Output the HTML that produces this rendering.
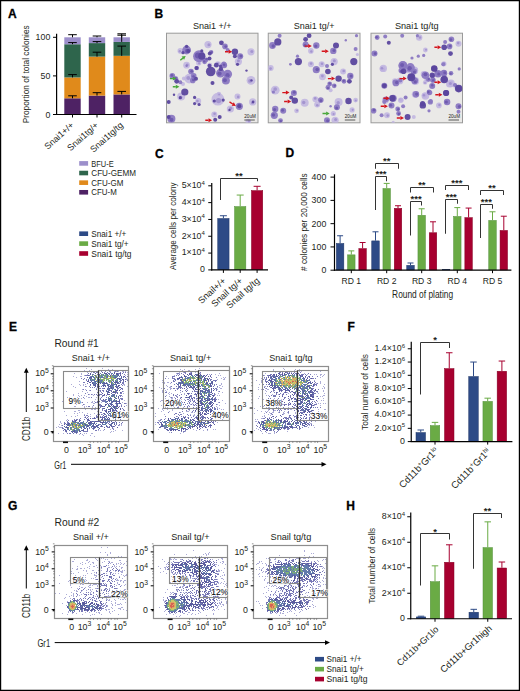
<!DOCTYPE html>
<html><head><meta charset="utf-8"><style>
html,body{margin:0;padding:0;background:#fff;overflow:hidden;width:520px;height:691px;}
svg{display:block;font-family:"Liberation Sans",sans-serif;}
</style></head><body>
<svg width="520" height="691" viewBox="0 0 520 691" fill="#231f20">
<rect x="0" y="0" width="520" height="691" fill="#fff"/>
<text x="8" y="18.2" font-size="12" font-weight="bold" fill="#000" stroke="#000" stroke-width="0.3">A</text>
<text x="154.5" y="18.2" font-size="12" font-weight="bold" fill="#000" stroke="#000" stroke-width="0.3">B</text>
<text x="155" y="157.5" font-size="12" font-weight="bold" fill="#000" stroke="#000" stroke-width="0.3">C</text>
<text x="285.5" y="157.2" font-size="12" font-weight="bold" fill="#000" stroke="#000" stroke-width="0.3">D</text>
<text x="9" y="331.4" font-size="12" font-weight="bold" fill="#000" stroke="#000" stroke-width="0.3">E</text>
<text x="347.5" y="331.4" font-size="12" font-weight="bold" fill="#000" stroke="#000" stroke-width="0.3">F</text>
<text x="8" y="510.2" font-size="12" font-weight="bold" fill="#000" stroke="#000" stroke-width="0.3">G</text>
<text x="346.2" y="509.6" font-size="12" font-weight="bold" fill="#000" stroke="#000" stroke-width="0.3">H</text>
<rect x="64.3" y="98.288" width="16.4" height="16.212000000000003" fill="#4e2264"/>
<rect x="64.3" y="77.444" width="16.4" height="20.843999999999994" fill="#e08a1b"/>
<rect x="64.3" y="44.248000000000005" width="16.4" height="33.196" fill="#2e654c"/>
<rect x="64.3" y="37.3" width="16.4" height="6.9480000000000075" fill="#9c8fcb"/>
<rect x="88.8" y="95.586" width="16.4" height="18.914" fill="#4e2264"/>
<rect x="88.8" y="56.6" width="16.4" height="38.986" fill="#e08a1b"/>
<rect x="88.8" y="43.09" width="16.4" height="13.509999999999998" fill="#2e654c"/>
<rect x="88.8" y="37.3" width="16.4" height="5.790000000000006" fill="#9c8fcb"/>
<rect x="113.5" y="94.428" width="16.4" height="20.072000000000003" fill="#4e2264"/>
<rect x="113.5" y="55.827999999999996" width="16.4" height="38.6" fill="#e08a1b"/>
<rect x="113.5" y="41.932" width="16.4" height="13.895999999999994" fill="#2e654c"/>
<rect x="113.5" y="37.3" width="16.4" height="4.632000000000005" fill="#9c8fcb"/>
<line x1="72.5" y1="98.3" x2="72.5" y2="95.8" stroke="#000" stroke-width="1"/>
<line x1="68.2" y1="95.8" x2="76.8" y2="95.8" stroke="#000" stroke-width="1"/>
<line x1="72.5" y1="77.4" x2="72.5" y2="74.6" stroke="#000" stroke-width="1"/>
<line x1="68.2" y1="74.6" x2="76.8" y2="74.6" stroke="#000" stroke-width="1"/>
<line x1="72.5" y1="44.2" x2="72.5" y2="42.6" stroke="#000" stroke-width="1"/>
<line x1="68.2" y1="42.6" x2="76.8" y2="42.6" stroke="#000" stroke-width="1"/>
<line x1="72.5" y1="37.3" x2="72.5" y2="34.7" stroke="#000" stroke-width="1"/>
<line x1="68.2" y1="34.7" x2="76.8" y2="34.7" stroke="#000" stroke-width="1"/>
<line x1="97" y1="95.6" x2="97" y2="92.7" stroke="#000" stroke-width="1"/>
<line x1="92.7" y1="92.7" x2="101.3" y2="92.7" stroke="#000" stroke-width="1"/>
<line x1="97" y1="56.6" x2="97" y2="52.2" stroke="#000" stroke-width="1"/>
<line x1="92.7" y1="52.2" x2="101.3" y2="52.2" stroke="#000" stroke-width="1"/>
<line x1="97" y1="43.1" x2="97" y2="41.6" stroke="#000" stroke-width="1"/>
<line x1="92.7" y1="41.6" x2="101.3" y2="41.6" stroke="#000" stroke-width="1"/>
<line x1="97" y1="37.3" x2="97" y2="36" stroke="#000" stroke-width="1"/>
<line x1="92.7" y1="36" x2="101.3" y2="36" stroke="#000" stroke-width="1"/>
<line x1="121.7" y1="94.4" x2="121.7" y2="91.4" stroke="#000" stroke-width="1"/>
<line x1="117.4" y1="91.4" x2="126.0" y2="91.4" stroke="#000" stroke-width="1"/>
<line x1="121.7" y1="55.8" x2="121.7" y2="46.1" stroke="#000" stroke-width="1"/>
<line x1="117.4" y1="46.1" x2="126.0" y2="46.1" stroke="#000" stroke-width="1"/>
<line x1="121.7" y1="41.9" x2="121.7" y2="33.8" stroke="#000" stroke-width="1"/>
<line x1="117.4" y1="33.8" x2="126.0" y2="33.8" stroke="#000" stroke-width="1"/>
<line x1="121.7" y1="37.3" x2="121.7" y2="35.2" stroke="#000" stroke-width="1"/>
<line x1="117.4" y1="35.2" x2="126.0" y2="35.2" stroke="#000" stroke-width="1"/>
<line x1="56.6" y1="33.8" x2="56.6" y2="115.0" stroke="#000" stroke-width="1.2"/>
<line x1="56.0" y1="114.5" x2="136.5" y2="114.5" stroke="#000" stroke-width="1.2"/>
<line x1="53" y1="114.5" x2="56.6" y2="114.5" stroke="#000" stroke-width="1"/>
<line x1="53" y1="75.9" x2="56.6" y2="75.9" stroke="#000" stroke-width="1"/>
<line x1="53" y1="37.3" x2="56.6" y2="37.3" stroke="#000" stroke-width="1"/>
<line x1="72.5" y1="114.5" x2="72.5" y2="117.5" stroke="#000" stroke-width="1"/>
<line x1="97" y1="114.5" x2="97" y2="117.5" stroke="#000" stroke-width="1"/>
<line x1="121.7" y1="114.5" x2="121.7" y2="117.5" stroke="#000" stroke-width="1"/>
<text x="50.3" y="117.6" font-size="8.8" text-anchor="end">0</text>
<text x="50.3" y="79.0" font-size="8.8" text-anchor="end">50</text>
<text x="50.3" y="40.4" font-size="8.8" text-anchor="end">100</text>
<text transform="translate(29.2 123.3) rotate(-90)" font-size="9" textLength="98" lengthAdjust="spacingAndGlyphs">Proportion of total colonies</text>
<text transform="translate(74.5 126.0) rotate(-42)" font-size="9.0" text-anchor="end">Snai1+/+</text>
<text transform="translate(99.0 126.0) rotate(-42)" font-size="9.0" text-anchor="end">Snai1tg/+</text>
<text transform="translate(123.7 126.0) rotate(-42)" font-size="9.0" text-anchor="end">Snai1tg/tg</text>
<rect x="79.2" y="161.1" width="8.9" height="4.6" fill="#9c8fcb"/>
<text x="91.3" y="166.5" font-size="8.9" textLength="22.4" lengthAdjust="spacingAndGlyphs">BFU-E</text>
<rect x="79.2" y="170.73" width="8.9" height="4.6" fill="#2e654c"/>
<text x="91.3" y="176.13" font-size="8.9" textLength="44.6" lengthAdjust="spacingAndGlyphs">CFU-GEMM</text>
<rect x="79.2" y="180.35999999999999" width="8.9" height="4.6" fill="#e08a1b"/>
<text x="91.3" y="185.76" font-size="8.9" textLength="32" lengthAdjust="spacingAndGlyphs">CFU-GM</text>
<rect x="79.2" y="189.99" width="8.9" height="4.6" fill="#4e2264"/>
<text x="91.3" y="195.39000000000001" font-size="8.9" textLength="25.5" lengthAdjust="spacingAndGlyphs">CFU-M</text>
<rect x="79.2" y="231.39999999999998" width="8.9" height="4.6" fill="#2d4a86"/>
<text x="91.3" y="236.89999999999998" font-size="9.1" textLength="35" lengthAdjust="spacingAndGlyphs">Snai1 +/+</text>
<rect x="79.2" y="241.29999999999998" width="8.9" height="4.6" fill="#6aab45"/>
<text x="91.3" y="246.79999999999998" font-size="9.1" textLength="37.4" lengthAdjust="spacingAndGlyphs">Snai1 tg/+</text>
<rect x="79.2" y="251.2" width="8.9" height="4.6" fill="#a7002f"/>
<text x="91.3" y="256.7" font-size="9.1" textLength="40.2" lengthAdjust="spacingAndGlyphs">Snai1 tg/tg</text>
<text x="212.25" y="28.5" font-size="9.5" text-anchor="middle" textLength="38.75" lengthAdjust="spacingAndGlyphs">Snai1 +/+</text>
<rect x="166.5" y="33.2" width="91.5" height="89.6" fill="#eae9e7" stroke="#9a9a9a" stroke-width="1"/>
<text x="314.125" y="28.5" font-size="9.5" text-anchor="middle" textLength="40.75" lengthAdjust="spacingAndGlyphs">Snai1 tg/+</text>
<rect x="268.25" y="33.2" width="91.75" height="89.6" fill="#eae9e7" stroke="#9a9a9a" stroke-width="1"/>
<text x="416.75" y="28.5" font-size="9.5" text-anchor="middle" textLength="43.75" lengthAdjust="spacingAndGlyphs">Snai1 tg/tg</text>
<rect x="371" y="33.2" width="91.5" height="89.6" fill="#eae9e7" stroke="#9a9a9a" stroke-width="1"/>
<defs><filter id="bl" x="-20%" y="-20%" width="140%" height="140%"><feGaussianBlur stdDeviation="0.35"/></filter><filter id="fb" x="-5%" y="-5%" width="110%" height="110%"><feGaussianBlur stdDeviation="0.5"/></filter><clipPath id="c1"><rect x="166.5" y="33.2" width="91.5" height="89.6"/></clipPath><clipPath id="c2"><rect x="268.25" y="33.2" width="91.75" height="89.6"/></clipPath><clipPath id="c3"><rect x="371" y="33.2" width="91.5" height="89.6"/></clipPath></defs>
<g clip-path="url(#c1)"><g filter="url(#bl)"><circle cx="217.9" cy="99.2" r="6.4" fill="#c0b4e0" fill-opacity="0.85"/><circle cx="218.6" cy="100.6" r="2.7" fill="#9c8ccc" fill-opacity="0.8"/><circle cx="189.2" cy="78.6" r="4.8" fill="#c0b4e0" fill-opacity="0.85"/><circle cx="188.3" cy="77.9" r="2.0" fill="#9c8ccc" fill-opacity="0.8"/><circle cx="251.0" cy="80.4" r="4.4" fill="#c0b4e0" fill-opacity="0.85"/><circle cx="250.0" cy="80.9" r="1.9" fill="#9c8ccc" fill-opacity="0.8"/><circle cx="181.2" cy="96.5" r="4.0" fill="#c0b4e0" fill-opacity="0.85"/><circle cx="180.7" cy="97.4" r="1.7" fill="#9c8ccc" fill-opacity="0.8"/><circle cx="208.0" cy="44.6" r="3.6" fill="#c0b4e0" fill-opacity="0.85"/><circle cx="208.9" cy="44.8" r="1.5" fill="#9c8ccc" fill-opacity="0.8"/><circle cx="238.4" cy="61.6" r="3.6" fill="#c0b4e0" fill-opacity="0.85"/><circle cx="238.4" cy="60.7" r="1.5" fill="#9c8ccc" fill-opacity="0.8"/><circle cx="251.0" cy="51.8" r="3.6" fill="#c0b4e0" fill-opacity="0.85"/><circle cx="251.8" cy="51.5" r="1.5" fill="#9c8ccc" fill-opacity="0.8"/><circle cx="252.7" cy="101.9" r="3.6" fill="#c0b4e0" fill-opacity="0.85"/><circle cx="252.5" cy="102.7" r="1.5" fill="#9c8ccc" fill-opacity="0.8"/><circle cx="230.4" cy="109.0" r="3.6" fill="#c0b4e0" fill-opacity="0.85"/><circle cx="230.7" cy="108.2" r="1.5" fill="#9c8ccc" fill-opacity="0.8"/><circle cx="186.6" cy="65.2" r="3.4" fill="#c0b4e0" fill-opacity="0.85"/><circle cx="187.3" cy="64.9" r="1.4" fill="#9c8ccc" fill-opacity="0.8"/><circle cx="217.9" cy="64.3" r="3.0" fill="#c0b4e0" fill-opacity="0.85"/><circle cx="217.8" cy="63.6" r="1.3" fill="#9c8ccc" fill-opacity="0.8"/><circle cx="198.2" cy="101.0" r="3.0" fill="#c0b4e0" fill-opacity="0.85"/><circle cx="197.4" cy="101.0" r="1.3" fill="#9c8ccc" fill-opacity="0.8"/><circle cx="237.5" cy="96.5" r="3.0" fill="#c0b4e0" fill-opacity="0.85"/><circle cx="238.2" cy="96.9" r="1.3" fill="#9c8ccc" fill-opacity="0.8"/><circle cx="214.3" cy="114.4" r="3.0" fill="#c0b4e0" fill-opacity="0.85"/><circle cx="214.6" cy="113.7" r="1.3" fill="#9c8ccc" fill-opacity="0.8"/><circle cx="180.3" cy="50.9" r="2.8" fill="#c0b4e0" fill-opacity="0.85"/><circle cx="179.8" cy="51.3" r="1.2" fill="#9c8ccc" fill-opacity="0.8"/><circle cx="248.3" cy="121.5" r="2.8" fill="#c0b4e0" fill-opacity="0.85"/><circle cx="249.0" cy="121.5" r="1.2" fill="#9c8ccc" fill-opacity="0.8"/><circle cx="198.7" cy="62.9" r="2.6" fill="#c0b4e0" fill-opacity="0.85"/><circle cx="199.1" cy="63.4" r="1.1" fill="#9c8ccc" fill-opacity="0.8"/><circle cx="209.8" cy="65.2" r="2.4" fill="#c0b4e0" fill-opacity="0.85"/><circle cx="209.3" cy="64.9" r="1.0" fill="#9c8ccc" fill-opacity="0.8"/><circle cx="218.9" cy="94.0" r="2.2" fill="#c0b4e0" fill-opacity="0.85"/><circle cx="219.1" cy="94.5" r="0.9" fill="#9c8ccc" fill-opacity="0.8"/><circle cx="183.0" cy="84.0" r="2.0" fill="#c0b4e0" fill-opacity="0.85"/><circle cx="183.9" cy="78.6" r="2.0" fill="#c0b4e0" fill-opacity="0.85"/><circle cx="199.1" cy="56.2" r="6.0" fill="#8b79c2" fill-opacity="0.95"/><circle cx="197.9" cy="55.4" r="3.0" fill="#6853aa" fill-opacity="0.8"/><circle cx="186.6" cy="50.0" r="4.4" fill="#8b79c2" fill-opacity="0.95"/><circle cx="187.2" cy="50.9" r="2.2" fill="#6853aa" fill-opacity="0.8"/><circle cx="220.5" cy="73.2" r="4.4" fill="#8b79c2" fill-opacity="0.95"/><circle cx="219.5" cy="73.6" r="2.2" fill="#6853aa" fill-opacity="0.8"/><circle cx="227.7" cy="74.1" r="4.4" fill="#8b79c2" fill-opacity="0.95"/><circle cx="227.5" cy="75.2" r="2.2" fill="#6853aa" fill-opacity="0.8"/><circle cx="225.9" cy="80.4" r="4.0" fill="#8b79c2" fill-opacity="0.95"/><circle cx="224.9" cy="80.3" r="2.0" fill="#6853aa" fill-opacity="0.8"/><circle cx="171.4" cy="118.8" r="4.0" fill="#8b79c2" fill-opacity="0.95"/><circle cx="171.5" cy="119.8" r="2.0" fill="#6853aa" fill-opacity="0.8"/><circle cx="239.3" cy="106.3" r="3.6" fill="#8b79c2" fill-opacity="0.95"/><circle cx="239.3" cy="105.4" r="1.8" fill="#6853aa" fill-opacity="0.8"/><circle cx="240.2" cy="56.2" r="3.0" fill="#8b79c2" fill-opacity="0.95"/><circle cx="240.9" cy="56.0" r="1.5" fill="#6853aa" fill-opacity="0.8"/><circle cx="224.1" cy="65.2" r="3.0" fill="#8b79c2" fill-opacity="0.95"/><circle cx="224.8" cy="64.9" r="1.5" fill="#6853aa" fill-opacity="0.8"/><circle cx="225.0" cy="46.4" r="2.8" fill="#8b79c2" fill-opacity="0.95"/><circle cx="225.7" cy="46.6" r="1.4" fill="#6853aa" fill-opacity="0.8"/><circle cx="191.0" cy="71.5" r="2.8" fill="#8b79c2" fill-opacity="0.95"/><circle cx="191.7" cy="71.3" r="1.4" fill="#6853aa" fill-opacity="0.8"/><circle cx="193.7" cy="75.9" r="2.8" fill="#8b79c2" fill-opacity="0.95"/><circle cx="193.6" cy="76.6" r="1.4" fill="#6853aa" fill-opacity="0.8"/><circle cx="192.8" cy="80.4" r="2.8" fill="#8b79c2" fill-opacity="0.95"/><circle cx="193.4" cy="79.9" r="1.4" fill="#6853aa" fill-opacity="0.8"/><circle cx="172.3" cy="75.9" r="2.8" fill="#8b79c2" fill-opacity="0.95"/><circle cx="171.9" cy="75.4" r="1.4" fill="#6853aa" fill-opacity="0.8"/><circle cx="223.8" cy="64.1" r="2.6" fill="#8b79c2" fill-opacity="0.95"/><circle cx="224.1" cy="64.7" r="1.3" fill="#6853aa" fill-opacity="0.8"/><circle cx="206.2" cy="59.8" r="2.4" fill="#8b79c2" fill-opacity="0.95"/><circle cx="206.4" cy="59.3" r="1.2" fill="#6853aa" fill-opacity="0.8"/><circle cx="175.8" cy="78.6" r="2.4" fill="#8b79c2" fill-opacity="0.95"/><circle cx="175.7" cy="78.0" r="1.2" fill="#6853aa" fill-opacity="0.8"/><circle cx="204.6" cy="61.8" r="2.4" fill="#8b79c2" fill-opacity="0.95"/><circle cx="204.2" cy="61.4" r="1.2" fill="#6853aa" fill-opacity="0.8"/><circle cx="211.2" cy="52.1" r="2.2" fill="#8b79c2" fill-opacity="0.95"/><circle cx="211.8" cy="52.1" r="1.1" fill="#6853aa" fill-opacity="0.8"/><circle cx="196.9" cy="68.1" r="2.2" fill="#8b79c2" fill-opacity="0.95"/><circle cx="197.3" cy="67.6" r="1.1" fill="#6853aa" fill-opacity="0.8"/><circle cx="227.7" cy="50.0" r="2.0" fill="#8b79c2" fill-opacity="0.95"/><circle cx="180.3" cy="82.2" r="2.0" fill="#8b79c2" fill-opacity="0.95"/><circle cx="186.6" cy="65.7" r="1.2" fill="#8b79c2" fill-opacity="0.95"/><circle cx="210.7" cy="71.5" r="4.8" fill="#5b469e" fill-opacity="0.95"/><circle cx="201.8" cy="56.2" r="3.6" fill="#5b469e" fill-opacity="0.95"/><circle cx="184.8" cy="92.0" r="3.6" fill="#5b469e" fill-opacity="0.95"/><circle cx="234.9" cy="51.8" r="3.2" fill="#5b469e" fill-opacity="0.95"/><circle cx="221.4" cy="42.8" r="2.4" fill="#5b469e" fill-opacity="0.95"/><circle cx="176.7" cy="81.3" r="2.4" fill="#5b469e" fill-opacity="0.95"/><circle cx="216.3" cy="65.2" r="2.4" fill="#5b469e" fill-opacity="0.95"/><circle cx="220.9" cy="68.9" r="2.2" fill="#5b469e" fill-opacity="0.95"/><circle cx="188.4" cy="50.9" r="2.0" fill="#5b469e" fill-opacity="0.95"/><circle cx="209.8" cy="53.6" r="2.0" fill="#5b469e" fill-opacity="0.95"/><circle cx="234.9" cy="56.2" r="2.0" fill="#5b469e" fill-opacity="0.95"/><circle cx="196.4" cy="67.9" r="2.0" fill="#5b469e" fill-opacity="0.95"/><circle cx="212.5" cy="83.1" r="2.0" fill="#5b469e" fill-opacity="0.95"/><circle cx="168.7" cy="101.9" r="2.0" fill="#5b469e" fill-opacity="0.95"/><circle cx="239.3" cy="106.3" r="2.0" fill="#5b469e" fill-opacity="0.95"/><circle cx="215.2" cy="119.7" r="2.0" fill="#5b469e" fill-opacity="0.95"/><circle cx="219.7" cy="117.1" r="2.0" fill="#5b469e" fill-opacity="0.95"/><circle cx="168.7" cy="117.1" r="2.0" fill="#5b469e" fill-opacity="0.95"/><circle cx="209.5" cy="58.6" r="2.0" fill="#5b469e" fill-opacity="0.95"/><circle cx="196.0" cy="78.8" r="2.0" fill="#5b469e" fill-opacity="0.95"/><circle cx="209.5" cy="65.7" r="2.0" fill="#5b469e" fill-opacity="0.95"/><circle cx="186.6" cy="46.4" r="1.6" fill="#5b469e" fill-opacity="0.95"/><circle cx="183.0" cy="52.7" r="1.6" fill="#5b469e" fill-opacity="0.95"/><circle cx="201.8" cy="50.9" r="1.6" fill="#5b469e" fill-opacity="0.95"/><circle cx="237.5" cy="64.3" r="1.6" fill="#5b469e" fill-opacity="0.95"/><circle cx="220.5" cy="66.1" r="1.6" fill="#5b469e" fill-opacity="0.95"/><circle cx="180.3" cy="97.7" r="1.6" fill="#5b469e" fill-opacity="0.95"/><circle cx="194.6" cy="97.4" r="1.6" fill="#5b469e" fill-opacity="0.95"/><circle cx="194.6" cy="103.6" r="1.6" fill="#5b469e" fill-opacity="0.95"/><circle cx="199.1" cy="104.5" r="1.6" fill="#5b469e" fill-opacity="0.95"/><circle cx="214.3" cy="101.0" r="1.6" fill="#5b469e" fill-opacity="0.95"/><circle cx="223.2" cy="100.1" r="1.6" fill="#5b469e" fill-opacity="0.95"/><circle cx="253.1" cy="101.9" r="1.4" fill="#5b469e" fill-opacity="0.95"/><circle cx="246.5" cy="70.6" r="1.2" fill="#5b469e" fill-opacity="0.95"/><circle cx="251.5" cy="80.4" r="1.2" fill="#5b469e" fill-opacity="0.95"/><circle cx="174.0" cy="94.7" r="1.2" fill="#5b469e" fill-opacity="0.95"/><circle cx="229.5" cy="109.9" r="1.2" fill="#5b469e" fill-opacity="0.95"/></g><line x1="225.0" y1="51.8" x2="228.6" y2="51.8" stroke="#d4141c" stroke-width="1.4"/><path d="M232.2,51.8L228.6,53.8L228.6,49.8Z" fill="#d4141c"/><line x1="229.5" y1="101.9" x2="232.7" y2="104.0" stroke="#d4141c" stroke-width="1.4"/><path d="M235.8,106.0L231.6,105.7L233.8,102.3Z" fill="#d4141c"/><line x1="205.3" y1="120.3" x2="208.5" y2="120.3" stroke="#d4141c" stroke-width="1.4"/><path d="M212.1,120.3L208.5,122.3L208.5,118.3Z" fill="#d4141c"/><line x1="180.3" y1="60.2" x2="182.9" y2="58.1" stroke="#49a83a" stroke-width="1.4"/><path d="M185.7,55.9L184.1,59.7L181.6,56.6Z" fill="#49a83a"/><line x1="169.9" y1="78.6" x2="172.8" y2="78.6" stroke="#49a83a" stroke-width="1.4"/><path d="M176.4,78.6L172.8,80.6L172.8,76.6Z" fill="#49a83a"/><line x1="172.8" y1="86.7" x2="175.8" y2="86.7" stroke="#49a83a" stroke-width="1.4"/><path d="M179.4,86.7L175.8,88.7L175.8,84.7Z" fill="#49a83a"/><text x="244.3" y="117.7" font-size="4.6" fill="#222">20uM</text><line x1="244.3" y1="120" x2="254.8" y2="120" stroke="#333" stroke-width="0.8"/></g>
<g clip-path="url(#c2)"><g filter="url(#bl)"><circle cx="275.2" cy="90.2" r="4.4" fill="#c0b4e0" fill-opacity="0.85"/><circle cx="275.2" cy="89.1" r="1.9" fill="#9c8ccc" fill-opacity="0.8"/><circle cx="304.7" cy="102.8" r="4.0" fill="#c0b4e0" fill-opacity="0.85"/><circle cx="303.7" cy="102.5" r="1.7" fill="#9c8ccc" fill-opacity="0.8"/><circle cx="338.6" cy="101.9" r="4.0" fill="#c0b4e0" fill-opacity="0.85"/><circle cx="338.2" cy="102.8" r="1.7" fill="#9c8ccc" fill-opacity="0.8"/><circle cx="334.2" cy="61.6" r="3.6" fill="#c0b4e0" fill-opacity="0.85"/><circle cx="334.3" cy="60.7" r="1.5" fill="#9c8ccc" fill-opacity="0.8"/><circle cx="335.1" cy="120.3" r="3.6" fill="#c0b4e0" fill-opacity="0.85"/><circle cx="335.6" cy="119.5" r="1.5" fill="#9c8ccc" fill-opacity="0.8"/><circle cx="322.5" cy="76.8" r="3.4" fill="#c0b4e0" fill-opacity="0.85"/><circle cx="322.4" cy="76.0" r="1.4" fill="#9c8ccc" fill-opacity="0.8"/><circle cx="310.9" cy="64.3" r="3.0" fill="#c0b4e0" fill-opacity="0.85"/><circle cx="311.1" cy="63.6" r="1.3" fill="#9c8ccc" fill-opacity="0.8"/><circle cx="321.7" cy="64.3" r="3.0" fill="#c0b4e0" fill-opacity="0.85"/><circle cx="322.0" cy="63.7" r="1.3" fill="#9c8ccc" fill-opacity="0.8"/><circle cx="270.7" cy="67.9" r="3.0" fill="#c0b4e0" fill-opacity="0.85"/><circle cx="270.6" cy="68.6" r="1.3" fill="#9c8ccc" fill-opacity="0.8"/><circle cx="343.1" cy="71.5" r="3.0" fill="#c0b4e0" fill-opacity="0.85"/><circle cx="343.7" cy="71.0" r="1.3" fill="#9c8ccc" fill-opacity="0.8"/><circle cx="315.4" cy="99.2" r="3.0" fill="#c0b4e0" fill-opacity="0.85"/><circle cx="315.2" cy="98.4" r="1.3" fill="#9c8ccc" fill-opacity="0.8"/><circle cx="317.2" cy="104.5" r="3.0" fill="#c0b4e0" fill-opacity="0.85"/><circle cx="317.3" cy="105.3" r="1.3" fill="#9c8ccc" fill-opacity="0.8"/><circle cx="310.9" cy="50.9" r="2.8" fill="#c0b4e0" fill-opacity="0.85"/><circle cx="311.3" cy="51.5" r="1.2" fill="#9c8ccc" fill-opacity="0.8"/><circle cx="333.3" cy="113.5" r="2.6" fill="#c0b4e0" fill-opacity="0.85"/><circle cx="333.6" cy="114.1" r="1.1" fill="#9c8ccc" fill-opacity="0.8"/><circle cx="352.1" cy="109.9" r="2.6" fill="#c0b4e0" fill-opacity="0.85"/><circle cx="352.7" cy="109.8" r="1.1" fill="#9c8ccc" fill-opacity="0.8"/><circle cx="355.6" cy="100.1" r="2.4" fill="#c0b4e0" fill-opacity="0.85"/><circle cx="355.8" cy="100.6" r="1.0" fill="#9c8ccc" fill-opacity="0.8"/><circle cx="296.6" cy="110.8" r="2.4" fill="#c0b4e0" fill-opacity="0.85"/><circle cx="297.1" cy="110.4" r="1.0" fill="#9c8ccc" fill-opacity="0.8"/><circle cx="330.6" cy="90.2" r="2.0" fill="#c0b4e0" fill-opacity="0.85"/><circle cx="357.4" cy="54.5" r="1.6" fill="#c0b4e0" fill-opacity="0.85"/><circle cx="316.3" cy="69.7" r="3.6" fill="#8b79c2" fill-opacity="0.95"/><circle cx="317.2" cy="69.5" r="1.8" fill="#6853aa" fill-opacity="0.8"/><circle cx="274.3" cy="115.3" r="3.6" fill="#8b79c2" fill-opacity="0.95"/><circle cx="273.4" cy="115.0" r="1.8" fill="#6853aa" fill-opacity="0.8"/><circle cx="272.5" cy="45.5" r="3.4" fill="#8b79c2" fill-opacity="0.95"/><circle cx="273.2" cy="46.0" r="1.7" fill="#6853aa" fill-opacity="0.8"/><circle cx="316.3" cy="45.5" r="3.2" fill="#8b79c2" fill-opacity="0.95"/><circle cx="315.8" cy="46.1" r="1.6" fill="#6853aa" fill-opacity="0.8"/><circle cx="333.3" cy="50.9" r="3.2" fill="#8b79c2" fill-opacity="0.95"/><circle cx="334.0" cy="50.5" r="1.6" fill="#6853aa" fill-opacity="0.8"/><circle cx="350.3" cy="75.9" r="3.2" fill="#8b79c2" fill-opacity="0.95"/><circle cx="351.1" cy="76.0" r="1.6" fill="#6853aa" fill-opacity="0.8"/><circle cx="275.2" cy="109.0" r="3.2" fill="#8b79c2" fill-opacity="0.95"/><circle cx="274.6" cy="109.6" r="1.6" fill="#6853aa" fill-opacity="0.8"/><circle cx="305.6" cy="44.6" r="3.0" fill="#8b79c2" fill-opacity="0.95"/><circle cx="305.1" cy="45.2" r="1.5" fill="#6853aa" fill-opacity="0.8"/><circle cx="293.9" cy="92.9" r="3.0" fill="#8b79c2" fill-opacity="0.95"/><circle cx="294.3" cy="92.3" r="1.5" fill="#6853aa" fill-opacity="0.8"/><circle cx="336.9" cy="107.2" r="3.0" fill="#8b79c2" fill-opacity="0.95"/><circle cx="336.7" cy="107.9" r="1.5" fill="#6853aa" fill-opacity="0.8"/><circle cx="283.2" cy="110.8" r="3.0" fill="#8b79c2" fill-opacity="0.95"/><circle cx="282.6" cy="110.3" r="1.5" fill="#6853aa" fill-opacity="0.8"/><circle cx="327.0" cy="120.3" r="3.0" fill="#8b79c2" fill-opacity="0.95"/><circle cx="327.6" cy="120.7" r="1.5" fill="#6853aa" fill-opacity="0.8"/><circle cx="320.8" cy="100.1" r="2.8" fill="#8b79c2" fill-opacity="0.95"/><circle cx="320.9" cy="100.7" r="1.4" fill="#6853aa" fill-opacity="0.8"/><circle cx="344.0" cy="81.3" r="2.4" fill="#8b79c2" fill-opacity="0.95"/><circle cx="343.7" cy="80.8" r="1.2" fill="#6853aa" fill-opacity="0.8"/><circle cx="329.7" cy="84.0" r="2.4" fill="#8b79c2" fill-opacity="0.95"/><circle cx="329.7" cy="83.4" r="1.2" fill="#6853aa" fill-opacity="0.8"/><circle cx="327.9" cy="87.5" r="2.4" fill="#8b79c2" fill-opacity="0.95"/><circle cx="328.0" cy="88.1" r="1.2" fill="#6853aa" fill-opacity="0.8"/><circle cx="334.2" cy="85.8" r="2.4" fill="#8b79c2" fill-opacity="0.95"/><circle cx="334.8" cy="85.6" r="1.2" fill="#6853aa" fill-opacity="0.8"/><circle cx="280.5" cy="120.6" r="2.4" fill="#8b79c2" fill-opacity="0.95"/><circle cx="280.8" cy="121.1" r="1.2" fill="#6853aa" fill-opacity="0.8"/><circle cx="279.6" cy="35.7" r="2.0" fill="#8b79c2" fill-opacity="0.95"/><circle cx="355.6" cy="49.1" r="2.0" fill="#8b79c2" fill-opacity="0.95"/><circle cx="327.0" cy="66.1" r="2.0" fill="#8b79c2" fill-opacity="0.95"/><circle cx="356.5" cy="35.7" r="1.6" fill="#8b79c2" fill-opacity="0.95"/><circle cx="297.5" cy="56.2" r="1.6" fill="#8b79c2" fill-opacity="0.95"/><circle cx="273.4" cy="92.0" r="1.6" fill="#8b79c2" fill-opacity="0.95"/><circle cx="290.4" cy="64.3" r="1.4" fill="#8b79c2" fill-opacity="0.95"/><circle cx="345.8" cy="40.2" r="1.2" fill="#8b79c2" fill-opacity="0.95"/><circle cx="330.6" cy="106.3" r="1.2" fill="#8b79c2" fill-opacity="0.95"/><circle cx="277.8" cy="41.9" r="3.6" fill="#5b469e" fill-opacity="0.95"/><circle cx="298.4" cy="61.6" r="3.6" fill="#5b469e" fill-opacity="0.95"/><circle cx="353.8" cy="61.6" r="3.6" fill="#5b469e" fill-opacity="0.95"/><circle cx="338.6" cy="78.6" r="3.2" fill="#5b469e" fill-opacity="0.95"/><circle cx="294.8" cy="100.6" r="3.2" fill="#5b469e" fill-opacity="0.95"/><circle cx="348.5" cy="101.0" r="3.2" fill="#5b469e" fill-opacity="0.95"/><circle cx="336.0" cy="45.5" r="3.0" fill="#5b469e" fill-opacity="0.95"/><circle cx="327.9" cy="71.5" r="2.8" fill="#5b469e" fill-opacity="0.95"/><circle cx="309.1" cy="35.7" r="2.4" fill="#5b469e" fill-opacity="0.95"/><circle cx="305.6" cy="39.3" r="2.4" fill="#5b469e" fill-opacity="0.95"/><circle cx="349.4" cy="81.3" r="2.4" fill="#5b469e" fill-opacity="0.95"/><circle cx="291.2" cy="97.4" r="2.0" fill="#5b469e" fill-opacity="0.95"/><circle cx="332.4" cy="64.3" r="1.6" fill="#5b469e" fill-opacity="0.95"/></g><line x1="304.7" y1="46.1" x2="308.2" y2="46.1" stroke="#d4141c" stroke-width="1.4"/><path d="M311.8,46.1L308.2,48.1L308.2,44.1Z" fill="#d4141c"/><line x1="321.7" y1="51.2" x2="325.2" y2="51.2" stroke="#d4141c" stroke-width="1.4"/><path d="M328.8,51.2L325.2,53.2L325.2,49.2Z" fill="#d4141c"/><line x1="327.9" y1="78.6" x2="331.5" y2="78.6" stroke="#d4141c" stroke-width="1.4"/><path d="M335.1,78.6L331.5,80.6L331.5,76.6Z" fill="#d4141c"/><line x1="282.3" y1="92.6" x2="285.9" y2="92.6" stroke="#d4141c" stroke-width="1.4"/><path d="M289.5,92.6L285.9,94.6L285.9,90.6Z" fill="#d4141c"/><line x1="284.1" y1="101.5" x2="287.6" y2="101.5" stroke="#d4141c" stroke-width="1.4"/><path d="M291.2,101.5L287.6,103.5L287.6,99.5Z" fill="#d4141c"/><line x1="322.5" y1="113.5" x2="326.1" y2="113.5" stroke="#49a83a" stroke-width="1.4"/><path d="M329.7,113.5L326.1,115.5L326.1,111.5Z" fill="#49a83a"/><text x="344.8" y="117.7" font-size="4.6" fill="#222">20uM</text><line x1="344.8" y1="120" x2="355.3" y2="120" stroke="#333" stroke-width="0.8"/></g>
<g clip-path="url(#c3)"><g filter="url(#bl)"><circle cx="414.2" cy="70.4" r="4.0" fill="#c0b4e0" fill-opacity="0.85"/><circle cx="414.9" cy="71.1" r="1.7" fill="#9c8ccc" fill-opacity="0.8"/><circle cx="415.2" cy="80.9" r="4.0" fill="#c0b4e0" fill-opacity="0.85"/><circle cx="415.7" cy="80.1" r="1.7" fill="#9c8ccc" fill-opacity="0.8"/><circle cx="451.0" cy="83.4" r="3.8" fill="#c0b4e0" fill-opacity="0.85"/><circle cx="451.1" cy="82.5" r="1.6" fill="#9c8ccc" fill-opacity="0.8"/><circle cx="425.4" cy="96.0" r="3.8" fill="#c0b4e0" fill-opacity="0.85"/><circle cx="424.6" cy="95.4" r="1.6" fill="#9c8ccc" fill-opacity="0.8"/><circle cx="408.5" cy="69.7" r="3.6" fill="#c0b4e0" fill-opacity="0.85"/><circle cx="408.3" cy="70.5" r="1.5" fill="#9c8ccc" fill-opacity="0.8"/><circle cx="449.6" cy="84.0" r="3.6" fill="#c0b4e0" fill-opacity="0.85"/><circle cx="450.4" cy="83.5" r="1.5" fill="#9c8ccc" fill-opacity="0.8"/><circle cx="383.4" cy="68.4" r="3.6" fill="#c0b4e0" fill-opacity="0.85"/><circle cx="383.2" cy="69.3" r="1.5" fill="#9c8ccc" fill-opacity="0.8"/><circle cx="399.9" cy="80.9" r="3.4" fill="#c0b4e0" fill-opacity="0.85"/><circle cx="399.2" cy="80.4" r="1.4" fill="#9c8ccc" fill-opacity="0.8"/><circle cx="385.4" cy="100.2" r="3.4" fill="#c0b4e0" fill-opacity="0.85"/><circle cx="384.6" cy="99.8" r="1.4" fill="#9c8ccc" fill-opacity="0.8"/><circle cx="415.2" cy="94.3" r="3.4" fill="#c0b4e0" fill-opacity="0.85"/><circle cx="416.0" cy="94.1" r="1.4" fill="#9c8ccc" fill-opacity="0.8"/><circle cx="419.2" cy="37.5" r="3.2" fill="#c0b4e0" fill-opacity="0.85"/><circle cx="420.0" cy="37.5" r="1.3" fill="#9c8ccc" fill-opacity="0.8"/><circle cx="414.9" cy="70.4" r="3.2" fill="#c0b4e0" fill-opacity="0.85"/><circle cx="415.7" cy="70.3" r="1.3" fill="#9c8ccc" fill-opacity="0.8"/><circle cx="458.5" cy="43.7" r="3.0" fill="#c0b4e0" fill-opacity="0.85"/><circle cx="458.2" cy="43.1" r="1.3" fill="#9c8ccc" fill-opacity="0.8"/><circle cx="382.5" cy="68.8" r="3.0" fill="#c0b4e0" fill-opacity="0.85"/><circle cx="381.9" cy="68.3" r="1.3" fill="#9c8ccc" fill-opacity="0.8"/><circle cx="423.7" cy="74.1" r="3.0" fill="#c0b4e0" fill-opacity="0.85"/><circle cx="423.4" cy="74.9" r="1.3" fill="#9c8ccc" fill-opacity="0.8"/><circle cx="395.0" cy="81.3" r="3.0" fill="#c0b4e0" fill-opacity="0.85"/><circle cx="394.3" cy="81.1" r="1.3" fill="#9c8ccc" fill-opacity="0.8"/><circle cx="415.6" cy="94.7" r="3.0" fill="#c0b4e0" fill-opacity="0.85"/><circle cx="415.3" cy="95.4" r="1.3" fill="#9c8ccc" fill-opacity="0.8"/><circle cx="446.9" cy="101.9" r="3.0" fill="#c0b4e0" fill-opacity="0.85"/><circle cx="446.8" cy="101.1" r="1.3" fill="#9c8ccc" fill-opacity="0.8"/><circle cx="387.0" cy="115.3" r="3.0" fill="#c0b4e0" fill-opacity="0.85"/><circle cx="387.7" cy="115.6" r="1.3" fill="#9c8ccc" fill-opacity="0.8"/><circle cx="427.2" cy="79.5" r="2.8" fill="#c0b4e0" fill-opacity="0.85"/><circle cx="426.7" cy="80.0" r="1.2" fill="#9c8ccc" fill-opacity="0.8"/><circle cx="424.5" cy="95.6" r="2.8" fill="#c0b4e0" fill-opacity="0.85"/><circle cx="423.9" cy="95.3" r="1.2" fill="#9c8ccc" fill-opacity="0.8"/><circle cx="438.9" cy="105.4" r="2.8" fill="#c0b4e0" fill-opacity="0.85"/><circle cx="439.4" cy="105.0" r="1.2" fill="#9c8ccc" fill-opacity="0.8"/><circle cx="400.8" cy="100.2" r="2.8" fill="#c0b4e0" fill-opacity="0.85"/><circle cx="400.5" cy="99.6" r="1.2" fill="#9c8ccc" fill-opacity="0.8"/><circle cx="443.9" cy="63.8" r="2.6" fill="#c0b4e0" fill-opacity="0.85"/><circle cx="444.4" cy="63.4" r="1.1" fill="#9c8ccc" fill-opacity="0.8"/><circle cx="425.4" cy="50.0" r="2.4" fill="#c0b4e0" fill-opacity="0.85"/><circle cx="426.0" cy="49.7" r="1.0" fill="#9c8ccc" fill-opacity="0.8"/><circle cx="425.1" cy="82.4" r="2.2" fill="#c0b4e0" fill-opacity="0.85"/><circle cx="425.0" cy="82.9" r="0.9" fill="#9c8ccc" fill-opacity="0.8"/><circle cx="455.3" cy="85.8" r="2.2" fill="#c0b4e0" fill-opacity="0.85"/><circle cx="455.5" cy="85.2" r="0.9" fill="#9c8ccc" fill-opacity="0.8"/><circle cx="451.4" cy="73.2" r="2.0" fill="#c0b4e0" fill-opacity="0.85"/><circle cx="401.3" cy="100.1" r="2.0" fill="#c0b4e0" fill-opacity="0.85"/><circle cx="413.8" cy="117.1" r="2.0" fill="#c0b4e0" fill-opacity="0.85"/><circle cx="393.2" cy="122.4" r="1.6" fill="#c0b4e0" fill-opacity="0.85"/><circle cx="402.7" cy="65.5" r="4.4" fill="#8b79c2" fill-opacity="0.95"/><circle cx="402.0" cy="66.4" r="2.2" fill="#6853aa" fill-opacity="0.8"/><circle cx="410.4" cy="67.5" r="4.4" fill="#8b79c2" fill-opacity="0.95"/><circle cx="409.7" cy="68.3" r="2.2" fill="#6853aa" fill-opacity="0.8"/><circle cx="403.1" cy="65.2" r="4.0" fill="#8b79c2" fill-opacity="0.95"/><circle cx="402.1" cy="65.0" r="2.0" fill="#6853aa" fill-opacity="0.8"/><circle cx="425.4" cy="75.2" r="3.8" fill="#8b79c2" fill-opacity="0.95"/><circle cx="425.5" cy="74.3" r="1.9" fill="#6853aa" fill-opacity="0.8"/><circle cx="438.0" cy="73.8" r="3.8" fill="#8b79c2" fill-opacity="0.95"/><circle cx="437.4" cy="73.0" r="1.9" fill="#6853aa" fill-opacity="0.8"/><circle cx="393.1" cy="98.3" r="3.6" fill="#8b79c2" fill-opacity="0.95"/><circle cx="393.6" cy="97.6" r="1.8" fill="#6853aa" fill-opacity="0.8"/><circle cx="395.9" cy="82.9" r="3.4" fill="#8b79c2" fill-opacity="0.95"/><circle cx="396.7" cy="82.5" r="1.7" fill="#6853aa" fill-opacity="0.8"/><circle cx="443.9" cy="72.9" r="3.2" fill="#8b79c2" fill-opacity="0.95"/><circle cx="444.2" cy="72.2" r="1.6" fill="#6853aa" fill-opacity="0.8"/><circle cx="416.0" cy="94.3" r="3.2" fill="#8b79c2" fill-opacity="0.95"/><circle cx="416.7" cy="94.1" r="1.6" fill="#6853aa" fill-opacity="0.8"/><circle cx="414.9" cy="80.6" r="3.2" fill="#8b79c2" fill-opacity="0.95"/><circle cx="414.4" cy="81.2" r="1.6" fill="#6853aa" fill-opacity="0.8"/><circle cx="447.1" cy="102.0" r="3.2" fill="#8b79c2" fill-opacity="0.95"/><circle cx="446.3" cy="102.0" r="1.6" fill="#6853aa" fill-opacity="0.8"/><circle cx="374.5" cy="53.6" r="3.0" fill="#8b79c2" fill-opacity="0.95"/><circle cx="375.2" cy="53.4" r="1.5" fill="#6853aa" fill-opacity="0.8"/><circle cx="413.8" cy="71.5" r="3.0" fill="#8b79c2" fill-opacity="0.95"/><circle cx="414.4" cy="71.9" r="1.5" fill="#6853aa" fill-opacity="0.8"/><circle cx="414.7" cy="81.3" r="3.0" fill="#8b79c2" fill-opacity="0.95"/><circle cx="415.3" cy="81.7" r="1.5" fill="#6853aa" fill-opacity="0.8"/><circle cx="444.2" cy="73.2" r="3.0" fill="#8b79c2" fill-opacity="0.95"/><circle cx="444.8" cy="72.7" r="1.5" fill="#6853aa" fill-opacity="0.8"/><circle cx="438.0" cy="74.1" r="3.0" fill="#8b79c2" fill-opacity="0.95"/><circle cx="438.7" cy="73.9" r="1.5" fill="#6853aa" fill-opacity="0.8"/><circle cx="444.2" cy="79.5" r="3.0" fill="#8b79c2" fill-opacity="0.95"/><circle cx="443.5" cy="79.4" r="1.5" fill="#6853aa" fill-opacity="0.8"/><circle cx="391.5" cy="105.4" r="3.0" fill="#8b79c2" fill-opacity="0.95"/><circle cx="390.7" cy="105.3" r="1.5" fill="#6853aa" fill-opacity="0.8"/><circle cx="458.5" cy="106.3" r="3.0" fill="#8b79c2" fill-opacity="0.95"/><circle cx="459.3" cy="106.4" r="1.5" fill="#6853aa" fill-opacity="0.8"/><circle cx="384.3" cy="85.8" r="3.0" fill="#8b79c2" fill-opacity="0.95"/><circle cx="384.9" cy="85.3" r="1.5" fill="#6853aa" fill-opacity="0.8"/><circle cx="432.2" cy="86.1" r="3.0" fill="#8b79c2" fill-opacity="0.95"/><circle cx="432.8" cy="85.6" r="1.5" fill="#6853aa" fill-opacity="0.8"/><circle cx="449.6" cy="46.4" r="2.8" fill="#8b79c2" fill-opacity="0.95"/><circle cx="450.2" cy="46.1" r="1.4" fill="#6853aa" fill-opacity="0.8"/><circle cx="451.4" cy="39.3" r="2.8" fill="#8b79c2" fill-opacity="0.95"/><circle cx="450.9" cy="39.7" r="1.4" fill="#6853aa" fill-opacity="0.8"/><circle cx="401.3" cy="70.6" r="2.8" fill="#8b79c2" fill-opacity="0.95"/><circle cx="401.2" cy="71.3" r="1.4" fill="#6853aa" fill-opacity="0.8"/><circle cx="386.1" cy="99.2" r="2.8" fill="#8b79c2" fill-opacity="0.95"/><circle cx="386.6" cy="98.7" r="1.4" fill="#6853aa" fill-opacity="0.8"/><circle cx="373.6" cy="110.8" r="2.8" fill="#8b79c2" fill-opacity="0.95"/><circle cx="374.0" cy="110.2" r="1.4" fill="#6853aa" fill-opacity="0.8"/><circle cx="433.1" cy="80.0" r="2.6" fill="#8b79c2" fill-opacity="0.95"/><circle cx="433.7" cy="79.7" r="1.3" fill="#6853aa" fill-opacity="0.8"/><circle cx="429.7" cy="92.6" r="2.6" fill="#8b79c2" fill-opacity="0.95"/><circle cx="429.1" cy="92.6" r="1.3" fill="#6853aa" fill-opacity="0.8"/><circle cx="430.3" cy="102.0" r="2.6" fill="#8b79c2" fill-opacity="0.95"/><circle cx="430.6" cy="101.5" r="1.3" fill="#6853aa" fill-opacity="0.8"/><circle cx="377.2" cy="37.5" r="2.4" fill="#8b79c2" fill-opacity="0.95"/><circle cx="376.6" cy="37.2" r="1.2" fill="#6853aa" fill-opacity="0.8"/><circle cx="432.6" cy="75.9" r="2.4" fill="#8b79c2" fill-opacity="0.95"/><circle cx="433.2" cy="76.0" r="1.2" fill="#6853aa" fill-opacity="0.8"/><circle cx="432.6" cy="80.4" r="2.4" fill="#8b79c2" fill-opacity="0.95"/><circle cx="433.2" cy="80.4" r="1.2" fill="#6853aa" fill-opacity="0.8"/><circle cx="432.6" cy="85.8" r="2.4" fill="#8b79c2" fill-opacity="0.95"/><circle cx="432.3" cy="85.2" r="1.2" fill="#6853aa" fill-opacity="0.8"/><circle cx="429.0" cy="92.0" r="2.4" fill="#8b79c2" fill-opacity="0.95"/><circle cx="428.4" cy="92.0" r="1.2" fill="#6853aa" fill-opacity="0.8"/><circle cx="397.7" cy="109.0" r="2.4" fill="#8b79c2" fill-opacity="0.95"/><circle cx="398.3" cy="109.3" r="1.2" fill="#6853aa" fill-opacity="0.8"/><circle cx="398.6" cy="113.5" r="2.4" fill="#8b79c2" fill-opacity="0.95"/><circle cx="398.9" cy="114.0" r="1.2" fill="#6853aa" fill-opacity="0.8"/><circle cx="428.5" cy="79.5" r="2.2" fill="#8b79c2" fill-opacity="0.95"/><circle cx="428.8" cy="79.1" r="1.1" fill="#6853aa" fill-opacity="0.8"/><circle cx="451.0" cy="73.2" r="2.2" fill="#8b79c2" fill-opacity="0.95"/><circle cx="450.7" cy="73.7" r="1.1" fill="#6853aa" fill-opacity="0.8"/><circle cx="385.2" cy="36.6" r="2.0" fill="#8b79c2" fill-opacity="0.95"/><circle cx="402.2" cy="35.7" r="2.0" fill="#8b79c2" fill-opacity="0.95"/><circle cx="445.1" cy="41.9" r="2.0" fill="#8b79c2" fill-opacity="0.95"/><circle cx="443.3" cy="64.3" r="2.0" fill="#8b79c2" fill-opacity="0.95"/><circle cx="455.0" cy="84.9" r="2.0" fill="#8b79c2" fill-opacity="0.95"/><circle cx="400.4" cy="80.4" r="2.0" fill="#8b79c2" fill-opacity="0.95"/><circle cx="384.3" cy="101.9" r="2.0" fill="#8b79c2" fill-opacity="0.95"/><circle cx="430.8" cy="101.0" r="2.0" fill="#8b79c2" fill-opacity="0.95"/><circle cx="403.1" cy="106.3" r="2.0" fill="#8b79c2" fill-opacity="0.95"/><circle cx="381.6" cy="115.3" r="2.0" fill="#8b79c2" fill-opacity="0.95"/><circle cx="458.5" cy="111.7" r="2.0" fill="#8b79c2" fill-opacity="0.95"/><circle cx="405.6" cy="97.4" r="2.0" fill="#8b79c2" fill-opacity="0.95"/><circle cx="417.4" cy="35.7" r="1.6" fill="#8b79c2" fill-opacity="0.95"/><circle cx="412.0" cy="58.0" r="1.6" fill="#8b79c2" fill-opacity="0.95"/><circle cx="418.3" cy="56.2" r="1.6" fill="#8b79c2" fill-opacity="0.95"/><circle cx="423.7" cy="55.4" r="1.6" fill="#8b79c2" fill-opacity="0.95"/><circle cx="429.0" cy="110.8" r="1.6" fill="#8b79c2" fill-opacity="0.95"/><circle cx="459.2" cy="68.9" r="1.6" fill="#8b79c2" fill-opacity="0.95"/><circle cx="405.8" cy="97.4" r="1.2" fill="#8b79c2" fill-opacity="0.95"/><circle cx="411.3" cy="77.2" r="4.0" fill="#5b469e" fill-opacity="0.95"/><circle cx="444.2" cy="79.5" r="3.8" fill="#5b469e" fill-opacity="0.95"/><circle cx="458.7" cy="88.6" r="3.8" fill="#5b469e" fill-opacity="0.95"/><circle cx="392.4" cy="98.3" r="3.2" fill="#5b469e" fill-opacity="0.95"/><circle cx="422.8" cy="105.4" r="3.2" fill="#5b469e" fill-opacity="0.95"/><circle cx="434.2" cy="68.4" r="3.2" fill="#5b469e" fill-opacity="0.95"/><circle cx="411.1" cy="76.8" r="3.0" fill="#5b469e" fill-opacity="0.95"/><circle cx="434.4" cy="68.8" r="3.0" fill="#5b469e" fill-opacity="0.95"/><circle cx="458.5" cy="88.4" r="3.0" fill="#5b469e" fill-opacity="0.95"/><circle cx="446.0" cy="92.9" r="3.0" fill="#5b469e" fill-opacity="0.95"/><circle cx="407.6" cy="117.1" r="3.0" fill="#5b469e" fill-opacity="0.95"/><circle cx="446.2" cy="92.9" r="3.0" fill="#5b469e" fill-opacity="0.95"/><circle cx="444.2" cy="47.3" r="2.8" fill="#5b469e" fill-opacity="0.95"/><circle cx="403.6" cy="71.3" r="2.8" fill="#5b469e" fill-opacity="0.95"/><circle cx="432.2" cy="75.2" r="2.6" fill="#5b469e" fill-opacity="0.95"/><circle cx="422.6" cy="103.6" r="2.6" fill="#5b469e" fill-opacity="0.95"/><circle cx="450.5" cy="53.6" r="2.4" fill="#5b469e" fill-opacity="0.95"/><circle cx="384.3" cy="85.8" r="2.4" fill="#5b469e" fill-opacity="0.95"/><circle cx="388.8" cy="42.8" r="2.0" fill="#5b469e" fill-opacity="0.95"/></g><line x1="434.4" y1="47.3" x2="437.6" y2="47.3" stroke="#d4141c" stroke-width="1.4"/><path d="M441.2,47.3L437.6,49.3L437.6,45.3Z" fill="#d4141c"/><line x1="399.5" y1="78.6" x2="403.1" y2="78.6" stroke="#d4141c" stroke-width="1.4"/><path d="M406.7,78.6L403.1,80.6L403.1,76.6Z" fill="#d4141c"/><line x1="434.4" y1="82.2" x2="437.6" y2="82.2" stroke="#d4141c" stroke-width="1.4"/><path d="M441.2,82.2L437.6,84.2L437.6,80.2Z" fill="#d4141c"/><line x1="435.3" y1="94.7" x2="438.8" y2="94.7" stroke="#d4141c" stroke-width="1.4"/><path d="M442.4,94.7L438.8,96.7L438.8,92.7Z" fill="#d4141c"/><line x1="383.4" y1="98.3" x2="386.1" y2="98.3" stroke="#d4141c" stroke-width="1.4"/><path d="M389.7,98.3L386.1,100.3L386.1,96.3Z" fill="#d4141c"/><line x1="380.7" y1="106.3" x2="384.3" y2="106.3" stroke="#d4141c" stroke-width="1.4"/><path d="M387.9,106.3L384.3,108.3L384.3,104.3Z" fill="#d4141c"/><line x1="396.8" y1="118.0" x2="400.4" y2="118.0" stroke="#d4141c" stroke-width="1.4"/><path d="M404.0,118.0L400.4,120.0L400.4,116.0Z" fill="#d4141c"/><text x="448.5" y="117.7" font-size="4.6" fill="#222">20uM</text><line x1="448.5" y1="120" x2="459.0" y2="120" stroke="#333" stroke-width="0.8"/></g>
<line x1="208.25" y1="269.9" x2="211.75" y2="269.9" stroke="#000" stroke-width="1"/>
<line x1="208.25" y1="253.07999999999998" x2="211.75" y2="253.07999999999998" stroke="#000" stroke-width="1"/>
<line x1="208.25" y1="236.26" x2="211.75" y2="236.26" stroke="#000" stroke-width="1"/>
<line x1="208.25" y1="219.43999999999997" x2="211.75" y2="219.43999999999997" stroke="#000" stroke-width="1"/>
<line x1="208.25" y1="202.61999999999998" x2="211.75" y2="202.61999999999998" stroke="#000" stroke-width="1"/>
<line x1="208.25" y1="185.79999999999998" x2="211.75" y2="185.79999999999998" stroke="#000" stroke-width="1"/>
<text x="204.8" y="272.2" font-size="8.8" text-anchor="end">0</text>
<text x="204.8" y="255.38" font-size="8.8" text-anchor="end">1×10<tspan dy="-3.4" font-size="6">4</tspan></text>
<text x="204.8" y="238.56" font-size="8.8" text-anchor="end">2×10<tspan dy="-3.4" font-size="6">4</tspan></text>
<text x="204.8" y="221.73999999999998" font-size="8.8" text-anchor="end">3×10<tspan dy="-3.4" font-size="6">4</tspan></text>
<text x="204.8" y="204.92" font-size="8.8" text-anchor="end">4×10<tspan dy="-3.4" font-size="6">4</tspan></text>
<text x="204.8" y="188.1" font-size="8.8" text-anchor="end">5×10<tspan dy="-3.4" font-size="6">4</tspan></text>
<rect x="217.75" y="218.51" width="11.30" height="51.14" fill="#2d4a86" stroke="#1d3566" stroke-width="0.5"/>
<line x1="223.4" y1="218.26259999999996" x2="223.4" y2="215.73959999999997" stroke="#2d4a86" stroke-width="1"/>
<line x1="219.9" y1="215.73959999999997" x2="226.9" y2="215.73959999999997" stroke="#2d4a86" stroke-width="1"/>
<rect x="234.55" y="206.57" width="11.30" height="63.08" fill="#6aab45" stroke="#52903a" stroke-width="0.5"/>
<line x1="240.2" y1="206.32039999999998" x2="240.2" y2="195.051" stroke="#6aab45" stroke-width="1"/>
<line x1="236.7" y1="195.051" x2="243.7" y2="195.051" stroke="#6aab45" stroke-width="1"/>
<rect x="251.45" y="190.59" width="11.30" height="79.06" fill="#a7002f" stroke="#850024" stroke-width="0.5"/>
<line x1="257.1" y1="190.34139999999996" x2="257.1" y2="186.3046" stroke="#a7002f" stroke-width="1"/>
<line x1="253.60000000000002" y1="186.3046" x2="260.6" y2="186.3046" stroke="#a7002f" stroke-width="1"/>
<line x1="211.75" y1="183" x2="211.75" y2="270.4" stroke="#000" stroke-width="1.2"/>
<line x1="211.15" y1="269.9" x2="268" y2="269.9" stroke="#000" stroke-width="1.2"/>
<line x1="223.4" y1="269.9" x2="223.4" y2="272.9" stroke="#000" stroke-width="1"/>
<line x1="240.2" y1="269.9" x2="240.2" y2="272.9" stroke="#000" stroke-width="1"/>
<line x1="257.1" y1="269.9" x2="257.1" y2="272.9" stroke="#000" stroke-width="1"/>
<polyline points="220.5,200 220.5,178.5 257.5,178.5 257.5,181.25" fill="none" stroke="#333" stroke-width="1"/>
<text x="238.9" y="178.6" font-size="9.5" text-anchor="middle" font-weight="bold">**</text>
<text transform="translate(176.2 270) rotate(-90)" font-size="9" textLength="87.5" lengthAdjust="spacingAndGlyphs">Average cells per colony</text>
<text transform="translate(226.5 281.6) rotate(-42)" font-size="9.2" text-anchor="end">Snail+/+</text>
<text transform="translate(243.29999999999998 281.6) rotate(-42)" font-size="9.2" text-anchor="end">Snail tg/+</text>
<text transform="translate(260.20000000000005 281.6) rotate(-42)" font-size="9.2" text-anchor="end">Snail tg/tg</text>
<line x1="330.5" y1="270.2" x2="334.5" y2="270.2" stroke="#000" stroke-width="1"/>
<text x="326.3" y="273.3" font-size="8.8" text-anchor="end">0</text>
<line x1="330.5" y1="246.92999999999998" x2="334.5" y2="246.92999999999998" stroke="#000" stroke-width="1"/>
<text x="326.3" y="250.02999999999997" font-size="8.8" text-anchor="end">100</text>
<line x1="330.5" y1="223.66" x2="334.5" y2="223.66" stroke="#000" stroke-width="1"/>
<text x="326.3" y="226.76" font-size="8.8" text-anchor="end">200</text>
<line x1="330.5" y1="200.39" x2="334.5" y2="200.39" stroke="#000" stroke-width="1"/>
<text x="326.3" y="203.48999999999998" font-size="8.8" text-anchor="end">300</text>
<line x1="330.5" y1="177.12" x2="334.5" y2="177.12" stroke="#000" stroke-width="1"/>
<text x="326.3" y="180.22" font-size="8.8" text-anchor="end">400</text>
<rect x="336.35" y="243.46" width="7.50" height="26.49" fill="#2d4a86" stroke="#1d3566" stroke-width="0.5"/>
<line x1="340.1" y1="243.2068" x2="340.1" y2="235.7604" stroke="#2d4a86" stroke-width="1"/>
<line x1="337.1" y1="235.7604" x2="343.1" y2="235.7604" stroke="#2d4a86" stroke-width="1"/>
<rect x="347.55" y="254.86" width="7.50" height="15.09" fill="#6aab45" stroke="#52903a" stroke-width="0.5"/>
<line x1="351.3" y1="254.60909999999998" x2="351.3" y2="250.8859" stroke="#6aab45" stroke-width="1"/>
<line x1="348.3" y1="250.8859" x2="354.3" y2="250.8859" stroke="#6aab45" stroke-width="1"/>
<rect x="358.85" y="248.58" width="7.50" height="21.37" fill="#a7002f" stroke="#850024" stroke-width="0.5"/>
<line x1="362.6" y1="248.3262" x2="362.6" y2="242.50869999999998" stroke="#a7002f" stroke-width="1"/>
<line x1="359.6" y1="242.50869999999998" x2="365.6" y2="242.50869999999998" stroke="#a7002f" stroke-width="1"/>
<rect x="371.75" y="240.90" width="7.50" height="29.05" fill="#2d4a86" stroke="#1d3566" stroke-width="0.5"/>
<line x1="375.5" y1="240.6471" x2="375.5" y2="231.8045" stroke="#2d4a86" stroke-width="1"/>
<line x1="372.5" y1="231.8045" x2="378.5" y2="231.8045" stroke="#2d4a86" stroke-width="1"/>
<rect x="382.95" y="188.54" width="7.50" height="81.41" fill="#6aab45" stroke="#52903a" stroke-width="0.5"/>
<line x1="386.7" y1="188.2896" x2="386.7" y2="183.4029" stroke="#6aab45" stroke-width="1"/>
<line x1="383.7" y1="183.4029" x2="389.7" y2="183.4029" stroke="#6aab45" stroke-width="1"/>
<rect x="394.25" y="208.32" width="7.50" height="61.63" fill="#a7002f" stroke="#850024" stroke-width="0.5"/>
<line x1="398.0" y1="208.0691" x2="398.0" y2="205.7421" stroke="#a7002f" stroke-width="1"/>
<line x1="395.0" y1="205.7421" x2="401.0" y2="205.7421" stroke="#a7002f" stroke-width="1"/>
<rect x="406.75" y="265.33" width="7.50" height="4.62" fill="#2d4a86" stroke="#1d3566" stroke-width="0.5"/>
<line x1="410.5" y1="265.0806" x2="410.5" y2="262.98629999999997" stroke="#2d4a86" stroke-width="1"/>
<line x1="407.5" y1="262.98629999999997" x2="413.5" y2="262.98629999999997" stroke="#2d4a86" stroke-width="1"/>
<rect x="417.95" y="215.30" width="7.50" height="54.65" fill="#6aab45" stroke="#52903a" stroke-width="0.5"/>
<line x1="421.7" y1="215.0501" x2="421.7" y2="208.7672" stroke="#6aab45" stroke-width="1"/>
<line x1="418.7" y1="208.7672" x2="424.7" y2="208.7672" stroke="#6aab45" stroke-width="1"/>
<rect x="429.25" y="232.75" width="7.50" height="37.20" fill="#a7002f" stroke="#850024" stroke-width="0.5"/>
<line x1="433.0" y1="232.50259999999997" x2="433.0" y2="221.7984" stroke="#a7002f" stroke-width="1"/>
<line x1="430.0" y1="221.7984" x2="436.0" y2="221.7984" stroke="#a7002f" stroke-width="1"/>
<rect x="442.35" y="269.40" width="7.50" height="0.55" fill="#2d4a86" stroke="#1d3566" stroke-width="0.5"/>
<rect x="453.55" y="216.46" width="7.50" height="53.49" fill="#6aab45" stroke="#52903a" stroke-width="0.5"/>
<line x1="457.3" y1="216.21359999999999" x2="457.3" y2="207.6037" stroke="#6aab45" stroke-width="1"/>
<line x1="454.3" y1="207.6037" x2="460.3" y2="207.6037" stroke="#6aab45" stroke-width="1"/>
<rect x="464.85" y="217.63" width="7.50" height="52.32" fill="#a7002f" stroke="#850024" stroke-width="0.5"/>
<line x1="468.6" y1="217.37709999999998" x2="468.6" y2="208.0691" stroke="#a7002f" stroke-width="1"/>
<line x1="465.6" y1="208.0691" x2="471.6" y2="208.0691" stroke="#a7002f" stroke-width="1"/>
<rect x="488.75" y="220.42" width="7.50" height="49.53" fill="#6aab45" stroke="#52903a" stroke-width="0.5"/>
<line x1="492.5" y1="220.1695" x2="492.5" y2="211.79229999999998" stroke="#6aab45" stroke-width="1"/>
<line x1="489.5" y1="211.79229999999998" x2="495.5" y2="211.79229999999998" stroke="#6aab45" stroke-width="1"/>
<rect x="500.05" y="230.43" width="7.50" height="39.52" fill="#a7002f" stroke="#850024" stroke-width="0.5"/>
<line x1="503.8" y1="230.17559999999997" x2="503.8" y2="216.21359999999999" stroke="#a7002f" stroke-width="1"/>
<line x1="500.8" y1="216.21359999999999" x2="506.8" y2="216.21359999999999" stroke="#a7002f" stroke-width="1"/>
<line x1="334.5" y1="174.3" x2="334.5" y2="270.7" stroke="#000" stroke-width="1.2"/>
<line x1="333.9" y1="270.2" x2="511.4" y2="270.2" stroke="#000" stroke-width="1.2"/>
<line x1="351.3" y1="270.2" x2="351.3" y2="273.2" stroke="#000" stroke-width="1"/>
<text x="351.3" y="284.0" font-size="8.6" text-anchor="middle">RD 1</text>
<line x1="386.7" y1="270.2" x2="386.7" y2="273.2" stroke="#000" stroke-width="1"/>
<text x="386.7" y="284.0" font-size="8.6" text-anchor="middle">RD 2</text>
<line x1="421.7" y1="270.2" x2="421.7" y2="273.2" stroke="#000" stroke-width="1"/>
<text x="421.7" y="284.0" font-size="8.6" text-anchor="middle">RD 3</text>
<line x1="457.3" y1="270.2" x2="457.3" y2="273.2" stroke="#000" stroke-width="1"/>
<text x="457.3" y="284.0" font-size="8.6" text-anchor="middle">RD 4</text>
<line x1="492.5" y1="270.2" x2="492.5" y2="273.2" stroke="#000" stroke-width="1"/>
<text x="492.5" y="284.0" font-size="8.6" text-anchor="middle">RD 5</text>
<text x="392.1" y="298.2" font-size="10" textLength="61" lengthAdjust="spacingAndGlyphs">Round of plating</text>
<text transform="translate(307.3 271) rotate(-90)" font-size="9" textLength="97.7" lengthAdjust="spacingAndGlyphs"># colonies per 20,000 cells</text>
<polyline points="375.5,210 375.5,176.5 386.5,176.5 386.5,181.25" fill="none" stroke="#333" stroke-width="1"/>
<text x="381.0" y="176.85" font-size="9.5" text-anchor="middle" font-weight="bold">***</text>
<polyline points="375.5,168.75 375.5,163.5 398.5,163.5 398.5,168.75" fill="none" stroke="#333" stroke-width="1"/>
<text x="386.75" y="164.35" font-size="9.5" text-anchor="middle" font-weight="bold">**</text>
<polyline points="410.5,235.5 410.5,201.5 421.5,201.5 421.5,205.5" fill="none" stroke="#333" stroke-width="1"/>
<text x="416.125" y="201.85" font-size="9.5" text-anchor="middle" font-weight="bold">***</text>
<polyline points="410.5,192.5 410.5,187.5 433.5,187.5 433.5,192.5" fill="none" stroke="#333" stroke-width="1"/>
<text x="421.875" y="187.6" font-size="9.5" text-anchor="middle" font-weight="bold">**</text>
<polyline points="445.5,233.75 445.5,199.5 457.5,199.5 457.5,203.75" fill="none" stroke="#333" stroke-width="1"/>
<text x="451.25" y="199.85" font-size="9.5" text-anchor="middle" font-weight="bold">***</text>
<polyline points="445.5,190 445.5,185.5 468.5,185.5 468.5,190" fill="none" stroke="#333" stroke-width="1"/>
<text x="456.875" y="185.6" font-size="9.5" text-anchor="middle" font-weight="bold">***</text>
<polyline points="480.5,238 480.5,204.5 492.5,204.5 492.5,208.75" fill="none" stroke="#333" stroke-width="1"/>
<text x="486.375" y="205.1" font-size="9.5" text-anchor="middle" font-weight="bold">***</text>
<polyline points="480.5,195 480.5,190.5 503.5,190.5 503.5,195" fill="none" stroke="#333" stroke-width="1"/>
<text x="492.0" y="191.35" font-size="9.5" text-anchor="middle" font-weight="bold">**</text>
<line x1="407.75" y1="441.6" x2="411.25" y2="441.6" stroke="#000" stroke-width="1"/>
<line x1="407.75" y1="428.34000000000003" x2="411.25" y2="428.34000000000003" stroke="#000" stroke-width="1"/>
<line x1="407.75" y1="415.08000000000004" x2="411.25" y2="415.08000000000004" stroke="#000" stroke-width="1"/>
<line x1="407.75" y1="401.82000000000005" x2="411.25" y2="401.82000000000005" stroke="#000" stroke-width="1"/>
<line x1="407.75" y1="388.56" x2="411.25" y2="388.56" stroke="#000" stroke-width="1"/>
<line x1="407.75" y1="375.3" x2="411.25" y2="375.3" stroke="#000" stroke-width="1"/>
<line x1="407.75" y1="362.04" x2="411.25" y2="362.04" stroke="#000" stroke-width="1"/>
<line x1="407.75" y1="348.78000000000003" x2="411.25" y2="348.78000000000003" stroke="#000" stroke-width="1"/>
<text x="405" y="444.1" font-size="8.8" text-anchor="end">0</text>
<text x="405" y="430.74" font-size="8.8" text-anchor="end">2.0×10<tspan dy="-3.4" font-size="6">5</tspan></text>
<text x="405" y="417.48" font-size="8.8" text-anchor="end">4.0×10<tspan dy="-3.4" font-size="6">5</tspan></text>
<text x="405" y="404.22" font-size="8.8" text-anchor="end">6.0×10<tspan dy="-3.4" font-size="6">5</tspan></text>
<text x="405" y="390.96" font-size="8.8" text-anchor="end">8.0×10<tspan dy="-3.4" font-size="6">5</tspan></text>
<text x="405" y="377.7" font-size="8.8" text-anchor="end">1.0×10<tspan dy="-3.4" font-size="6">6</tspan></text>
<text x="405" y="364.44" font-size="8.8" text-anchor="end">1.2×10<tspan dy="-3.4" font-size="6">6</tspan></text>
<text x="405" y="351.18" font-size="8.8" text-anchor="end">1.4×10<tspan dy="-3.4" font-size="6">6</tspan></text>
<rect x="416.00" y="432.57" width="9.50" height="8.78" fill="#2d4a86" stroke="#1d3566" stroke-width="0.5"/>
<line x1="420.75" y1="432.31800000000004" x2="420.75" y2="429.9975" stroke="#2d4a86" stroke-width="1"/>
<line x1="417.5" y1="429.9975" x2="424.0" y2="429.9975" stroke="#2d4a86" stroke-width="1"/>
<rect x="430.25" y="425.61" width="9.50" height="15.74" fill="#6aab45" stroke="#52903a" stroke-width="0.5"/>
<line x1="435" y1="425.35650000000004" x2="435" y2="422.37300000000005" stroke="#6aab45" stroke-width="1"/>
<line x1="431.75" y1="422.37300000000005" x2="438.25" y2="422.37300000000005" stroke="#6aab45" stroke-width="1"/>
<rect x="444.50" y="368.59" width="9.50" height="72.76" fill="#a7002f" stroke="#850024" stroke-width="0.5"/>
<line x1="449.25" y1="368.3385" x2="449.25" y2="352.75800000000004" stroke="#a7002f" stroke-width="1"/>
<line x1="446.0" y1="352.75800000000004" x2="452.5" y2="352.75800000000004" stroke="#a7002f" stroke-width="1"/>
<rect x="468.75" y="376.54" width="9.50" height="64.81" fill="#2d4a86" stroke="#1d3566" stroke-width="0.5"/>
<line x1="473.5" y1="376.2945" x2="473.5" y2="362.04" stroke="#2d4a86" stroke-width="1"/>
<line x1="470.25" y1="362.04" x2="476.75" y2="362.04" stroke="#2d4a86" stroke-width="1"/>
<rect x="482.95" y="401.41" width="9.50" height="39.94" fill="#6aab45" stroke="#52903a" stroke-width="0.5"/>
<line x1="487.7" y1="401.15700000000004" x2="487.7" y2="398.17350000000005" stroke="#6aab45" stroke-width="1"/>
<line x1="484.45" y1="398.17350000000005" x2="490.95" y2="398.17350000000005" stroke="#6aab45" stroke-width="1"/>
<rect x="497.15" y="371.24" width="9.50" height="70.11" fill="#a7002f" stroke="#850024" stroke-width="0.5"/>
<line x1="501.9" y1="370.9905" x2="501.9" y2="361.0455" stroke="#a7002f" stroke-width="1"/>
<line x1="498.65" y1="361.0455" x2="505.15" y2="361.0455" stroke="#a7002f" stroke-width="1"/>
<line x1="411.25" y1="341.8" x2="411.25" y2="442.1" stroke="#000" stroke-width="1.2"/>
<line x1="410.65" y1="441.6" x2="512.4" y2="441.6" stroke="#000" stroke-width="1.2"/>
<line x1="435" y1="441.6" x2="435" y2="444.6" stroke="#000" stroke-width="1"/>
<line x1="487.7" y1="441.6" x2="487.7" y2="444.6" stroke="#000" stroke-width="1"/>
<polyline points="420.5,394.5 420.5,342.5 449.5,342.5 449.5,348" fill="none" stroke="#333" stroke-width="1"/>
<text x="435" y="343.2" font-size="9.5" text-anchor="middle" font-weight="bold">*</text>
<text transform="translate(367.8 430) rotate(-90)" font-size="9" textLength="76" lengthAdjust="spacingAndGlyphs">Total number of cells</text>
<text transform="translate(439.1 451.4) rotate(-46)" font-size="9.6" text-anchor="end">Cd11b<tspan dy="-3.3" font-size="6.2">+</tspan><tspan dy="3.3">Gr1</tspan><tspan dy="-3.3" font-size="6.2">lo</tspan></text>
<text transform="translate(491.1 452.2) rotate(-46)" font-size="9.6" text-anchor="end">Cd11b<tspan dy="-3.3" font-size="6.2">+</tspan><tspan dy="3.3">Gr1</tspan><tspan dy="-3.3" font-size="6.2">hi</tspan></text>
<line x1="407.25" y1="618.75" x2="410.75" y2="618.75" stroke="#000" stroke-width="1"/>
<line x1="407.25" y1="593.25" x2="410.75" y2="593.25" stroke="#000" stroke-width="1"/>
<line x1="407.25" y1="567.75" x2="410.75" y2="567.75" stroke="#000" stroke-width="1"/>
<line x1="407.25" y1="542.25" x2="410.75" y2="542.25" stroke="#000" stroke-width="1"/>
<line x1="407.25" y1="516.75" x2="410.75" y2="516.75" stroke="#000" stroke-width="1"/>
<text x="405" y="621.35" font-size="8.8" text-anchor="end">0</text>
<text x="405" y="595.75" font-size="8.8" text-anchor="end">2×10<tspan dy="-3.4" font-size="6">4</tspan></text>
<text x="405" y="570.25" font-size="8.8" text-anchor="end">4×10<tspan dy="-3.4" font-size="6">4</tspan></text>
<text x="405" y="544.75" font-size="8.8" text-anchor="end">6×10<tspan dy="-3.4" font-size="6">4</tspan></text>
<text x="405" y="519.25" font-size="8.8" text-anchor="end">8×10<tspan dy="-3.4" font-size="6">4</tspan></text>
<rect x="416.25" y="616.96" width="9.50" height="1.54" fill="#2d4a86" stroke="#1d3566" stroke-width="0.5"/>
<line x1="421" y1="616.71" x2="421" y2="616.2" stroke="#2d4a86" stroke-width="1"/>
<line x1="417.75" y1="616.2" x2="424.25" y2="616.2" stroke="#2d4a86" stroke-width="1"/>
<rect x="430.25" y="581.64" width="9.50" height="36.86" fill="#6aab45" stroke="#52903a" stroke-width="0.5"/>
<line x1="435" y1="581.3925" x2="435" y2="565.8375" stroke="#6aab45" stroke-width="1"/>
<line x1="431.75" y1="565.8375" x2="438.25" y2="565.8375" stroke="#6aab45" stroke-width="1"/>
<rect x="444.50" y="562.26" width="9.50" height="56.24" fill="#a7002f" stroke="#850024" stroke-width="0.5"/>
<line x1="449.25" y1="562.0125" x2="449.25" y2="544.8" stroke="#a7002f" stroke-width="1"/>
<line x1="446.0" y1="544.8" x2="452.5" y2="544.8" stroke="#a7002f" stroke-width="1"/>
<rect x="469.00" y="612.24" width="9.50" height="6.26" fill="#2d4a86" stroke="#1d3566" stroke-width="0.5"/>
<line x1="473.75" y1="611.9925" x2="473.75" y2="609.315" stroke="#2d4a86" stroke-width="1"/>
<line x1="470.5" y1="609.315" x2="477.0" y2="609.315" stroke="#2d4a86" stroke-width="1"/>
<rect x="483.00" y="547.60" width="9.50" height="70.90" fill="#6aab45" stroke="#52903a" stroke-width="0.5"/>
<line x1="487.75" y1="547.35" x2="487.75" y2="521.85" stroke="#6aab45" stroke-width="1"/>
<line x1="484.5" y1="521.85" x2="491.0" y2="521.85" stroke="#6aab45" stroke-width="1"/>
<rect x="497.15" y="568.00" width="9.50" height="50.50" fill="#a7002f" stroke="#850024" stroke-width="0.5"/>
<line x1="501.9" y1="567.75" x2="501.9" y2="562.0125" stroke="#a7002f" stroke-width="1"/>
<line x1="498.65" y1="562.0125" x2="505.15" y2="562.0125" stroke="#a7002f" stroke-width="1"/>
<line x1="410.75" y1="512.5" x2="410.75" y2="619.25" stroke="#000" stroke-width="1.2"/>
<line x1="410.15" y1="618.75" x2="512" y2="618.75" stroke="#000" stroke-width="1.2"/>
<line x1="435" y1="618.75" x2="435" y2="621.75" stroke="#000" stroke-width="1"/>
<line x1="487.75" y1="618.75" x2="487.75" y2="621.75" stroke="#000" stroke-width="1"/>
<polyline points="420.5,585.5 420.5,533.5 449.5,533.5 449.5,539.5" fill="none" stroke="#333" stroke-width="1"/>
<text x="435" y="534.6" font-size="9.5" text-anchor="middle" font-weight="bold">*</text>
<polyline points="473.5,568.75 473.5,513.5 501.5,513.5 501.5,518" fill="none" stroke="#333" stroke-width="1"/>
<text x="487.5" y="513.8" font-size="9.5" text-anchor="middle" font-weight="bold">**</text>
<text transform="translate(374.5 603.75) rotate(-90)" font-size="9" textLength="76" lengthAdjust="spacingAndGlyphs">Total number of cells</text>
<text transform="translate(439.2 630.2) rotate(-43)" font-size="9.0" text-anchor="end">Cd11b+Gr1lo</text>
<text transform="translate(492.6 629.2) rotate(-42)" font-size="9.4" text-anchor="end">Cd11b+Gr1high</text>
<rect x="315" y="656.9000000000001" width="9.0" height="4.6" fill="#2d4a86"/>
<text x="326.5" y="662.4000000000001" font-size="9.1" textLength="35" lengthAdjust="spacingAndGlyphs">Snai1 +/+</text>
<rect x="315" y="666.8500000000001" width="9.0" height="4.6" fill="#6aab45"/>
<text x="326.5" y="672.3500000000001" font-size="9.1" textLength="37.4" lengthAdjust="spacingAndGlyphs">Snai1 tg/+</text>
<rect x="315" y="676.8000000000001" width="9.0" height="4.6" fill="#a7002f"/>
<text x="326.5" y="682.3000000000001" font-size="9.1" textLength="41" lengthAdjust="spacingAndGlyphs">Snai1 tg/tg</text>
<g transform="translate(0 .5)" opacity="0.8" filter="url(#fb)"><path d="M86 368h1M102 368h1M91 369h1M108 369h1M112 369h1M84 370h1M89 370h1M102 370h1M105 370h1M119 370h1M94 371h1M110 371h1M114 371h1M116 371h1M118 371h1M122 371h1M123 371h1M125 371h1M87 372h1M91 372h1M127 372h1M74 373h1M81 373h1M81 374h1M87 374h1M127 374h1M84 375h1M125 375h1M73 376h1M80 376h1M81 376h1M76 377h1M126 378h1M126 379h1M127 379h1M79 381h1M71 384h1M79 384h1M83 384h1M85 384h1M123 384h1M124 384h1M80 385h1M83 385h1M124 385h1M73 386h1M86 386h1M127 386h1M75 387h1M96 388h1M82 389h1M85 389h1M89 390h1M99 390h1M66 391h1M82 391h1M123 391h1M87 392h1M78 393h1M98 393h1M123 393h1M73 394h1M89 394h1M92 394h1M73 395h1M78 395h1M81 395h1M84 395h1M93 395h1M79 396h1M86 396h1M122 396h1M67 397h1M69 397h1M77 397h1M88 397h1M89 397h1M96 397h1M81 398h1M84 398h1M95 399h1M76 400h1M98 400h1M124 400h1M62 401h1M92 401h1M94 401h1M72 402h1M81 402h1M87 402h1M91 402h1M92 402h1M96 402h1M101 402h1M122 402h1M93 403h1M94 403h1M126 403h1M76 404h1M84 404h1M121 404h1M82 405h1M126 405h1M74 406h1M75 406h1M84 406h1M86 406h1M92 406h1M84 407h1M92 407h1M95 407h1M85 408h1M85 409h1M91 409h1M92 409h1M94 409h1M95 409h1M78 410h1M79 410h1M123 410h1M64 411h1M74 411h1M75 411h1M97 411h1M79 412h1M82 412h1M74 413h1M77 413h1M87 413h1M94 413h1M84 414h1M90 414h1M97 414h1M98 414h1M102 414h1M66 415h1M77 415h1M123 415h1M125 415h1M71 416h1M75 416h1M85 416h1M90 416h1M84 417h1M88 418h1M67 419h1M66 420h1M60 421h1M60 422h1M61 423h1M59 424h1M121 424h1M61 425h1M119 425h1M121 425h1M58 426h1M56 427h1M59 427h1M60 427h1M61 427h1M113 428h1M110 429h1M98 430h1M100 430h1M103 430h1M115 430h1M122 430h1M111 431h1M113 431h1M66 432h1M110 432h1M58 433h1M63 433h1M84 433h1M86 433h1M91 433h1M92 433h1M79 434h1M82 434h1M83 435h1M90 435h1M94 436h1" stroke="#9898cc" fill="none"/><path d="M104 370h1M113 370h1M101 371h1M105 371h1M109 371h1M115 371h1M117 371h1M93 372h1M94 372h1M96 372h1M97 372h1M104 372h1M110 372h1M120 372h1M123 372h1M125 372h1M88 373h1M118 373h1M119 373h1M122 373h1M93 374h1M97 374h1M111 374h1M120 374h1M124 374h1M85 375h1M86 375h1M87 375h1M89 375h1M90 376h1M123 376h1M127 376h1M81 378h1M84 378h1M83 379h1M86 379h1M120 379h1M86 380h1M121 380h1M127 380h1M120 381h1M123 381h1M83 382h1M84 382h1M122 382h1M123 382h1M87 383h1M98 383h1M119 383h1M122 383h1M123 383h1M104 384h1M121 384h1M90 385h1M93 385h1M97 385h1M122 385h1M85 386h1M89 386h1M98 386h1M99 386h1M101 386h1M117 386h1M90 387h1M92 387h1M94 387h1M97 387h1M112 387h1M98 388h1M99 388h1M100 388h1M102 388h1M103 388h1M107 388h1M110 388h1M117 388h1M118 388h1M122 388h1M83 389h1M96 389h1M117 389h1M120 389h1M122 389h1M86 390h1M90 390h1M100 390h1M102 390h1M103 390h1M106 390h1M110 390h1M111 390h1M100 391h1M103 391h1M116 391h1M122 391h1M97 392h1M98 392h1M101 392h1M112 392h1M116 392h1M121 392h1M85 393h1M115 393h1M120 393h1M121 393h1M88 394h1M91 394h1M94 394h1M96 394h1M99 394h1M100 394h1M101 394h1M97 395h1M98 395h1M99 395h1M102 395h1M104 395h1M106 395h1M119 395h1M120 395h1M121 395h1M102 396h1M120 396h1M83 397h1M91 397h1M101 397h1M106 397h1M98 398h1M100 398h1M118 398h1M120 398h1M121 398h1M122 398h1M100 399h1M105 399h1M119 399h1M121 399h1M122 399h1M101 400h1M102 400h1M103 400h1M104 400h1M105 400h1M97 401h1M99 401h1M102 401h1M103 401h1M104 401h1M82 402h1M95 402h1M97 402h1M98 402h1M106 402h1M98 403h1M109 403h1M115 403h1M124 403h1M125 403h1M83 404h1M99 404h1M100 404h1M93 405h1M99 405h1M100 405h1M116 405h1M121 405h1M88 406h1M89 406h1M100 406h1M101 406h1M103 406h1M119 406h1M121 406h1M124 406h1M100 407h1M99 408h1M102 408h1M122 408h1M102 409h1M123 409h1M102 410h1M104 410h1M105 410h1M115 410h1M124 410h1M117 411h1M119 411h1M120 411h1M100 412h1M101 412h1M119 412h1M123 412h1M103 413h1M119 413h1M122 413h1M99 414h1M101 414h1M104 414h1M120 414h1M121 414h1M84 415h1M86 415h1M87 415h1M96 415h1M106 415h1M108 415h1M109 415h1M122 415h1M88 416h1M96 416h1M97 416h1M100 416h1M102 416h1M104 416h1M120 416h1M122 416h1M87 417h1M94 417h1M96 417h1M97 417h1M101 417h1M102 417h1M106 417h1M113 417h1M80 418h1M86 418h1M92 418h1M93 418h1M95 418h1M118 418h1M74 419h1M76 419h1M77 419h1M79 419h1M84 419h1M98 419h1M115 419h1M120 419h1M68 420h1M72 420h1M74 420h1M80 420h1M87 420h1M100 420h1M103 420h1M67 421h1M74 421h1M91 421h1M94 421h1M107 421h1M115 421h1M64 422h1M67 422h1M68 422h1M80 422h1M88 422h1M107 422h1M109 422h1M114 422h1M119 422h1M122 422h1M64 423h1M65 423h1M67 423h1M108 423h1M121 423h1M99 424h1M116 424h1M119 424h1M62 425h1M115 425h1M118 425h1M95 426h1M100 426h1M102 426h1M107 426h1M109 426h1M112 426h1M114 426h1M62 427h1M107 427h1M108 427h1M112 427h1M62 428h1M63 428h1M89 428h1M92 428h1M94 428h1M112 428h1M65 429h1M93 429h1M98 429h1M104 429h1M113 429h1M63 430h1M66 430h1M87 430h1M95 430h1M96 430h1M65 431h1M83 431h1M84 431h1M85 431h1M86 431h1M87 431h1M74 432h1M77 432h1M67 433h1M69 433h1M70 433h1M73 433h1M76 433h1M80 433h1" stroke="#5858a6" fill="none"/><path d="M102 372h1M114 372h1M90 373h1M95 373h1M104 373h1M105 373h1M106 373h1M108 373h1M114 373h1M116 373h1M117 373h1M120 373h1M90 374h1M99 374h1M107 374h1M116 374h1M117 374h1M88 375h1M95 375h1M98 375h1M110 375h1M118 375h1M120 375h1M92 376h1M107 376h1M121 376h1M124 376h1M87 377h1M90 377h1M91 377h1M96 377h1M115 377h1M121 377h1M125 377h1M91 378h1M117 378h1M119 378h1M90 379h1M97 379h1M99 379h1M119 379h1M122 379h1M123 379h1M125 379h1M88 380h1M123 380h1M87 381h1M88 381h1M91 381h1M95 381h1M113 381h1M116 381h1M125 381h1M89 382h1M90 382h1M92 382h1M99 382h1M103 382h1M114 382h1M115 382h1M116 382h1M117 382h1M120 382h1M92 383h1M96 383h1M100 383h1M102 383h1M104 383h1M105 383h1M106 383h1M111 383h1M117 383h1M90 384h1M93 384h1M95 384h1M97 384h1M111 384h1M114 384h1M116 384h1M94 385h1M95 385h1M98 385h1M103 385h1M104 385h1M107 385h1M108 385h1M110 385h1M112 385h1M116 385h1M118 385h1M119 385h1M95 386h1M97 386h1M103 386h1M105 386h1M109 386h1M110 386h1M115 386h1M118 386h1M108 387h1M111 387h1M113 387h1M116 387h1M117 387h1M119 387h1M120 387h1M104 388h1M109 388h1M111 388h1M121 388h1M107 389h1M115 389h1M109 390h1M116 390h1M117 390h1M119 390h1M106 391h1M108 391h1M111 391h1M113 391h1M115 391h1M108 392h1M109 392h1M113 392h1M114 392h1M115 392h1M120 392h1M102 393h1M107 393h1M111 393h1M117 393h1M104 394h1M107 394h1M108 394h1M109 394h1M114 394h1M103 395h1M113 395h1M112 396h1M118 396h1M114 397h1M118 397h1M109 398h1M110 398h1M116 398h1M103 399h1M114 399h1M108 400h1M109 400h1M116 400h1M119 400h1M107 401h1M109 401h1M112 401h1M113 401h1M115 401h1M116 401h1M118 401h1M119 401h1M111 402h1M116 402h1M119 402h1M107 403h1M110 403h1M116 403h1M117 403h1M119 403h1M120 403h1M105 404h1M106 404h1M108 404h1M111 404h1M112 404h1M101 405h1M105 405h1M111 405h1M113 405h1M117 405h1M102 406h1M104 406h1M109 406h1M110 406h1M114 406h1M115 406h1M116 406h1M117 406h1M107 407h1M113 407h1M114 407h1M118 407h1M98 408h1M103 408h1M104 408h1M110 408h1M111 408h1M114 408h1M116 408h1M117 408h1M120 408h1M108 409h1M109 409h1M110 409h1M112 409h1M115 409h1M120 409h1M106 410h1M110 410h1M112 410h1M113 410h1M116 410h1M105 411h1M106 411h1M108 411h1M110 411h1M112 411h1M113 411h1M114 411h1M116 411h1M106 412h1M115 412h1M104 413h1M107 413h1M109 413h1M113 413h1M121 413h1M112 414h1M115 414h1M116 414h1M103 415h1M111 415h1M114 415h1M119 415h1M105 416h1M110 416h1M111 416h1M112 416h1M115 416h1M116 416h1M121 416h1M85 417h1M100 417h1M103 417h1M104 417h1M108 417h1M114 417h1M116 417h1M90 418h1M94 418h1M102 418h1M107 418h1M109 418h1M115 418h1M87 419h1M88 419h1M101 419h1M102 419h1M104 419h1M106 419h1M108 419h1M75 420h1M76 420h1M79 420h1M88 420h1M89 420h1M111 420h1M112 420h1M117 420h1M72 421h1M75 421h1M79 421h1M90 421h1M92 421h1M95 421h1M96 421h1M97 421h1M98 421h1M99 421h1M103 421h1M111 421h1M89 422h1M90 422h1M91 422h1M94 422h1M100 422h1M101 422h1M102 422h1M103 422h1M113 422h1M116 422h1M68 423h1M69 423h1M71 423h1M84 423h1M88 423h1M89 423h1M90 423h1M92 423h1M94 423h1M102 423h1M111 423h1M112 423h1M64 424h1M66 424h1M68 424h1M72 424h1M82 424h1M85 424h1M89 424h1M93 424h1M109 424h1M114 424h1M67 425h1M68 425h1M85 425h1M87 425h1M88 425h1M93 425h1M96 425h1M97 425h1M98 425h1M101 425h1M110 425h1M111 425h1M64 426h1M87 426h1M92 426h1M93 426h1M94 426h1M96 426h1M101 426h1M106 426h1M111 426h1M113 426h1M66 427h1M67 427h1M68 427h1M83 427h1M94 427h1M95 427h1M98 427h1M104 427h1M109 427h1M117 427h1M67 428h1M84 428h1M85 428h1M87 428h1M93 428h1M99 428h1M64 429h1M83 429h1M87 429h1M65 430h1M74 430h1M79 430h1M82 430h1M83 430h1M66 431h1M71 431h1M73 431h1M74 431h1M79 431h1M80 431h1M72 432h1M76 432h1" stroke="#323286" fill="none"/><path d="M107 372h1M98 373h1M100 373h1M109 373h1M111 373h1M112 373h1M92 374h1M98 374h1M101 374h1M103 374h1M106 374h1M109 374h1M113 374h1M118 374h1M99 375h1M101 375h1M103 375h1M105 375h1M107 375h1M112 375h1M113 375h1M114 375h1M115 375h1M117 375h1M91 376h1M93 376h1M96 376h1M98 376h1M99 376h1M101 376h1M102 376h1M106 376h1M110 376h1M114 376h1M115 376h1M116 376h1M117 376h1M119 376h1M89 377h1M93 377h1M94 377h1M98 377h1M100 377h1M101 377h1M102 377h1M103 377h1M106 377h1M107 377h1M113 377h1M114 377h1M116 377h1M123 377h1M89 378h1M90 378h1M94 378h1M97 378h1M98 378h1M104 378h1M118 378h1M120 378h1M121 378h1M88 379h1M92 379h1M94 379h1M111 379h1M116 379h1M117 379h1M90 380h1M91 380h1M92 380h1M93 380h1M94 380h1M97 380h1M99 380h1M100 380h1M101 380h1M102 380h1M109 380h1M112 380h1M115 380h1M117 380h1M120 380h1M94 381h1M96 381h1M97 381h1M98 381h1M100 381h1M101 381h1M111 381h1M115 381h1M117 381h1M119 381h1M93 382h1M94 382h1M95 382h1M98 382h1M100 382h1M101 382h1M104 382h1M106 382h1M109 382h1M111 382h1M112 382h1M118 382h1M93 383h1M94 383h1M95 383h1M103 383h1M107 383h1M115 383h1M118 383h1M94 384h1M103 384h1M107 384h1M108 384h1M109 384h1M112 384h1M113 384h1M115 384h1M102 385h1M105 385h1M111 385h1M113 385h1M108 386h1M111 386h1M112 386h1M116 386h1M110 387h1M108 388h1M112 388h1M113 388h1M108 389h1M109 389h1M112 389h1M114 389h1M108 390h1M115 390h1M107 391h1M107 392h1M117 392h1M112 394h1M113 394h1M111 395h1M112 395h1M114 395h1M116 395h1M111 396h1M114 396h1M116 396h1M108 397h1M110 397h1M108 398h1M111 398h1M115 398h1M106 399h1M108 399h1M109 399h1M111 399h1M110 400h1M111 400h1M113 400h1M114 400h1M105 401h1M106 401h1M111 401h1M114 401h1M117 401h1M105 402h1M112 402h1M111 403h1M118 403h1M110 404h1M116 404h1M117 404h1M108 405h1M109 405h1M112 406h1M113 406h1M111 407h1M115 407h1M112 408h1M115 408h1M106 409h1M113 409h1M114 410h1M109 411h1M108 412h1M113 412h1M114 412h1M110 413h1M112 413h1M116 413h1M118 413h1M105 414h1M108 414h1M110 414h1M114 414h1M110 415h1M113 415h1M106 416h1M113 416h1M114 416h1M112 417h1M115 417h1M104 418h1M105 418h1M113 418h1M105 419h1M107 419h1M109 419h1M98 420h1M99 420h1M102 420h1M104 420h1M107 420h1M110 420h1M73 421h1M83 421h1M87 421h1M93 421h1M100 421h1M105 421h1M108 421h1M109 421h1M73 422h1M74 422h1M75 422h1M76 422h1M78 422h1M81 422h1M82 422h1M83 422h1M86 422h1M104 422h1M105 422h1M106 422h1M112 422h1M72 423h1M77 423h1M78 423h1M79 423h1M80 423h1M81 423h1M82 423h1M91 423h1M93 423h1M96 423h1M105 423h1M106 423h1M114 423h1M116 423h1M67 424h1M69 424h1M76 424h1M79 424h1M84 424h1M86 424h1M90 424h1M91 424h1M95 424h1M98 424h1M100 424h1M102 424h1M103 424h1M104 424h1M105 424h1M110 424h1M111 424h1M69 425h1M70 425h1M72 425h1M75 425h1M76 425h1M78 425h1M79 425h1M83 425h1M86 425h1M89 425h1M90 425h1M92 425h1M106 425h1M66 426h1M73 426h1M80 426h1M82 426h1M83 426h1M84 426h1M86 426h1M88 426h1M91 426h1M97 426h1M65 427h1M70 427h1M71 427h1M73 427h1M76 427h1M80 427h1M81 427h1M84 427h1M86 427h1M89 427h1M91 427h1M93 427h1M97 427h1M70 428h1M74 428h1M75 428h1M76 428h1M81 428h1M67 429h1M68 429h1M71 429h1M73 429h1M77 429h1M78 429h1M79 429h1M69 430h1M73 430h1M75 430h1M76 430h1M77 430h1M81 430h1M72 431h1M75 431h1M76 431h1M77 431h1M75 432h1" stroke="#3a5a98" fill="none"/><path d="M102 374h1M105 374h1M92 375h1M94 375h1M100 375h1M102 375h1M104 375h1M106 375h1M108 375h1M116 375h1M95 376h1M100 376h1M104 376h1M105 376h1M109 376h1M111 376h1M112 376h1M113 376h1M97 377h1M99 377h1M104 377h1M111 377h1M112 377h1M95 378h1M100 378h1M105 378h1M106 378h1M109 378h1M111 378h1M114 378h1M115 378h1M91 379h1M93 379h1M95 379h1M98 379h1M100 379h1M101 379h1M102 379h1M103 379h1M106 379h1M107 379h1M108 379h1M112 379h1M113 379h1M98 380h1M104 380h1M106 380h1M108 380h1M110 380h1M113 380h1M116 380h1M99 381h1M102 381h1M103 381h1M108 381h1M109 381h1M110 381h1M97 382h1M102 382h1M112 383h1M113 383h1M113 386h1M114 391h1M109 396h1M113 396h1M115 397h1M110 399h1M115 400h1M108 406h1M116 407h1M111 412h1M112 415h1M72 422h1M77 422h1M73 423h1M74 423h1M83 423h1M85 423h1M70 424h1M71 424h1M73 424h1M74 424h1M75 424h1M80 424h1M83 424h1M87 424h1M80 425h1M84 425h1M72 426h1M75 426h1M76 426h1M78 426h1M81 426h1M79 427h1M68 428h1M71 428h1M77 428h1M78 428h1M70 429h1M74 429h1M76 429h1M72 430h1M78 430h1" stroke="#5c9a58" fill="none"/><path d="M96 375h1M111 375h1M108 376h1M95 377h1M105 377h1M103 378h1M107 378h1M108 378h1M110 378h1M112 378h1M113 378h1M104 379h1M96 380h1M103 380h1M111 380h1M110 382h1M71 422h1M77 424h1M78 424h1M71 425h1M73 425h1M81 425h1M82 425h1M69 426h1M74 426h1M79 426h1M72 427h1M74 427h1M75 427h1M77 427h1M78 427h1M72 429h1" stroke="#c4b646" fill="none"/><path d="M75 423h1M74 425h1M77 425h1" stroke="#d88c3c" fill="none"/><path d="M110 377h1" stroke="#cc3a2a" fill="none"/></g>
<g transform="translate(0 .5)" opacity="0.8" filter="url(#fb)"><path d="M199 368h1M180 369h1M184 369h1M195 369h1M182 370h1M188 370h1M189 370h1M211 370h1M175 371h1M179 371h1M184 371h1M188 371h1M179 372h1M183 372h1M190 372h1M195 372h1M159 373h1M176 373h1M179 373h1M200 373h1M219 373h1M177 374h1M209 374h1M215 374h1M174 375h1M218 375h1M220 375h1M166 376h1M223 377h1M225 377h1M168 378h1M221 378h1M224 378h1M163 379h1M217 379h1M223 379h1M224 379h1M162 380h1M162 382h1M164 382h1M167 382h1M168 382h1M164 383h1M170 383h1M221 383h1M221 384h1M166 385h1M219 385h1M220 385h1M167 386h1M170 386h1M184 386h1M222 386h1M159 387h1M169 387h1M170 387h1M217 387h1M219 387h1M161 388h1M170 388h1M171 388h1M176 388h1M220 388h1M221 388h1M167 389h1M170 389h1M217 389h1M162 390h1M165 390h1M162 391h1M166 391h1M218 391h1M162 392h1M169 392h1M180 392h1M222 392h1M168 393h1M171 393h1M184 393h1M218 393h1M169 394h1M184 394h1M215 394h1M166 395h1M176 395h1M217 395h1M219 395h1M163 396h1M169 396h1M177 396h1M170 397h1M172 397h1M174 397h1M180 397h1M165 398h1M171 398h1M172 398h1M168 399h1M171 399h1M172 399h1M175 399h1M184 399h1M196 399h1M218 399h1M161 400h1M162 400h1M190 400h1M222 400h1M160 401h1M170 401h1M176 401h1M193 402h1M218 402h1M164 403h1M180 403h1M192 403h1M225 403h1M178 404h1M190 404h1M217 404h1M161 405h1M173 405h1M180 405h1M193 405h1M219 405h1M165 406h1M173 406h1M178 406h1M180 406h1M216 406h1M163 407h1M165 407h1M167 407h1M174 407h1M183 407h1M217 407h1M158 408h1M162 408h1M172 408h1M217 408h1M219 408h1M162 409h1M167 409h1M172 409h1M221 409h1M223 409h1M163 410h1M172 410h1M189 410h1M161 411h1M169 411h1M186 411h1M187 411h1M188 411h1M218 411h1M180 412h1M191 412h1M192 412h1M194 412h1M155 413h1M183 413h1M164 414h1M190 414h1M194 414h1M222 414h1M193 415h1M194 415h1M216 415h1M222 415h1M155 416h1M177 416h1M219 416h1M187 417h1M216 417h1M165 418h1M215 418h1M223 418h1M160 419h1M222 419h1M158 420h1M159 420h1M159 421h1M155 422h1M217 422h1M158 423h1M155 424h1M158 429h1M193 429h1M213 429h1M215 429h1M196 430h1M203 430h1M207 430h1M185 431h1M169 432h1M183 432h1M180 433h1" stroke="#9898cc" fill="none"/><path d="M184 372h1M185 372h1M191 372h1M200 372h1M177 373h1M178 373h1M181 373h1M185 373h1M190 373h1M199 373h1M179 374h1M183 374h1M207 374h1M211 374h1M176 375h1M178 375h1M210 375h1M172 376h1M173 376h1M174 376h1M172 377h1M211 377h1M216 377h1M165 378h1M172 378h1M173 378h1M174 378h1M174 379h1M175 379h1M178 379h1M210 379h1M211 379h1M173 380h1M175 380h1M180 380h1M210 380h1M213 380h1M214 380h1M215 380h1M216 380h1M173 381h1M174 381h1M215 381h1M171 382h1M178 382h1M174 384h1M212 384h1M214 384h1M216 384h1M178 385h1M211 385h1M214 385h1M171 386h1M176 386h1M178 386h1M180 386h1M213 386h1M217 386h1M179 387h1M180 387h1M181 387h1M192 387h1M164 388h1M173 388h1M174 388h1M177 388h1M178 388h1M180 388h1M182 388h1M187 388h1M193 388h1M215 388h1M216 388h1M177 389h1M186 389h1M197 389h1M214 389h1M216 389h1M175 390h1M180 390h1M185 390h1M187 390h1M194 390h1M216 390h1M182 391h1M192 391h1M194 391h1M195 391h1M196 391h1M197 391h1M219 391h1M165 392h1M166 392h1M197 392h1M210 392h1M189 393h1M191 393h1M195 393h1M199 393h1M209 393h1M214 393h1M173 394h1M177 394h1M181 394h1M188 394h1M194 394h1M195 394h1M214 394h1M173 395h1M175 395h1M179 395h1M190 395h1M191 395h1M196 395h1M214 395h1M165 396h1M176 396h1M190 396h1M191 396h1M196 396h1M171 397h1M177 397h1M185 397h1M191 397h1M193 397h1M194 397h1M215 397h1M175 398h1M180 398h1M189 398h1M191 398h1M194 398h1M196 398h1M197 398h1M198 398h1M214 398h1M215 398h1M177 399h1M179 399h1M181 399h1M187 399h1M188 399h1M190 399h1M192 399h1M198 399h1M202 399h1M213 399h1M215 399h1M216 399h1M172 400h1M185 400h1M189 400h1M192 400h1M194 400h1M197 400h1M214 400h1M179 401h1M181 401h1M188 401h1M190 401h1M193 401h1M194 401h1M199 401h1M215 401h1M169 402h1M172 402h1M178 402h1M182 402h1M189 402h1M219 402h1M178 403h1M187 403h1M189 403h1M196 403h1M211 403h1M172 404h1M176 404h1M179 404h1M183 404h1M185 404h1M191 404h1M193 404h1M195 404h1M216 404h1M170 405h1M171 405h1M181 405h1M188 405h1M194 405h1M196 405h1M212 405h1M171 406h1M184 406h1M187 406h1M189 406h1M177 407h1M178 407h1M187 407h1M193 407h1M196 407h1M214 407h1M175 408h1M176 408h1M210 408h1M212 408h1M214 408h1M215 408h1M182 409h1M188 409h1M189 409h1M198 409h1M199 409h1M215 409h1M217 409h1M186 410h1M193 410h1M200 410h1M204 410h1M182 411h1M192 411h1M195 411h1M198 411h1M214 411h1M168 412h1M179 412h1M175 413h1M176 413h1M200 413h1M205 413h1M212 413h1M216 413h1M174 414h1M178 414h1M180 414h1M181 414h1M187 414h1M179 415h1M188 415h1M190 415h1M202 415h1M165 416h1M176 416h1M181 416h1M183 416h1M185 416h1M193 416h1M196 416h1M198 416h1M201 416h1M202 416h1M211 416h1M174 417h1M183 417h1M185 417h1M188 417h1M191 417h1M195 417h1M197 417h1M200 417h1M201 417h1M203 417h1M205 417h1M194 418h1M196 418h1M203 418h1M205 418h1M212 418h1M220 418h1M161 419h1M164 419h1M193 419h1M211 419h1M160 420h1M210 420h1M213 420h1M213 421h1M215 421h1M157 422h1M158 422h1M161 422h1M213 422h1M213 423h1M159 424h1M210 424h1M160 426h1M191 426h1M201 426h1M204 426h1M205 426h1M210 426h1M160 427h1M164 427h1M199 427h1M206 427h1M210 427h1M164 428h1M165 428h1M200 428h1M185 429h1M187 429h1M207 429h1M167 430h1M185 430h1M181 431h1M183 431h1M184 431h1M171 432h1" stroke="#5858a6" fill="none"/><path d="M189 373h1M191 373h1M187 374h1M189 374h1M190 374h1M191 374h1M195 374h1M197 374h1M200 374h1M184 375h1M196 375h1M197 375h1M199 375h1M201 375h1M204 375h1M206 375h1M184 376h1M185 376h1M195 376h1M199 376h1M202 376h1M203 376h1M205 376h1M208 376h1M210 376h1M179 377h1M181 377h1M197 377h1M204 377h1M177 378h1M178 378h1M179 378h1M200 378h1M201 378h1M204 378h1M205 378h1M207 378h1M209 378h1M180 379h1M181 379h1M207 379h1M208 379h1M181 380h1M185 380h1M204 380h1M205 380h1M208 380h1M182 381h1M212 381h1M179 382h1M182 382h1M198 382h1M206 382h1M211 382h1M212 382h1M180 383h1M189 383h1M197 383h1M206 383h1M207 383h1M210 383h1M212 383h1M177 384h1M180 384h1M183 384h1M184 384h1M210 384h1M180 385h1M183 385h1M185 385h1M195 385h1M197 385h1M210 385h1M179 386h1M186 386h1M188 386h1M190 386h1M191 386h1M193 386h1M194 386h1M205 386h1M210 386h1M211 386h1M189 387h1M191 387h1M194 387h1M198 387h1M184 388h1M192 388h1M195 388h1M200 388h1M211 388h1M213 388h1M193 389h1M195 389h1M196 389h1M199 389h1M204 389h1M208 389h1M211 389h1M200 390h1M205 390h1M207 390h1M208 390h1M213 390h1M186 391h1M200 391h1M202 391h1M205 391h1M209 391h1M211 391h1M204 392h1M211 392h1M187 393h1M188 393h1M197 393h1M198 393h1M212 393h1M196 394h1M198 394h1M200 394h1M201 394h1M208 394h1M210 394h1M186 395h1M208 395h1M209 395h1M212 395h1M213 395h1M189 396h1M201 396h1M202 396h1M209 396h1M213 396h1M181 397h1M186 397h1M188 397h1M189 397h1M199 397h1M212 397h1M192 398h1M199 398h1M206 398h1M209 398h1M211 398h1M201 399h1M204 399h1M207 399h1M209 399h1M212 399h1M214 399h1M200 400h1M202 400h1M206 400h1M207 400h1M208 400h1M209 400h1M212 400h1M215 400h1M198 401h1M200 401h1M210 401h1M214 401h1M184 402h1M195 402h1M198 402h1M201 402h1M207 402h1M209 402h1M210 402h1M212 402h1M197 403h1M200 403h1M201 403h1M202 403h1M205 403h1M209 403h1M210 403h1M213 403h1M201 404h1M202 404h1M203 404h1M210 404h1M212 404h1M199 405h1M200 405h1M204 405h1M211 405h1M202 406h1M208 406h1M211 406h1M198 407h1M199 407h1M206 407h1M208 407h1M212 407h1M201 408h1M203 408h1M204 408h1M196 409h1M201 409h1M205 409h1M206 409h1M209 409h1M210 409h1M211 409h1M195 410h1M202 410h1M208 410h1M211 410h1M199 411h1M203 411h1M205 411h1M206 411h1M208 411h1M210 411h1M211 411h1M213 411h1M200 412h1M202 412h1M206 412h1M210 412h1M213 412h1M199 413h1M202 413h1M204 413h1M208 413h1M200 414h1M201 414h1M204 414h1M205 414h1M206 414h1M210 414h1M200 415h1M203 416h1M178 417h1M184 417h1M196 417h1M204 417h1M207 417h1M210 417h1M168 418h1M170 418h1M175 418h1M181 418h1M184 418h1M188 418h1M197 418h1M200 418h1M202 418h1M208 418h1M211 418h1M168 419h1M172 419h1M177 419h1M179 419h1M181 419h1M186 419h1M190 419h1M192 419h1M197 419h1M201 419h1M168 420h1M169 420h1M185 420h1M190 420h1M193 420h1M194 420h1M198 420h1M199 420h1M200 420h1M206 420h1M209 420h1M211 420h1M166 421h1M192 421h1M197 421h1M199 421h1M201 421h1M205 421h1M208 421h1M211 421h1M160 422h1M190 422h1M192 422h1M198 422h1M199 422h1M201 422h1M204 422h1M208 422h1M209 422h1M210 422h1M212 422h1M161 423h1M189 423h1M194 423h1M197 423h1M198 423h1M203 423h1M207 423h1M161 424h1M162 424h1M188 424h1M193 424h1M197 424h1M198 424h1M199 424h1M204 424h1M214 424h1M162 425h1M185 425h1M194 425h1M195 425h1M197 425h1M200 425h1M202 425h1M206 425h1M209 425h1M210 425h1M211 425h1M161 426h1M162 426h1M192 426h1M193 426h1M194 426h1M199 426h1M200 426h1M203 426h1M208 426h1M159 427h1M167 427h1M189 427h1M192 427h1M197 427h1M202 427h1M205 427h1M181 428h1M182 428h1M183 428h1M184 428h1M185 428h1M188 428h1M190 428h1M197 428h1M166 429h1M167 429h1M171 429h1M172 429h1M173 429h1M174 429h1M175 429h1M177 429h1M181 429h1M183 429h1M186 429h1M199 429h1M168 430h1M170 430h1M171 430h1M173 430h1M175 430h1M178 430h1M179 430h1M181 430h1" stroke="#323286" fill="none"/><path d="M196 374h1M188 375h1M191 375h1M192 375h1M194 375h1M198 375h1M200 375h1M203 375h1M181 376h1M186 376h1M192 376h1M200 376h1M180 377h1M182 377h1M185 377h1M187 377h1M188 377h1M189 377h1M192 377h1M199 377h1M200 377h1M202 377h1M182 378h1M185 378h1M186 378h1M187 378h1M188 378h1M190 378h1M193 378h1M177 379h1M183 379h1M185 379h1M190 379h1M197 379h1M201 379h1M203 379h1M204 379h1M205 379h1M184 380h1M196 380h1M197 380h1M198 380h1M199 380h1M201 380h1M206 380h1M181 381h1M190 381h1M193 381h1M194 381h1M198 381h1M204 381h1M208 381h1M211 381h1M180 382h1M181 382h1M183 382h1M190 382h1M192 382h1M199 382h1M201 382h1M204 382h1M207 382h1M176 383h1M178 383h1M179 383h1M181 383h1M182 383h1M183 383h1M185 383h1M186 383h1M187 383h1M190 383h1M191 383h1M192 383h1M194 383h1M196 383h1M209 383h1M211 383h1M178 384h1M185 384h1M186 384h1M187 384h1M188 384h1M189 384h1M193 384h1M194 384h1M199 384h1M201 384h1M205 384h1M206 384h1M207 384h1M208 384h1M184 385h1M187 385h1M188 385h1M189 385h1M190 385h1M192 385h1M196 385h1M198 385h1M199 385h1M201 385h1M202 385h1M209 385h1M197 386h1M198 386h1M199 386h1M200 386h1M202 386h1M204 386h1M178 387h1M186 387h1M190 387h1M193 387h1M196 387h1M208 387h1M202 388h1M203 388h1M205 388h1M206 388h1M207 388h1M203 389h1M205 389h1M206 389h1M201 390h1M202 390h1M206 390h1M209 390h1M211 390h1M201 391h1M203 391h1M204 391h1M207 391h1M208 391h1M200 392h1M202 392h1M205 392h1M206 392h1M207 392h1M208 392h1M209 392h1M200 393h1M201 393h1M204 393h1M206 393h1M204 394h1M209 394h1M211 394h1M201 395h1M204 395h1M206 395h1M200 396h1M203 396h1M207 396h1M208 396h1M210 396h1M187 397h1M200 397h1M202 397h1M207 397h1M208 397h1M200 398h1M201 398h1M202 398h1M204 398h1M205 398h1M207 398h1M208 398h1M212 398h1M208 399h1M210 399h1M211 399h1M201 400h1M205 400h1M201 401h1M203 401h1M204 401h1M205 401h1M211 401h1M200 402h1M211 402h1M206 403h1M208 403h1M204 404h1M207 404h1M209 404h1M201 405h1M207 405h1M204 406h1M207 406h1M210 406h1M201 407h1M202 407h1M207 407h1M209 407h1M202 408h1M207 408h1M208 408h1M202 409h1M207 409h1M214 409h1M201 410h1M205 410h1M206 410h1M207 410h1M210 410h1M212 410h1M207 413h1M197 415h1M202 417h1M176 418h1M177 418h1M178 418h1M182 418h1M171 419h1M173 419h1M174 419h1M175 419h1M182 419h1M185 419h1M202 419h1M210 419h1M172 420h1M173 420h1M175 420h1M177 420h1M180 420h1M181 420h1M182 420h1M186 420h1M187 420h1M191 420h1M201 420h1M205 420h1M162 421h1M164 421h1M165 421h1M169 421h1M170 421h1M171 421h1M176 421h1M177 421h1M178 421h1M179 421h1M182 421h1M183 421h1M184 421h1M185 421h1M186 421h1M187 421h1M188 421h1M189 421h1M195 421h1M196 421h1M198 421h1M207 421h1M163 422h1M164 422h1M165 422h1M167 422h1M168 422h1M175 422h1M187 422h1M189 422h1M193 422h1M195 422h1M197 422h1M200 422h1M202 422h1M203 422h1M165 423h1M166 423h1M170 423h1M178 423h1M181 423h1M190 423h1M195 423h1M200 423h1M201 423h1M204 423h1M205 423h1M206 423h1M208 423h1M165 424h1M185 424h1M194 424h1M196 424h1M200 424h1M201 424h1M202 424h1M161 425h1M164 425h1M165 425h1M166 425h1M176 425h1M183 425h1M187 425h1M189 425h1M190 425h1M199 425h1M204 425h1M163 426h1M164 426h1M166 426h1M185 426h1M188 426h1M189 426h1M190 426h1M196 426h1M165 427h1M166 427h1M171 427h1M176 427h1M187 427h1M190 427h1M169 428h1M170 428h1M171 428h1M172 428h1M169 429h1M170 429h1M176 429h1" stroke="#3a5a98" fill="none"/><path d="M190 376h1M193 376h1M201 376h1M190 377h1M191 377h1M193 377h1M194 377h1M196 377h1M198 377h1M201 377h1M189 378h1M192 378h1M194 378h1M197 378h1M199 378h1M206 378h1M182 379h1M184 379h1M187 379h1M189 379h1M196 379h1M198 379h1M183 380h1M187 380h1M191 380h1M193 380h1M194 380h1M195 380h1M200 380h1M203 380h1M183 381h1M185 381h1M186 381h1M188 381h1M189 381h1M191 381h1M195 381h1M200 381h1M202 381h1M203 381h1M185 382h1M186 382h1M187 382h1M188 382h1M194 382h1M196 382h1M197 382h1M200 382h1M202 382h1M184 383h1M188 383h1M193 383h1M203 383h1M205 383h1M190 384h1M191 384h1M192 384h1M195 384h1M197 384h1M198 384h1M202 384h1M203 384h1M204 384h1M182 385h1M193 385h1M203 385h1M207 385h1M208 385h1M203 386h1M208 386h1M209 386h1M197 387h1M204 387h1M205 387h1M204 388h1M209 389h1M203 392h1M203 393h1M205 393h1M208 393h1M202 395h1M203 397h1M204 397h1M205 399h1M207 401h1M202 402h1M204 402h1M206 402h1M203 403h1M205 404h1M206 405h1M208 405h1M206 406h1M205 407h1M205 408h1M167 420h1M171 420h1M176 420h1M179 420h1M184 420h1M188 420h1M172 421h1M174 421h1M175 421h1M181 421h1M190 421h1M170 422h1M180 422h1M182 422h1M185 422h1M186 422h1M191 422h1M207 422h1M169 423h1M172 423h1M175 423h1M179 423h1M183 423h1M191 423h1M170 424h1M171 424h1M178 424h1M181 424h1M183 424h1M187 424h1M189 424h1M191 424h1M192 424h1M163 425h1M167 425h1M169 425h1M171 425h1M175 425h1M180 425h1M184 425h1M186 425h1M188 425h1M192 425h1M165 426h1M168 426h1M170 426h1M172 426h1M179 426h1M180 426h1M181 426h1M170 427h1M174 427h1M179 427h1M181 427h1M182 427h1M173 428h1M178 428h1M179 428h1" stroke="#5c9a58" fill="none"/><path d="M184 378h1M191 378h1M195 378h1M188 379h1M193 379h1M199 379h1M200 379h1M182 380h1M186 380h1M190 380h1M206 381h1M184 382h1M195 382h1M203 382h1M195 383h1M200 383h1M202 383h1M204 385h1M206 385h1M209 387h1M205 395h1M178 420h1M173 421h1M200 421h1M169 422h1M171 422h1M173 422h1M174 422h1M178 422h1M179 422h1M181 422h1M184 422h1M173 423h1M180 423h1M182 423h1M184 423h1M185 423h1M166 424h1M169 424h1M173 424h1M175 424h1M176 424h1M182 424h1M184 424h1M186 424h1M205 424h1M168 425h1M173 425h1M177 425h1M178 425h1M179 425h1M181 425h1M182 425h1M169 426h1M171 426h1M173 426h1M175 426h1M176 426h1M177 426h1M178 426h1M182 426h1M175 427h1M177 427h1M180 427h1M177 428h1" stroke="#c4b646" fill="none"/><path d="M189 380h1M172 422h1M176 422h1M177 422h1M171 423h1M174 423h1M176 423h1M168 424h1M172 424h1M177 424h1M180 424h1M170 425h1M172 425h1M184 426h1" stroke="#d88c3c" fill="none"/><path d="M177 423h1M174 424h1M174 425h1" stroke="#cc3a2a" fill="none"/></g>
<g transform="translate(0 .5)" opacity="0.8" filter="url(#fb)"><path d="M283 368h1M273 369h1M284 369h1M295 369h1M299 369h1M273 370h1M294 370h1M297 370h1M306 370h1M263 371h1M292 371h1M296 371h1M299 371h1M301 371h1M320 371h1M275 372h1M291 372h1M265 373h1M304 373h1M307 374h1M314 374h1M316 374h1M320 374h1M321 374h1M324 374h1M264 375h1M320 375h1M323 375h1M262 376h1M322 376h1M320 377h1M261 378h1M262 378h1M264 378h1M256 380h1M261 380h1M314 380h1M261 381h1M320 381h1M261 382h1M320 382h1M316 383h1M320 383h1M259 384h1M324 384h1M264 386h1M265 386h1M323 386h1M258 387h1M262 387h1M324 387h1M265 388h1M322 388h1M324 388h1M258 389h1M261 389h1M267 389h1M268 389h1M265 390h1M313 390h1M323 390h1M266 391h1M273 391h1M323 391h1M287 392h1M317 392h1M265 393h1M288 393h1M318 393h1M324 393h1M272 394h1M278 394h1M266 395h1M268 395h1M323 395h1M324 395h1M259 396h1M316 396h1M320 396h1M322 396h1M258 398h1M274 398h1M323 398h1M263 399h1M266 399h1M276 400h1M321 400h1M323 400h1M262 401h1M267 401h1M268 401h1M271 401h1M317 401h1M262 403h1M276 403h1M278 403h1M316 403h1M318 403h1M320 403h1M323 403h1M325 403h1M266 404h1M283 404h1M268 405h1M275 405h1M276 405h1M314 405h1M320 405h1M260 406h1M263 406h1M273 406h1M262 407h1M266 407h1M268 407h1M269 407h1M278 407h1M288 407h1M254 408h1M269 408h1M290 408h1M268 409h1M272 409h1M287 409h1M290 409h1M291 409h1M318 409h1M324 409h1M325 409h1M257 410h1M268 410h1M274 410h1M275 410h1M261 411h1M265 411h1M267 411h1M273 411h1M279 411h1M284 411h1M318 411h1M269 412h1M272 412h1M273 412h1M278 412h1M283 412h1M287 412h1M295 412h1M254 413h1M264 413h1M270 413h1M283 413h1M284 413h1M288 413h1M295 413h1M323 413h1M325 413h1M268 414h1M271 414h1M283 414h1M324 414h1M264 415h1M270 415h1M298 415h1M309 415h1M321 415h1M262 416h1M264 416h1M315 416h1M318 416h1M319 416h1M322 416h1M269 417h1M288 417h1M294 417h1M303 417h1M314 417h1M321 417h1M261 418h1M262 418h1M311 418h1M255 419h1M257 419h1M311 419h1M320 420h1M255 421h1M256 421h1M315 421h1M257 423h1M310 423h1M311 423h1M309 425h1M313 425h1M308 427h1M314 427h1M256 428h1M258 429h1M284 429h1M254 430h1M261 431h1M287 431h1M266 432h1M274 432h1M262 433h1M268 433h1M269 433h1M270 433h1M274 433h1" stroke="#9898cc" fill="none"/><path d="M286 371h1M287 371h1M291 371h1M295 371h1M279 372h1M280 372h1M282 372h1M286 372h1M287 372h1M289 372h1M294 372h1M300 372h1M288 373h1M295 373h1M308 373h1M270 374h1M271 374h1M280 374h1M281 374h1M299 374h1M301 374h1M302 374h1M303 374h1M305 374h1M310 374h1M263 375h1M267 375h1M268 375h1M272 375h1M273 375h1M301 375h1M268 376h1M270 376h1M272 376h1M308 376h1M312 376h1M317 376h1M264 377h1M266 377h1M279 377h1M305 377h1M307 377h1M309 377h1M266 378h1M271 378h1M310 378h1M312 378h1M313 378h1M315 378h1M263 379h1M265 379h1M266 379h1M272 379h1M309 379h1M265 380h1M265 381h1M266 381h1M267 381h1M310 381h1M314 381h1M315 382h1M314 383h1M317 383h1M263 384h1M266 384h1M268 384h1M314 384h1M315 384h1M316 384h1M314 385h1M316 385h1M267 386h1M312 386h1M313 386h1M264 387h1M270 387h1M266 388h1M274 388h1M312 388h1M313 388h1M263 389h1M280 389h1M311 389h1M318 389h1M273 390h1M274 390h1M280 390h1M282 390h1M314 390h1M271 391h1M281 391h1M285 391h1M291 391h1M311 391h1M312 391h1M314 391h1M316 391h1M317 391h1M270 392h1M274 392h1M277 392h1M284 392h1M286 392h1M290 392h1M276 393h1M280 393h1M283 393h1M294 393h1M295 393h1M313 393h1M314 393h1M315 393h1M276 394h1M282 394h1M283 394h1M286 394h1M296 394h1M271 395h1M273 395h1M274 395h1M275 395h1M282 395h1M290 395h1M296 395h1M297 395h1M300 395h1M301 395h1M312 395h1M313 395h1M269 396h1M273 396h1M274 396h1M275 396h1M279 396h1M290 396h1M296 396h1M317 396h1M284 397h1M285 397h1M290 397h1M293 397h1M268 398h1M270 398h1M278 398h1M284 398h1M288 398h1M294 398h1M297 398h1M318 398h1M273 399h1M277 399h1M281 399h1M283 399h1M289 399h1M291 399h1M294 399h1M312 399h1M275 400h1M278 400h1M279 400h1M281 400h1M289 400h1M297 400h1M277 401h1M302 401h1M312 401h1M314 401h1M268 402h1M270 402h1M277 402h1M289 402h1M311 402h1M315 402h1M273 403h1M288 403h1M294 403h1M297 403h1M279 404h1M282 404h1M284 404h1M285 404h1M286 404h1M288 404h1M289 404h1M290 404h1M293 404h1M295 404h1M314 404h1M315 404h1M316 404h1M264 405h1M271 405h1M278 405h1M281 405h1M288 405h1M294 405h1M295 405h1M312 405h1M280 406h1M301 406h1M276 407h1M283 407h1M293 407h1M294 407h1M315 407h1M317 407h1M320 407h1M274 408h1M278 408h1M283 408h1M294 408h1M297 408h1M269 409h1M273 409h1M278 409h1M280 409h1M284 409h1M285 409h1M288 409h1M273 410h1M277 410h1M279 410h1M281 410h1M294 410h1M301 410h1M313 410h1M288 411h1M303 411h1M311 411h1M266 412h1M279 412h1M288 412h1M297 412h1M301 412h1M302 412h1M303 412h1M312 412h1M271 413h1M297 413h1M310 413h1M272 414h1M282 414h1M303 414h1M309 414h1M289 415h1M290 415h1M293 415h1M296 415h1M306 415h1M272 416h1M276 416h1M281 416h1M289 416h1M294 416h1M295 416h1M296 416h1M310 416h1M265 417h1M275 417h1M284 417h1M285 417h1M286 417h1M289 417h1M290 417h1M298 417h1M306 417h1M309 417h1M310 417h1M315 417h1M263 418h1M264 418h1M273 418h1M285 418h1M286 418h1M288 418h1M290 418h1M291 418h1M297 418h1M303 418h1M306 418h1M309 418h1M286 419h1M294 419h1M309 419h1M264 420h1M285 420h1M295 420h1M297 420h1M258 421h1M261 421h1M306 421h1M311 421h1M258 422h1M289 422h1M305 422h1M309 422h1M290 423h1M308 423h1M260 424h1M285 424h1M293 424h1M296 424h1M308 424h1M309 424h1M311 424h1M256 425h1M302 425h1M307 425h1M311 425h1M257 426h1M260 426h1M262 426h1M305 426h1M306 426h1M259 427h1M293 427h1M294 427h1M295 427h1M302 427h1M260 428h1M283 428h1M285 428h1M287 428h1M288 428h1M289 428h1M292 428h1M297 428h1M299 428h1M300 428h1M263 429h1M279 429h1M287 429h1M288 429h1M299 429h1M260 430h1M269 430h1M271 430h1M273 430h1M278 430h1M265 431h1M274 431h1M277 431h1M276 432h1" stroke="#5858a6" fill="none"/><path d="M289 371h1M285 372h1M278 373h1M279 373h1M282 373h1M284 373h1M289 373h1M291 373h1M293 373h1M296 373h1M298 373h1M273 374h1M274 374h1M276 374h1M279 374h1M282 374h1M284 374h1M286 374h1M292 374h1M296 374h1M269 375h1M270 375h1M274 375h1M276 375h1M278 375h1M282 375h1M290 375h1M300 375h1M302 375h1M273 376h1M276 376h1M277 376h1M300 376h1M302 376h1M305 376h1M309 376h1M268 377h1M270 377h1M271 377h1M273 377h1M274 377h1M303 377h1M276 378h1M304 378h1M307 378h1M311 378h1M269 379h1M271 379h1M274 379h1M306 379h1M269 380h1M270 380h1M271 380h1M275 380h1M307 380h1M270 381h1M271 381h1M272 381h1M266 382h1M268 382h1M272 382h1M274 382h1M308 382h1M309 382h1M310 382h1M312 382h1M269 383h1M271 383h1M274 383h1M307 383h1M311 383h1M271 384h1M274 384h1M313 384h1M270 385h1M271 385h1M272 385h1M274 385h1M280 385h1M309 385h1M311 385h1M313 385h1M269 386h1M272 386h1M274 386h1M275 386h1M277 386h1M307 386h1M308 386h1M271 387h1M274 387h1M276 387h1M278 387h1M279 387h1M290 387h1M299 387h1M300 387h1M309 387h1M310 387h1M272 388h1M273 388h1M275 388h1M279 388h1M280 388h1M285 388h1M289 388h1M292 388h1M295 388h1M300 388h1M306 388h1M311 388h1M273 389h1M279 389h1M283 389h1M284 389h1M287 389h1M296 389h1M312 389h1M315 389h1M279 390h1M281 390h1M285 390h1M286 390h1M288 390h1M289 390h1M299 390h1M302 390h1M304 390h1M307 390h1M310 390h1M311 390h1M315 390h1M279 391h1M289 391h1M292 391h1M297 391h1M303 391h1M308 391h1M310 391h1M276 392h1M285 392h1M293 392h1M294 392h1M295 392h1M297 392h1M299 392h1M303 392h1M305 392h1M310 392h1M311 392h1M312 392h1M313 392h1M298 393h1M304 393h1M279 394h1M292 394h1M294 394h1M298 394h1M304 394h1M305 394h1M307 394h1M310 394h1M311 394h1M312 394h1M313 394h1M293 395h1M298 395h1M299 395h1M302 395h1M306 395h1M307 395h1M310 395h1M311 395h1M282 396h1M288 396h1M297 396h1M299 396h1M300 396h1M302 396h1M307 396h1M310 396h1M311 396h1M312 396h1M313 396h1M302 397h1M304 397h1M308 397h1M312 397h1M313 397h1M291 398h1M292 398h1M295 398h1M298 398h1M299 398h1M303 398h1M310 398h1M296 399h1M297 399h1M300 399h1M301 399h1M302 399h1M303 399h1M305 399h1M306 399h1M310 399h1M311 399h1M313 399h1M274 400h1M288 400h1M296 400h1M298 400h1M299 400h1M300 400h1M304 400h1M308 400h1M309 400h1M316 400h1M281 401h1M282 401h1M292 401h1M295 401h1M296 401h1M301 401h1M307 401h1M309 401h1M284 402h1M301 402h1M302 402h1M306 402h1M290 403h1M298 403h1M299 403h1M300 403h1M307 403h1M312 403h1M275 404h1M298 404h1M300 404h1M306 404h1M307 404h1M309 404h1M310 404h1M311 404h1M284 405h1M308 405h1M311 405h1M313 405h1M292 406h1M296 406h1M299 406h1M302 406h1M307 406h1M311 406h1M298 407h1M301 407h1M303 407h1M307 407h1M308 407h1M310 407h1M311 407h1M286 408h1M295 408h1M298 408h1M299 408h1M302 408h1M305 408h1M296 409h1M301 409h1M303 409h1M305 409h1M306 409h1M308 409h1M309 409h1M298 410h1M300 410h1M307 410h1M308 410h1M312 410h1M298 411h1M304 411h1M305 411h1M308 411h1M309 411h1M310 411h1M300 412h1M304 412h1M307 412h1M309 412h1M299 413h1M301 413h1M311 413h1M305 414h1M306 414h1M280 415h1M300 415h1M301 415h1M273 416h1M304 416h1M271 417h1M296 417h1M267 418h1M269 418h1M283 418h1M287 418h1M296 418h1M301 418h1M305 418h1M268 419h1M270 419h1M278 419h1M281 419h1M300 419h1M265 420h1M276 420h1M279 420h1M280 420h1M281 420h1M284 420h1M287 420h1M292 420h1M296 420h1M305 420h1M262 421h1M263 421h1M280 421h1M281 421h1M284 421h1M285 421h1M286 421h1M287 421h1M291 421h1M294 421h1M297 421h1M299 421h1M300 421h1M303 421h1M304 421h1M259 422h1M262 422h1M263 422h1M283 422h1M284 422h1M293 422h1M297 422h1M298 422h1M301 422h1M304 422h1M306 422h1M259 423h1M261 423h1M263 423h1M287 423h1M288 423h1M293 423h1M295 423h1M296 423h1M302 423h1M304 423h1M307 423h1M287 424h1M288 424h1M289 424h1M300 424h1M302 424h1M305 424h1M306 424h1M260 425h1M279 425h1M291 425h1M295 425h1M298 425h1M303 425h1M304 425h1M284 426h1M287 426h1M289 426h1M290 426h1M291 426h1M296 426h1M299 426h1M262 427h1M263 427h1M264 427h1M274 427h1M280 427h1M281 427h1M284 427h1M285 427h1M286 427h1M287 427h1M288 427h1M290 427h1M291 427h1M292 427h1M296 427h1M299 427h1M263 428h1M264 428h1M266 428h1M274 428h1M281 428h1M284 428h1M262 429h1M264 429h1M265 429h1M267 429h1M277 429h1M278 429h1M280 429h1M266 430h1M267 430h1" stroke="#323286" fill="none"/><path d="M287 373h1M285 374h1M288 374h1M294 374h1M280 375h1M283 375h1M284 375h1M288 375h1M289 375h1M293 375h1M294 375h1M296 375h1M297 375h1M299 375h1M306 375h1M271 376h1M274 376h1M275 376h1M279 376h1M281 376h1M287 376h1M289 376h1M292 376h1M301 376h1M275 377h1M278 377h1M283 377h1M284 377h1M293 377h1M300 377h1M270 378h1M272 378h1M275 378h1M278 378h1M279 378h1M289 378h1M297 378h1M300 378h1M302 378h1M303 378h1M273 379h1M275 379h1M280 379h1M284 379h1M303 379h1M304 379h1M268 380h1M274 380h1M279 380h1M301 380h1M302 380h1M303 380h1M304 380h1M306 380h1M308 380h1M309 380h1M273 381h1M275 381h1M276 381h1M280 381h1M303 381h1M304 381h1M306 381h1M271 382h1M278 382h1M280 382h1M283 382h1M305 382h1M306 382h1M272 383h1M275 383h1M277 383h1M279 383h1M281 383h1M302 383h1M308 383h1M310 383h1M269 384h1M272 384h1M295 384h1M297 384h1M303 384h1M304 384h1M305 384h1M306 384h1M275 385h1M276 385h1M277 385h1M281 385h1M283 385h1M287 385h1M290 385h1M296 385h1M297 385h1M299 385h1M301 385h1M302 385h1M304 385h1M305 385h1M307 385h1M308 385h1M278 386h1M283 386h1M284 386h1M291 386h1M294 386h1M295 386h1M299 386h1M300 386h1M301 386h1M302 386h1M303 386h1M304 386h1M306 386h1M309 386h1M273 387h1M275 387h1M277 387h1M282 387h1M284 387h1M285 387h1M286 387h1M289 387h1M293 387h1M296 387h1M298 387h1M303 387h1M304 387h1M305 387h1M307 387h1M278 388h1M282 388h1M286 388h1M287 388h1M296 388h1M297 388h1M298 388h1M301 388h1M302 388h1M303 388h1M304 388h1M305 388h1M307 388h1M309 388h1M278 389h1M281 389h1M285 389h1M288 389h1M290 389h1M294 389h1M297 389h1M298 389h1M301 389h1M302 389h1M303 389h1M307 389h1M287 390h1M296 390h1M298 390h1M303 390h1M305 390h1M296 391h1M300 391h1M302 391h1M304 391h1M306 391h1M309 391h1M298 392h1M302 392h1M308 392h1M309 392h1M297 393h1M302 393h1M303 393h1M306 393h1M307 393h1M309 393h1M312 393h1M302 394h1M308 395h1M301 396h1M303 396h1M305 396h1M308 396h1M297 397h1M306 397h1M307 397h1M309 397h1M300 398h1M302 398h1M304 398h1M305 398h1M306 398h1M307 398h1M308 398h1M309 398h1M295 399h1M302 400h1M294 401h1M300 401h1M308 401h1M300 402h1M304 402h1M309 402h1M301 403h1M303 403h1M305 403h1M308 403h1M309 403h1M310 403h1M299 404h1M302 404h1M302 405h1M303 405h1M306 405h1M300 406h1M305 406h1M306 406h1M300 407h1M313 407h1M300 408h1M304 408h1M306 408h1M310 408h1M302 409h1M307 409h1M302 410h1M303 410h1M304 410h1M305 410h1M311 410h1M302 413h1M300 417h1M267 419h1M271 419h1M276 419h1M288 419h1M291 419h1M267 420h1M268 420h1M269 420h1M273 420h1M275 420h1M278 420h1M303 420h1M267 421h1M273 421h1M275 421h1M276 421h1M278 421h1M283 421h1M289 421h1M264 422h1M266 422h1M269 422h1M270 422h1M273 422h1M276 422h1M277 422h1M278 422h1M280 422h1M281 422h1M285 422h1M288 422h1M295 422h1M296 422h1M300 422h1M264 423h1M265 423h1M276 423h1M279 423h1M283 423h1M285 423h1M289 423h1M297 423h1M298 423h1M300 423h1M303 423h1M305 423h1M261 424h1M262 424h1M263 424h1M278 424h1M282 424h1M290 424h1M292 424h1M263 425h1M265 425h1M277 425h1M282 425h1M284 425h1M285 425h1M297 425h1M263 426h1M282 426h1M285 426h1M286 426h1M292 426h1M304 426h1M267 427h1M275 427h1M276 427h1M277 427h1M278 427h1M279 427h1M282 427h1M283 427h1M268 428h1M270 428h1M275 428h1M277 428h1M279 428h1M266 429h1M270 429h1M271 429h1M273 429h1M270 430h1" stroke="#3a5a98" fill="none"/><path d="M285 375h1M291 375h1M292 375h1M280 376h1M282 376h1M293 376h1M294 376h1M296 376h1M297 376h1M287 377h1M290 377h1M295 377h1M296 377h1M299 377h1M282 378h1M284 378h1M286 378h1M298 378h1M299 378h1M276 379h1M279 379h1M283 379h1M285 379h1M288 379h1M290 379h1M291 379h1M296 379h1M299 379h1M300 379h1M301 379h1M276 380h1M277 380h1M288 380h1M295 380h1M299 380h1M277 381h1M279 381h1M284 381h1M298 381h1M301 381h1M305 381h1M307 381h1M270 382h1M279 382h1M292 382h1M299 382h1M300 382h1M301 382h1M304 382h1M276 383h1M278 383h1M280 383h1M283 383h1M284 383h1M287 383h1M296 383h1M297 383h1M275 384h1M277 384h1M279 384h1M286 384h1M290 384h1M293 384h1M301 384h1M273 385h1M278 385h1M279 385h1M284 385h1M285 385h1M286 385h1M289 385h1M292 385h1M294 385h1M295 385h1M298 385h1M310 385h1M280 386h1M285 386h1M288 386h1M289 386h1M293 386h1M297 386h1M281 387h1M288 387h1M292 387h1M294 387h1M297 387h1M302 387h1M306 387h1M294 388h1M310 388h1M304 389h1M308 389h1M295 391h1M305 391h1M300 393h1M305 393h1M301 397h1M305 400h1M307 400h1M304 403h1M271 420h1M277 420h1M266 421h1M268 421h1M269 421h1M274 421h1M261 422h1M267 422h1M272 422h1M274 422h1M275 422h1M282 422h1M267 423h1M271 423h1M273 423h1M278 423h1M280 423h1M292 423h1M270 424h1M272 424h1M275 424h1M276 424h1M279 424h1M291 424h1M262 425h1M264 425h1M275 425h1M278 425h1M280 425h1M281 425h1M266 426h1M267 426h1M271 426h1M272 426h1M274 426h1M279 426h1M265 427h1M266 427h1M269 427h1M271 427h1M273 427h1M269 428h1M271 428h1M276 428h1M278 428h1M274 429h1" stroke="#5c9a58" fill="none"/><path d="M285 376h1M288 376h1M291 376h1M280 377h1M285 377h1M288 377h1M289 377h1M294 377h1M283 378h1M285 378h1M288 378h1M290 378h1M292 378h1M294 378h1M296 378h1M278 379h1M292 379h1M295 379h1M297 379h1M280 380h1M281 380h1M282 380h1M286 380h1M287 380h1M289 380h1M290 380h1M291 380h1M293 380h1M296 380h1M297 380h1M305 380h1M278 381h1M281 381h1M282 381h1M285 381h1M288 381h1M290 381h1M291 381h1M294 381h1M296 381h1M297 381h1M300 381h1M275 382h1M282 382h1M284 382h1M285 382h1M287 382h1M289 382h1M291 382h1M293 382h1M294 382h1M295 382h1M302 382h1M303 382h1M285 383h1M286 383h1M290 383h1M292 383h1M293 383h1M295 383h1M300 383h1M301 383h1M276 384h1M281 384h1M283 384h1M285 384h1M287 384h1M288 384h1M294 384h1M296 384h1M298 384h1M300 384h1M307 384h1M282 385h1M288 385h1M291 385h1M293 385h1M300 385h1M286 386h1M290 386h1M292 386h1M296 386h1M295 387h1M303 397h1M266 420h1M270 421h1M265 422h1M271 422h1M266 423h1M268 423h1M270 423h1M272 423h1M275 423h1M277 423h1M265 424h1M266 424h1M267 424h1M268 424h1M269 424h1M271 424h1M273 424h1M274 424h1M277 424h1M266 425h1M267 425h1M268 425h1M270 425h1M272 425h1M274 425h1M276 425h1M265 426h1M270 426h1M275 426h1M276 426h1M277 426h1M272 427h1" stroke="#c4b646" fill="none"/><path d="M286 377h1M292 377h1M281 378h1M293 378h1M295 378h1M281 379h1M286 379h1M287 379h1M289 379h1M293 379h1M294 379h1M284 380h1M285 380h1M292 380h1M294 380h1M298 380h1M283 381h1M287 381h1M289 381h1M276 382h1M281 382h1M286 382h1M298 382h1M282 383h1M288 383h1M291 383h1M294 383h1M298 383h1M282 384h1M284 384h1M289 384h1M292 384h1M281 386h1M269 423h1M274 423h1M271 425h1M273 425h1M268 426h1M269 426h1M273 426h1" stroke="#d88c3c" fill="none"/><path d="M286 381h1M292 381h1M293 381h1M295 381h1M288 382h1M290 382h1M296 382h1M289 383h1M269 425h1" stroke="#cc3a2a" fill="none"/></g>
<g transform="translate(0 .5)" opacity="0.8" filter="url(#fb)"><path d="M101 547h1M107 547h1M100 552h1M105 552h1M110 552h1M110 553h1M107 554h1M107 555h1M118 556h1M121 556h1M93 557h1M102 557h1M113 557h1M95 558h1M101 558h1M103 558h1M111 558h1M114 558h1M74 559h1M87 559h1M96 559h1M99 559h1M105 559h1M107 559h1M86 560h1M87 560h1M97 560h1M119 560h1M120 560h1M72 561h1M73 561h1M89 561h1M104 561h1M108 561h1M109 561h1M126 561h1M82 562h1M88 562h1M92 562h1M93 562h1M102 562h1M111 562h1M112 562h1M120 562h1M80 563h1M85 563h1M93 563h1M110 563h1M116 563h1M118 563h1M121 563h1M124 563h1M82 564h1M90 564h1M99 564h1M116 564h1M120 564h1M123 564h1M96 565h1M100 565h1M108 565h1M114 565h1M126 565h1M77 566h1M89 566h1M93 566h1M94 566h1M99 566h1M101 566h1M103 566h1M114 566h1M116 566h1M119 566h1M87 567h1M97 567h1M108 567h1M109 567h1M111 567h1M115 567h1M121 567h1M122 567h1M72 568h1M77 568h1M80 568h1M81 568h1M84 568h1M89 568h1M101 568h1M121 568h1M76 569h1M77 569h1M99 569h1M119 569h1M83 570h1M86 570h1M92 570h1M93 570h1M98 570h1M101 570h1M113 570h1M122 570h1M124 570h1M71 571h1M86 571h1M99 571h1M107 571h1M115 571h1M120 571h1M121 571h1M122 571h1M70 572h1M78 572h1M94 572h1M121 572h1M122 572h1M71 573h1M73 573h1M87 573h1M91 573h1M96 573h1M106 573h1M113 573h1M115 573h1M118 573h1M94 574h1M98 574h1M121 574h1M126 574h1M59 575h1M75 575h1M83 575h1M85 575h1M94 575h1M95 575h1M96 575h1M123 575h1M125 575h1M126 575h1M80 576h1M96 576h1M119 576h1M124 576h1M80 577h1M85 577h1M95 577h1M101 577h1M72 578h1M73 578h1M74 578h1M79 578h1M82 578h1M91 578h1M93 578h1M99 578h1M116 578h1M122 578h1M76 579h1M82 579h1M85 579h1M95 579h1M112 579h1M117 579h1M69 580h1M73 580h1M83 580h1M86 580h1M116 580h1M117 580h1M118 580h1M120 580h1M121 580h1M124 580h1M125 580h1M68 581h1M75 581h1M77 581h1M78 581h1M82 581h1M85 581h1M98 581h1M120 581h1M123 581h1M73 582h1M88 582h1M117 582h1M123 582h1M59 583h1M72 583h1M86 583h1M97 583h1M105 583h1M117 583h1M70 584h1M80 584h1M82 584h1M83 584h1M90 584h1M93 584h1M94 584h1M95 584h1M96 584h1M98 584h1M118 584h1M125 584h1M70 585h1M89 585h1M90 585h1M92 585h1M97 585h1M116 585h1M121 585h1M124 585h1M79 586h1M88 586h1M97 586h1M71 587h1M81 587h1M82 587h1M85 587h1M89 587h1M90 587h1M111 587h1M77 588h1M95 588h1M96 588h1M98 588h1M109 588h1M117 588h1M90 589h1M92 589h1M99 589h1M101 589h1M109 589h1M124 589h1M125 589h1M74 590h1M76 590h1M82 590h1M86 590h1M90 590h1M103 590h1M117 590h1M120 590h1M123 590h1M124 590h1M76 591h1M77 591h1M81 591h1M91 591h1M116 591h1M71 592h1M90 592h1M115 592h1M55 593h1M59 593h1M73 593h1M83 593h1M90 593h1M93 593h1M102 593h1M108 593h1M111 593h1M123 593h1M125 593h1M66 594h1M73 594h1M81 594h1M117 594h1M120 594h1M71 595h1M73 595h1M77 595h1M79 595h1M97 595h1M108 595h1M112 595h1M114 595h1M120 595h1M122 595h1M69 596h1M73 596h1M93 596h1M95 596h1M107 596h1M108 596h1M109 596h1M65 597h1M84 597h1M90 597h1M108 597h1M111 597h1M115 597h1M124 597h1M64 598h1M70 598h1M91 598h1M106 598h1M118 598h1M124 598h1M96 599h1M106 599h1M107 599h1M109 599h1M114 599h1M120 599h1M122 599h1M123 599h1M125 599h1M108 600h1M109 600h1M115 600h1M67 601h1M97 601h1M111 601h1M115 602h1M125 602h1M62 603h1M105 603h1M111 603h1M115 603h1M120 603h1M105 604h1M112 604h1M117 604h1M118 604h1M119 604h1M121 604h1M66 605h1M103 605h1M107 605h1M112 605h1M115 605h1M107 606h1M111 607h1M121 607h1M122 607h1M112 608h1M118 608h1M119 608h1M120 608h1M105 609h1M106 609h1M108 609h1M109 609h1M120 609h1M123 609h1M106 610h1M114 610h1M126 610h1M68 611h1M109 611h1M112 611h1M68 612h1M85 612h1M89 612h1M96 612h1M98 612h1M99 612h1M109 612h1M62 613h1M72 613h1M76 613h1M99 613h1M110 613h1M67 614h1M82 614h1M92 614h1M94 614h1M101 614h1M118 614h1M90 615h1" stroke="#9898cc" fill="none"/><path d="M109 562h1M108 563h1M113 564h1M106 565h1M104 566h1M105 566h1M112 566h1M101 567h1M107 568h1M113 568h1M116 568h1M107 569h1M112 569h1M117 569h1M107 570h1M110 570h1M115 570h1M116 570h1M118 570h1M119 570h1M106 571h1M109 571h1M118 571h1M96 572h1M110 572h1M111 572h1M103 573h1M104 573h1M110 573h1M101 574h1M102 574h1M110 574h1M112 574h1M100 575h1M104 575h1M106 575h1M107 575h1M113 575h1M114 575h1M102 576h1M110 576h1M111 576h1M109 577h1M110 577h1M111 577h1M119 577h1M103 578h1M111 578h1M113 578h1M96 579h1M97 579h1M100 579h1M108 579h1M109 579h1M115 579h1M102 580h1M103 580h1M104 580h1M108 580h1M111 580h1M102 581h1M103 581h1M107 581h1M109 581h1M112 581h1M114 581h1M110 582h1M91 583h1M99 583h1M100 583h1M101 583h1M103 583h1M110 583h1M100 584h1M101 584h1M104 584h1M106 584h1M114 584h1M119 584h1M101 585h1M102 585h1M103 585h1M104 585h1M105 585h1M106 585h1M110 585h1M111 585h1M100 586h1M106 586h1M110 586h1M112 586h1M114 586h1M120 586h1M112 587h1M79 588h1M84 588h1M97 588h1M105 588h1M106 588h1M114 588h1M115 588h1M116 588h1M78 589h1M83 589h1M88 589h1M104 589h1M105 589h1M107 589h1M81 590h1M96 590h1M99 590h1M101 590h1M104 590h1M106 590h1M109 590h1M112 590h1M116 590h1M96 591h1M97 591h1M106 591h1M108 591h1M112 591h1M120 591h1M80 592h1M86 592h1M88 592h1M93 592h1M103 592h1M111 592h1M113 592h1M76 593h1M99 593h1M100 593h1M106 593h1M77 594h1M84 594h1M85 594h1M86 594h1M88 594h1M90 594h1M91 594h1M96 594h1M104 594h1M86 595h1M93 595h1M100 595h1M111 595h1M117 595h1M76 596h1M85 596h1M97 596h1M99 596h1M104 596h1M105 596h1M106 596h1M110 596h1M111 596h1M89 597h1M92 597h1M93 597h1M98 597h1M102 597h1M107 597h1M73 598h1M74 598h1M80 598h1M83 598h1M85 598h1M94 598h1M96 598h1M98 598h1M102 598h1M72 599h1M74 599h1M77 599h1M79 599h1M81 599h1M87 599h1M90 599h1M92 599h1M70 600h1M76 600h1M77 600h1M78 600h1M81 600h1M83 600h1M92 600h1M94 600h1M95 600h1M99 600h1M106 600h1M77 601h1M79 601h1M84 601h1M85 601h1M86 601h1M95 601h1M96 601h1M100 601h1M101 601h1M67 602h1M77 602h1M106 602h1M100 603h1M103 603h1M101 604h1M102 604h1M99 605h1M100 605h1M101 605h1M104 605h1M106 605h1M100 606h1M102 606h1M103 606h1M106 606h1M101 607h1M105 607h1M101 608h1M102 608h1M103 608h1M99 609h1M101 609h1M79 610h1M81 610h1M82 610h1M85 610h1M86 610h1M92 610h1M94 610h1M95 610h1M100 610h1M74 611h1M79 611h1M81 611h1M82 611h1M87 611h1M91 611h1M94 611h1M72 612h1M73 612h1" stroke="#5858a6" fill="none"/><path d="M109 576h1M111 583h1M88 598h1M73 600h1M74 600h1M75 600h1M70 601h1M76 601h1M89 601h1M68 602h1M79 602h1M82 602h1M83 602h1M84 602h1M86 602h1M88 602h1M91 602h1M92 602h1M100 602h1M78 603h1M80 603h1M82 603h1M83 603h1M84 603h1M85 603h1M90 603h1M91 603h1M92 603h1M94 603h1M96 603h1M101 603h1M79 604h1M80 604h1M83 604h1M84 604h1M89 604h1M90 604h1M94 604h1M96 604h1M97 604h1M98 604h1M80 605h1M81 605h1M83 605h1M85 605h1M86 605h1M89 605h1M92 605h1M97 605h1M98 605h1M67 606h1M80 606h1M82 606h1M84 606h1M96 606h1M97 606h1M67 607h1M78 607h1M79 607h1M81 607h1M82 607h1M85 607h1M86 607h1M87 607h1M88 607h1M94 607h1M95 607h1M97 607h1M99 607h1M100 607h1M77 608h1M80 608h1M81 608h1M82 608h1M83 608h1M84 608h1M85 608h1M88 608h1M89 608h1M93 608h1M96 608h1M98 608h1M99 608h1M100 608h1M77 609h1M78 609h1M81 609h1M84 609h1M85 609h1M86 609h1M87 609h1M88 609h1M91 609h1M92 609h1M93 609h1M94 609h1M97 609h1M69 610h1M84 610h1M87 610h1M88 610h1M90 610h1M91 610h1M98 610h1" stroke="#323286" fill="none"/><path d="M73 601h1M74 601h1M69 602h1M68 603h1M77 603h1M79 603h1M86 603h1M68 604h1M77 604h1M82 604h1M93 604h1M78 605h1M82 605h1M84 605h1M87 605h1M88 605h1M91 605h1M95 605h1M68 606h1M76 606h1M77 606h1M81 606h1M86 606h1M87 606h1M88 606h1M89 606h1M90 606h1M91 606h1M92 606h1M93 606h1M94 606h1M98 606h1M68 607h1M77 607h1M80 607h1M89 607h1M92 607h1M96 607h1M68 608h1M92 608h1M95 608h1M97 608h1M69 609h1M75 609h1M76 609h1M80 609h1M82 609h1M89 609h1M70 610h1M71 610h1M73 610h1M74 610h1M70 611h1M72 611h1" stroke="#3a5a98" fill="none"/><path d="M71 601h1M72 601h1M70 602h1M71 602h1M73 602h1M74 602h1M69 603h1M75 603h1M69 604h1M76 604h1M68 605h1M69 605h1M76 605h1M75 607h1M76 607h1M69 608h1M75 608h1M70 609h1M74 609h1M72 610h1" stroke="#5c9a58" fill="none"/><path d="M72 602h1M70 603h1M71 603h1M73 603h1M74 603h1M70 604h1M75 604h1M69 606h1M75 606h1M69 607h1M70 607h1M70 608h1M74 608h1M71 609h1M72 609h1M73 609h1" stroke="#c4b646" fill="none"/><path d="M72 603h1M71 604h1M72 604h1M73 604h1M74 604h1M70 605h1M71 605h1M73 605h1M74 605h1M70 606h1M74 606h1M71 607h1M73 607h1M74 607h1M71 608h1M72 608h1M73 608h1" stroke="#d88c3c" fill="none"/><path d="M72 605h1M71 606h1M72 606h1M73 606h1M72 607h1" stroke="#cc3a2a" fill="none"/></g>
<g transform="translate(0 .5)" opacity="0.8" filter="url(#fb)"><path d="M193 550h1M209 552h1M205 553h1M208 553h1M174 554h1M186 554h1M203 554h1M206 554h1M208 554h1M206 555h1M195 556h1M199 556h1M201 556h1M199 557h1M169 558h1M170 558h1M174 558h1M192 558h1M196 558h1M221 558h1M222 558h1M162 559h1M170 559h1M171 559h1M173 559h1M175 559h1M176 559h1M180 559h1M181 559h1M188 559h1M212 559h1M218 559h1M222 559h1M198 560h1M164 561h1M222 561h1M223 561h1M171 562h1M220 562h1M223 562h1M167 563h1M222 563h1M166 564h1M215 564h1M216 564h1M225 564h1M218 565h1M158 566h1M166 566h1M164 567h1M165 567h1M160 568h1M165 568h1M224 568h1M165 569h1M218 569h1M218 570h1M219 570h1M221 570h1M163 571h1M169 571h1M171 571h1M218 571h1M219 571h1M160 572h1M171 572h1M223 572h1M166 573h1M172 573h1M174 573h1M175 573h1M177 573h1M217 573h1M218 573h1M174 574h1M224 574h1M191 575h1M222 575h1M224 575h1M171 576h1M177 576h1M192 576h1M220 576h1M173 577h1M180 577h1M187 577h1M190 578h1M192 578h1M193 578h1M195 578h1M221 578h1M222 578h1M172 579h1M179 579h1M217 579h1M223 579h1M173 580h1M178 580h1M179 580h1M181 580h1M187 580h1M176 581h1M184 581h1M190 581h1M224 581h1M170 582h1M172 582h1M174 582h1M175 582h1M179 582h1M183 582h1M187 582h1M218 582h1M221 582h1M178 583h1M179 583h1M186 583h1M190 583h1M194 583h1M216 583h1M218 583h1M220 583h1M223 583h1M226 583h1M177 584h1M184 584h1M189 584h1M225 584h1M172 585h1M174 585h1M175 585h1M183 585h1M226 585h1M180 586h1M182 586h1M183 586h1M186 586h1M195 586h1M218 586h1M224 586h1M176 587h1M177 587h1M182 587h1M190 588h1M167 589h1M177 589h1M181 589h1M215 589h1M222 589h1M176 590h1M177 590h1M181 590h1M186 590h1M199 590h1M222 590h1M226 590h1M219 591h1M165 592h1M170 592h1M172 592h1M173 592h1M181 592h1M183 592h1M185 592h1M213 592h1M214 592h1M222 592h1M224 592h1M171 593h1M224 593h1M170 594h1M186 594h1M217 594h1M219 594h1M203 595h1M209 595h1M215 595h1M221 595h1M225 595h1M187 596h1M214 596h1M216 596h1M218 596h1M163 597h1M219 598h1M225 598h1M163 599h1M221 599h1M225 599h1M163 600h1M165 600h1M217 600h1M219 600h1M164 601h1M221 601h1M226 601h1M164 602h1M219 602h1M226 602h1M219 603h1M220 603h1M226 603h1M220 604h1M222 604h1M223 604h1M218 605h1M223 605h1M217 606h1M221 606h1M159 607h1M217 607h1M216 608h1M218 609h1M224 609h1M165 610h1M212 610h1M214 610h1M164 611h1M199 611h1M188 612h1M189 612h1M200 612h1M169 613h1M170 613h1M175 613h1M183 613h1M184 613h1M192 613h1M198 613h1M213 613h1M166 614h1M173 614h1M187 614h1M191 614h1M195 614h1M213 614h1M180 615h1M206 615h1M176 616h1M179 616h1" stroke="#9898cc" fill="none"/><path d="M204 558h1M205 558h1M207 558h1M182 559h1M198 559h1M201 559h1M202 559h1M210 559h1M183 560h1M186 560h1M189 560h1M190 560h1M201 560h1M205 560h1M207 560h1M209 560h1M216 560h1M169 561h1M173 561h1M180 561h1M181 561h1M186 561h1M187 561h1M188 561h1M189 561h1M192 561h1M195 561h1M199 561h1M202 561h1M203 561h1M205 561h1M206 561h1M209 561h1M210 561h1M213 561h1M168 562h1M174 562h1M175 562h1M176 562h1M177 562h1M178 562h1M179 562h1M182 562h1M183 562h1M184 562h1M188 562h1M199 562h1M203 562h1M208 562h1M214 562h1M216 562h1M172 563h1M178 563h1M196 563h1M213 563h1M168 564h1M169 564h1M171 564h1M172 564h1M173 564h1M174 564h1M178 564h1M212 564h1M214 564h1M176 565h1M210 565h1M213 565h1M214 565h1M168 566h1M172 566h1M174 566h1M215 566h1M167 567h1M169 567h1M171 567h1M172 567h1M168 568h1M169 568h1M167 569h1M168 569h1M172 569h1M173 569h1M174 569h1M214 569h1M171 570h1M178 570h1M195 570h1M214 570h1M216 570h1M173 571h1M178 571h1M180 571h1M216 571h1M217 571h1M172 572h1M175 572h1M177 572h1M179 572h1M182 572h1M185 572h1M187 572h1M190 572h1M195 572h1M179 573h1M180 573h1M182 573h1M184 573h1M192 573h1M215 573h1M216 573h1M173 574h1M176 574h1M180 574h1M185 574h1M189 574h1M193 574h1M194 574h1M195 574h1M217 574h1M218 574h1M182 575h1M183 575h1M185 575h1M189 575h1M193 575h1M196 575h1M200 575h1M209 575h1M215 575h1M190 576h1M193 576h1M196 576h1M197 576h1M203 576h1M215 576h1M216 576h1M179 577h1M190 577h1M197 577h1M203 577h1M215 577h1M178 578h1M194 578h1M196 578h1M198 578h1M201 578h1M205 578h1M211 578h1M195 579h1M197 579h1M208 579h1M214 579h1M215 579h1M216 579h1M191 580h1M193 580h1M194 580h1M201 580h1M207 580h1M213 580h1M193 581h1M194 581h1M196 581h1M197 581h1M199 581h1M201 581h1M208 581h1M214 581h1M215 581h1M216 581h1M217 581h1M199 582h1M200 582h1M210 582h1M212 582h1M213 582h1M214 582h1M217 582h1M176 583h1M193 583h1M195 583h1M196 583h1M199 583h1M200 583h1M202 583h1M214 583h1M183 584h1M197 584h1M198 584h1M199 584h1M210 584h1M212 584h1M214 584h1M215 584h1M216 584h1M184 585h1M189 585h1M190 585h1M192 585h1M197 585h1M198 585h1M200 585h1M204 585h1M206 585h1M208 585h1M210 585h1M211 585h1M212 585h1M187 586h1M189 586h1M199 586h1M200 586h1M202 586h1M203 586h1M204 586h1M205 586h1M207 586h1M216 586h1M217 586h1M179 587h1M180 587h1M185 587h1M186 587h1M187 587h1M192 587h1M194 587h1M198 587h1M201 587h1M202 587h1M203 587h1M204 587h1M206 587h1M211 587h1M212 587h1M213 587h1M183 588h1M191 588h1M193 588h1M199 588h1M202 588h1M207 588h1M210 588h1M214 588h1M176 589h1M178 589h1M186 589h1M188 589h1M194 589h1M210 589h1M212 589h1M216 589h1M179 590h1M183 590h1M187 590h1M192 590h1M196 590h1M197 590h1M205 590h1M206 590h1M210 590h1M211 590h1M212 590h1M177 591h1M190 591h1M196 591h1M198 591h1M199 591h1M200 591h1M202 591h1M205 591h1M208 591h1M209 591h1M210 591h1M213 591h1M214 591h1M180 592h1M186 592h1M188 592h1M189 592h1M191 592h1M194 592h1M196 592h1M198 592h1M199 592h1M204 592h1M206 592h1M208 592h1M211 592h1M174 593h1M175 593h1M176 593h1M184 593h1M187 593h1M190 593h1M192 593h1M196 593h1M199 593h1M205 593h1M208 593h1M209 593h1M211 593h1M213 593h1M173 594h1M175 594h1M176 594h1M180 594h1M182 594h1M195 594h1M200 594h1M202 594h1M203 594h1M205 594h1M206 594h1M207 594h1M208 594h1M212 594h1M215 594h1M175 595h1M179 595h1M182 595h1M185 595h1M187 595h1M190 595h1M192 595h1M193 595h1M197 595h1M200 595h1M204 595h1M205 595h1M211 595h1M217 595h1M169 596h1M175 596h1M180 596h1M181 596h1M183 596h1M184 596h1M186 596h1M188 596h1M190 596h1M194 596h1M195 596h1M199 596h1M203 596h1M204 596h1M205 596h1M206 596h1M207 596h1M213 596h1M215 596h1M217 596h1M167 597h1M183 597h1M187 597h1M190 597h1M191 597h1M201 597h1M204 597h1M211 597h1M216 597h1M167 598h1M187 598h1M191 598h1M192 598h1M193 598h1M195 598h1M196 598h1M198 598h1M199 598h1M203 598h1M206 598h1M207 598h1M209 598h1M213 598h1M214 598h1M218 598h1M191 599h1M194 599h1M198 599h1M205 599h1M209 599h1M210 599h1M212 599h1M216 599h1M166 600h1M210 600h1M213 600h1M165 601h1M214 601h1M199 602h1M212 602h1M213 602h1M215 602h1M221 602h1M198 603h1M200 603h1M201 603h1M207 603h1M208 603h1M214 603h1M217 603h1M202 604h1M207 604h1M215 604h1M164 605h1M202 605h1M207 605h1M210 605h1M215 605h1M216 605h1M165 606h1M193 606h1M199 606h1M200 606h1M203 606h1M211 606h1M213 606h1M196 607h1M203 607h1M206 607h1M207 607h1M210 607h1M211 607h1M213 607h1M192 608h1M195 608h1M198 608h1M199 608h1M201 608h1M202 608h1M203 608h1M204 608h1M209 608h1M166 609h1M183 609h1M192 609h1M202 609h1M205 609h1M207 609h1M213 609h1M187 610h1M190 610h1M192 610h1M193 610h1M195 610h1M198 610h1M203 610h1M182 611h1M185 611h1M186 611h1M169 612h1M176 612h1M180 612h1M182 612h1" stroke="#5858a6" fill="none"/><path d="M204 560h1M190 561h1M207 561h1M208 561h1M185 562h1M187 562h1M191 562h1M194 562h1M195 562h1M198 562h1M201 562h1M204 562h1M205 562h1M206 562h1M209 562h1M211 562h1M181 563h1M182 563h1M184 563h1M185 563h1M186 563h1M189 563h1M190 563h1M191 563h1M194 563h1M195 563h1M200 563h1M201 563h1M202 563h1M203 563h1M204 563h1M210 563h1M175 564h1M176 564h1M177 564h1M180 564h1M181 564h1M186 564h1M187 564h1M193 564h1M194 564h1M195 564h1M196 564h1M203 564h1M204 564h1M205 564h1M210 564h1M172 565h1M173 565h1M175 565h1M178 565h1M179 565h1M180 565h1M181 565h1M182 565h1M185 565h1M186 565h1M195 565h1M196 565h1M197 565h1M200 565h1M201 565h1M202 565h1M204 565h1M205 565h1M207 565h1M208 565h1M176 566h1M182 566h1M185 566h1M191 566h1M193 566h1M194 566h1M195 566h1M198 566h1M199 566h1M200 566h1M201 566h1M207 566h1M211 566h1M212 566h1M174 567h1M175 567h1M176 567h1M177 567h1M178 567h1M179 567h1M180 567h1M185 567h1M189 567h1M190 567h1M195 567h1M196 567h1M202 567h1M206 567h1M207 567h1M208 567h1M210 567h1M211 567h1M174 568h1M179 568h1M180 568h1M181 568h1M188 568h1M193 568h1M194 568h1M196 568h1M197 568h1M205 568h1M206 568h1M208 568h1M210 568h1M211 568h1M176 569h1M177 569h1M178 569h1M184 569h1M189 569h1M192 569h1M194 569h1M195 569h1M202 569h1M210 569h1M175 570h1M179 570h1M180 570h1M182 570h1M185 570h1M186 570h1M187 570h1M190 570h1M194 570h1M199 570h1M200 570h1M204 570h1M206 570h1M208 570h1M212 570h1M213 570h1M179 571h1M182 571h1M183 571h1M184 571h1M194 571h1M195 571h1M196 571h1M197 571h1M198 571h1M199 571h1M200 571h1M205 571h1M211 571h1M212 571h1M188 572h1M191 572h1M192 572h1M194 572h1M196 572h1M199 572h1M201 572h1M211 572h1M213 572h1M214 572h1M193 573h1M196 573h1M197 573h1M201 573h1M202 573h1M204 573h1M207 573h1M209 573h1M196 574h1M200 574h1M202 574h1M203 574h1M205 574h1M206 574h1M208 574h1M209 574h1M210 574h1M211 574h1M190 575h1M198 575h1M201 575h1M204 575h1M210 575h1M198 576h1M199 576h1M200 576h1M201 576h1M206 576h1M207 576h1M208 576h1M212 576h1M199 577h1M200 577h1M201 577h1M202 577h1M208 577h1M211 577h1M199 578h1M200 578h1M202 578h1M203 578h1M204 578h1M206 578h1M198 579h1M204 579h1M206 579h1M211 579h1M212 579h1M199 580h1M204 580h1M209 580h1M204 581h1M205 581h1M206 581h1M209 581h1M210 581h1M202 582h1M203 582h1M205 582h1M206 582h1M207 582h1M208 582h1M211 582h1M204 583h1M210 583h1M200 584h1M201 584h1M202 584h1M206 584h1M208 584h1M209 584h1M201 585h1M201 586h1M208 586h1M209 586h1M200 587h1M205 588h1M205 589h1M209 589h1M204 591h1M207 593h1M170 596h1M171 596h1M172 596h1M173 596h1M174 596h1M176 596h1M173 597h1M174 597h1M175 597h1M181 597h1M182 597h1M184 597h1M186 597h1M180 598h1M181 598h1M184 598h1M168 599h1M182 599h1M183 599h1M184 599h1M185 599h1M187 599h1M188 599h1M189 599h1M196 599h1M201 599h1M204 599h1M213 599h1M184 600h1M189 600h1M191 600h1M192 600h1M199 600h1M200 600h1M201 600h1M202 600h1M203 600h1M205 600h1M207 600h1M214 600h1M184 601h1M186 601h1M192 601h1M195 601h1M196 601h1M199 601h1M200 601h1M203 601h1M205 601h1M206 601h1M209 601h1M166 602h1M186 602h1M187 602h1M191 602h1M195 602h1M197 602h1M198 602h1M200 602h1M201 602h1M202 602h1M203 602h1M204 602h1M205 602h1M207 602h1M210 602h1M165 603h1M166 603h1M190 603h1M191 603h1M192 603h1M195 603h1M202 603h1M211 603h1M212 603h1M186 604h1M189 604h1M190 604h1M191 604h1M192 604h1M193 604h1M194 604h1M195 604h1M196 604h1M197 604h1M199 604h1M201 604h1M203 604h1M204 604h1M205 604h1M208 604h1M209 604h1M210 604h1M211 604h1M165 605h1M186 605h1M187 605h1M188 605h1M189 605h1M190 605h1M193 605h1M196 605h1M197 605h1M203 605h1M204 605h1M205 605h1M183 606h1M184 606h1M185 606h1M189 606h1M191 606h1M194 606h1M195 606h1M198 606h1M204 606h1M208 606h1M212 606h1M165 607h1M166 607h1M183 607h1M184 607h1M186 607h1M188 607h1M193 607h1M195 607h1M197 607h1M198 607h1M201 607h1M209 607h1M167 608h1M180 608h1M181 608h1M182 608h1M184 608h1M188 608h1M189 608h1M167 609h1M184 609h1M185 609h1M189 609h1M179 610h1M180 610h1M184 610h1M168 611h1M178 611h1M179 611h1M180 611h1M171 612h1M172 612h1M174 612h1" stroke="#323286" fill="none"/><path d="M182 564h1M183 564h1M184 564h1M185 564h1M191 564h1M192 564h1M188 565h1M191 565h1M192 565h1M209 565h1M183 566h1M186 566h1M187 566h1M188 566h1M190 566h1M192 566h1M197 566h1M204 566h1M206 566h1M181 567h1M183 567h1M184 567h1M186 567h1M187 567h1M188 567h1M191 567h1M192 567h1M194 567h1M197 567h1M198 567h1M199 567h1M201 567h1M203 567h1M204 567h1M205 567h1M185 568h1M186 568h1M187 568h1M189 568h1M198 568h1M199 568h1M200 568h1M201 568h1M203 568h1M207 568h1M183 569h1M186 569h1M187 569h1M188 569h1M190 569h1M198 569h1M199 569h1M205 569h1M206 569h1M208 569h1M209 569h1M184 570h1M189 570h1M192 570h1M196 570h1M197 570h1M203 570h1M207 570h1M209 570h1M210 570h1M185 571h1M192 571h1M202 571h1M207 571h1M213 571h1M203 572h1M204 572h1M206 572h1M203 573h1M205 573h1M206 573h1M208 573h1M210 573h1M204 577h1M205 577h1M206 577h1M207 577h1M209 577h1M207 578h1M207 579h1M209 579h1M206 580h1M208 580h1M209 583h1M201 588h1M171 597h1M172 597h1M170 598h1M172 598h1M173 598h1M174 598h1M170 599h1M175 599h1M176 599h1M177 599h1M178 599h1M179 599h1M181 599h1M168 600h1M176 600h1M177 600h1M178 600h1M179 600h1M180 600h1M183 600h1M185 600h1M178 601h1M181 601h1M183 601h1M191 601h1M167 602h1M178 602h1M179 602h1M181 602h1M182 602h1M183 602h1M184 602h1M185 602h1M167 603h1M179 603h1M180 603h1M181 603h1M182 603h1M184 603h1M186 603h1M187 603h1M188 603h1M204 603h1M166 604h1M181 604h1M183 604h1M184 604h1M198 604h1M200 604h1M166 605h1M177 605h1M180 605h1M181 605h1M182 605h1M183 605h1M184 605h1M185 605h1M191 605h1M199 605h1M200 605h1M166 606h1M179 606h1M181 606h1M187 606h1M188 606h1M179 607h1M180 607h1M181 607h1M182 607h1M177 608h1M178 608h1M179 608h1M183 608h1M186 608h1M168 609h1M175 609h1M177 609h1M182 609h1M169 610h1M174 610h1M175 610h1M176 610h1M169 611h1M170 611h1M171 611h1M172 611h1M173 611h1M174 611h1M175 611h1" stroke="#3a5a98" fill="none"/><path d="M171 599h1M172 599h1M173 599h1M174 599h1M169 600h1M170 600h1M174 600h1M175 600h1M168 601h1M170 601h1M175 601h1M176 601h1M177 601h1M168 602h1M176 602h1M177 602h1M168 603h1M176 603h1M177 603h1M178 603h1M167 604h1M168 604h1M176 604h1M177 604h1M178 604h1M180 604h1M182 604h1M167 605h1M176 605h1M178 605h1M179 605h1M167 606h1M168 606h1M176 606h1M177 606h1M178 606h1M182 606h1M167 607h1M176 607h1M177 607h1M178 607h1M168 608h1M169 608h1M176 608h1M169 609h1M170 609h1M174 609h1M176 609h1M170 610h1M171 610h1M172 610h1M173 610h1" stroke="#5c9a58" fill="none"/><path d="M171 600h1M172 600h1M173 600h1M169 601h1M171 601h1M172 601h1M173 601h1M174 601h1M169 602h1M174 602h1M175 602h1M175 603h1M175 604h1M168 605h1M175 605h1M169 606h1M175 606h1M169 607h1M174 607h1M175 607h1M170 608h1M172 608h1M173 608h1M174 608h1M175 608h1M171 609h1M172 609h1M173 609h1" stroke="#c4b646" fill="none"/><path d="M170 602h1M171 602h1M172 602h1M173 602h1M169 603h1M170 603h1M174 603h1M169 604h1M170 604h1M173 604h1M174 604h1M169 605h1M172 605h1M174 605h1M174 606h1M170 607h1M172 607h1M173 607h1M171 608h1" stroke="#d88c3c" fill="none"/><path d="M171 603h1M172 603h1M173 603h1M171 604h1M172 604h1M170 605h1M171 605h1M173 605h1M170 606h1M171 606h1M172 606h1M173 606h1M171 607h1" stroke="#cc3a2a" fill="none"/></g>
<g transform="translate(0 .5)" opacity="0.8" filter="url(#fb)"><path d="M304 550h1M304 551h1M311 553h1M313 553h1M279 555h1M304 555h1M309 556h1M313 556h1M272 557h1M298 557h1M306 557h1M310 557h1M312 557h1M266 558h1M268 558h1M275 558h1M289 558h1M296 558h1M297 558h1M298 558h1M300 558h1M303 558h1M304 558h1M305 558h1M308 558h1M270 559h1M274 559h1M275 559h1M286 559h1M292 559h1M323 559h1M325 559h1M270 560h1M279 560h1M301 560h1M317 560h1M322 560h1M259 561h1M261 561h1M275 561h1M311 561h1M318 561h1M259 562h1M257 563h1M258 563h1M262 563h1M265 563h1M325 563h1M256 564h1M266 564h1M318 564h1M266 565h1M319 566h1M322 566h1M259 567h1M263 567h1M323 567h1M262 568h1M322 568h1M324 568h1M256 569h1M259 569h1M261 569h1M323 570h1M263 571h1M265 571h1M262 572h1M265 572h1M259 573h1M258 574h1M267 574h1M324 575h1M259 576h1M262 576h1M265 576h1M267 576h1M270 576h1M269 577h1M270 577h1M274 577h1M323 577h1M265 578h1M319 578h1M323 578h1M325 578h1M264 579h1M269 579h1M264 580h1M271 580h1M273 580h1M275 580h1M278 580h1M279 580h1M286 580h1M316 580h1M322 580h1M271 581h1M279 581h1M319 581h1M323 581h1M267 582h1M268 582h1M272 582h1M273 582h1M277 582h1M278 582h1M316 582h1M317 582h1M320 582h1M267 583h1M272 583h1M274 583h1M275 583h1M276 583h1M288 583h1M298 583h1M290 584h1M319 584h1M323 584h1M325 584h1M269 585h1M272 585h1M274 585h1M275 585h1M286 585h1M290 585h1M304 585h1M316 585h1M320 585h1M266 586h1M271 586h1M273 586h1M276 586h1M279 586h1M295 586h1M304 586h1M312 586h1M318 586h1M319 586h1M320 586h1M264 587h1M300 587h1M312 587h1M268 588h1M276 588h1M277 588h1M312 588h1M313 588h1M315 588h1M318 588h1M283 589h1M309 589h1M312 589h1M315 589h1M323 589h1M268 590h1M276 590h1M280 590h1M316 590h1M275 591h1M296 591h1M314 591h1M266 592h1M300 592h1M306 592h1M317 592h1M318 592h1M319 592h1M320 592h1M324 592h1M263 593h1M274 593h1M279 593h1M280 593h1M305 593h1M312 593h1M315 593h1M320 593h1M275 594h1M312 594h1M270 595h1M273 595h1M307 595h1M313 595h1M322 595h1M265 596h1M268 596h1M304 596h1M305 596h1M309 596h1M314 596h1M316 596h1M317 596h1M266 597h1M307 597h1M312 597h1M323 597h1M312 598h1M313 598h1M316 598h1M317 598h1M313 599h1M310 600h1M256 601h1M258 601h1M312 601h1M259 603h1M312 604h1M260 605h1M262 605h1M313 605h1M310 606h1M315 606h1M313 607h1M262 608h1M291 609h1M290 610h1M295 610h1M302 610h1M289 611h1M291 611h1M300 611h1M280 612h1M287 612h1M299 612h1M270 613h1M271 613h1M276 613h1M280 613h1M282 613h1M283 613h1M294 613h1M279 615h1M285 615h1M296 615h1" stroke="#9898cc" fill="none"/><path d="M285 559h1M293 559h1M295 559h1M278 560h1M285 560h1M286 560h1M289 560h1M291 560h1M292 560h1M293 560h1M305 560h1M308 560h1M278 561h1M280 561h1M288 561h1M289 561h1M292 561h1M293 561h1M302 561h1M303 561h1M304 561h1M306 561h1M307 561h1M308 561h1M314 561h1M270 562h1M271 562h1M277 562h1M278 562h1M279 562h1M281 562h1M286 562h1M288 562h1M290 562h1M291 562h1M298 562h1M300 562h1M311 562h1M315 562h1M275 563h1M285 563h1M305 563h1M306 563h1M309 563h1M310 563h1M313 563h1M314 563h1M315 563h1M316 563h1M273 564h1M275 564h1M276 564h1M308 564h1M313 564h1M317 564h1M320 564h1M268 565h1M270 565h1M311 565h1M316 565h1M268 566h1M271 566h1M315 566h1M317 566h1M320 566h1M321 566h1M269 567h1M317 567h1M267 568h1M266 569h1M267 569h1M268 569h1M270 569h1M319 569h1M261 570h1M267 570h1M270 570h1M318 570h1M266 571h1M271 571h1M322 571h1M269 572h1M272 572h1M319 572h1M320 572h1M324 572h1M267 573h1M268 573h1M271 573h1M270 574h1M271 574h1M272 574h1M273 574h1M317 574h1M318 574h1M319 574h1M321 574h1M269 575h1M279 575h1M319 575h1M272 576h1M278 576h1M308 576h1M315 576h1M316 576h1M279 577h1M284 577h1M291 577h1M295 577h1M306 577h1M315 577h1M317 577h1M319 577h1M274 578h1M275 578h1M276 578h1M280 578h1M281 578h1M283 578h1M285 578h1M295 578h1M298 578h1M301 578h1M302 578h1M307 578h1M314 578h1M316 578h1M274 579h1M281 579h1M282 579h1M283 579h1M284 579h1M285 579h1M297 579h1M301 579h1M302 579h1M307 579h1M308 579h1M309 579h1M310 579h1M313 579h1M314 579h1M315 579h1M317 579h1M281 580h1M291 580h1M297 580h1M300 580h1M301 580h1M302 580h1M304 580h1M305 580h1M309 580h1M310 580h1M311 580h1M313 580h1M314 580h1M282 581h1M287 581h1M296 581h1M297 581h1M298 581h1M302 581h1M303 581h1M307 581h1M309 581h1M310 581h1M311 581h1M312 581h1M313 581h1M315 581h1M317 581h1M284 582h1M285 582h1M286 582h1M287 582h1M290 582h1M292 582h1M294 582h1M295 582h1M296 582h1M297 582h1M307 582h1M311 582h1M281 583h1M285 583h1M297 583h1M299 583h1M300 583h1M303 583h1M304 583h1M306 583h1M313 583h1M289 584h1M297 584h1M298 584h1M299 584h1M300 584h1M310 584h1M313 584h1M318 584h1M284 585h1M285 585h1M288 585h1M291 585h1M298 585h1M299 585h1M300 585h1M303 585h1M307 585h1M311 585h1M284 586h1M287 586h1M288 586h1M291 586h1M293 586h1M298 586h1M302 586h1M306 586h1M278 587h1M280 587h1M281 587h1M282 587h1M283 587h1M288 587h1M290 587h1M292 587h1M295 587h1M296 587h1M301 587h1M302 587h1M310 587h1M279 588h1M280 588h1M281 588h1M283 588h1M284 588h1M288 588h1M292 588h1M293 588h1M295 588h1M300 588h1M316 588h1M281 589h1M285 589h1M286 589h1M287 589h1M290 589h1M293 589h1M294 589h1M299 589h1M300 589h1M302 589h1M282 590h1M288 590h1M289 590h1M290 590h1M293 590h1M299 590h1M303 590h1M304 590h1M271 591h1M278 591h1M282 591h1M286 591h1M287 591h1M289 591h1M292 591h1M293 591h1M298 591h1M300 591h1M301 591h1M302 591h1M275 592h1M284 592h1M285 592h1M289 592h1M293 592h1M296 592h1M297 592h1M301 592h1M308 592h1M281 593h1M284 593h1M286 593h1M287 593h1M289 593h1M290 593h1M291 593h1M292 593h1M295 593h1M270 594h1M273 594h1M279 594h1M284 594h1M286 594h1M288 594h1M289 594h1M290 594h1M293 594h1M300 594h1M302 594h1M276 595h1M279 595h1M280 595h1M282 595h1M283 595h1M285 595h1M286 595h1M288 595h1M289 595h1M290 595h1M291 595h1M295 595h1M296 595h1M277 596h1M279 596h1M281 596h1M287 596h1M290 596h1M294 596h1M298 596h1M299 596h1M269 597h1M270 597h1M276 597h1M277 597h1M279 597h1M283 597h1M285 597h1M286 597h1M295 597h1M296 597h1M305 597h1M269 598h1M271 598h1M279 598h1M280 598h1M282 598h1M284 598h1M285 598h1M286 598h1M290 598h1M293 598h1M295 598h1M296 598h1M299 598h1M300 598h1M303 598h1M268 599h1M269 599h1M289 599h1M290 599h1M292 599h1M295 599h1M299 599h1M303 599h1M304 599h1M307 599h1M268 600h1M290 600h1M291 600h1M300 600h1M301 600h1M303 600h1M304 600h1M305 600h1M308 600h1M309 600h1M289 601h1M291 601h1M301 601h1M304 601h1M306 601h1M307 601h1M308 601h1M266 602h1M306 602h1M308 602h1M266 603h1M306 603h1M307 603h1M266 604h1M306 604h1M307 604h1M299 605h1M305 605h1M289 606h1M302 606h1M303 606h1M304 606h1M307 606h1M309 606h1M266 607h1M290 607h1M297 607h1M298 607h1M299 607h1M301 607h1M287 608h1M288 608h1M289 608h1M291 608h1M292 608h1M294 608h1M298 608h1M305 608h1M308 608h1M267 609h1M281 609h1M283 609h1M285 609h1M287 609h1M289 609h1M294 609h1M299 609h1M301 609h1M306 609h1M280 610h1M281 610h1M267 611h1M276 611h1M277 611h1M278 611h1M283 611h1M270 612h1M275 612h1M277 612h1" stroke="#5858a6" fill="none"/><path d="M296 562h1M281 563h1M283 563h1M284 563h1M286 563h1M288 563h1M289 563h1M292 563h1M294 563h1M299 563h1M302 563h1M303 563h1M304 563h1M307 563h1M308 563h1M311 563h1M277 564h1M278 564h1M279 564h1M280 564h1M281 564h1M282 564h1M284 564h1M290 564h1M293 564h1M295 564h1M299 564h1M300 564h1M302 564h1M306 564h1M311 564h1M314 564h1M273 565h1M288 565h1M299 565h1M302 565h1M303 565h1M308 565h1M309 565h1M310 565h1M313 565h1M273 566h1M274 566h1M276 566h1M277 566h1M278 566h1M279 566h1M280 566h1M311 566h1M312 566h1M313 566h1M273 567h1M274 567h1M275 567h1M276 567h1M278 567h1M312 567h1M271 568h1M272 568h1M313 568h1M314 568h1M272 569h1M273 569h1M274 569h1M312 569h1M313 569h1M315 569h1M316 569h1M317 569h1M268 570h1M309 570h1M313 570h1M317 570h1M272 571h1M274 571h1M275 571h1M277 571h1M314 571h1M316 571h1M268 572h1M273 572h1M276 572h1M272 573h1M274 573h1M281 573h1M313 573h1M314 573h1M275 574h1M276 574h1M277 574h1M280 574h1M310 574h1M311 574h1M315 574h1M316 574h1M281 575h1M283 575h1M285 575h1M292 575h1M294 575h1M308 575h1M311 575h1M315 575h1M317 575h1M276 576h1M279 576h1M280 576h1M281 576h1M283 576h1M287 576h1M289 576h1M294 576h1M295 576h1M297 576h1M304 576h1M307 576h1M312 576h1M313 576h1M314 576h1M280 577h1M281 577h1M287 577h1M289 577h1M290 577h1M294 577h1M298 577h1M300 577h1M301 577h1M302 577h1M304 577h1M308 577h1M312 577h1M314 577h1M284 578h1M294 578h1M297 578h1M299 578h1M300 578h1M305 578h1M306 578h1M310 578h1M294 579h1M303 579h1M304 579h1M306 579h1M293 580h1M294 580h1M293 581h1M286 590h1M291 590h1M278 597h1M287 597h1M298 597h1M275 598h1M276 598h1M270 599h1M272 599h1M274 599h1M275 599h1M276 599h1M277 599h1M280 599h1M281 599h1M282 599h1M284 599h1M286 599h1M306 599h1M275 600h1M278 600h1M279 600h1M280 600h1M285 600h1M287 600h1M288 600h1M293 600h1M294 600h1M295 600h1M282 601h1M284 601h1M285 601h1M287 601h1M288 601h1M292 601h1M293 601h1M294 601h1M299 601h1M300 601h1M267 602h1M288 602h1M289 602h1M290 602h1M291 602h1M292 602h1M293 602h1M294 602h1M295 602h1M296 602h1M297 602h1M298 602h1M299 602h1M300 602h1M302 602h1M305 602h1M307 602h1M284 603h1M290 603h1M292 603h1M294 603h1M299 603h1M300 603h1M302 603h1M284 604h1M289 604h1M290 604h1M296 604h1M297 604h1M300 604h1M302 604h1M280 605h1M283 605h1M284 605h1M286 605h1M287 605h1M295 605h1M300 605h1M301 605h1M286 606h1M287 606h1M288 606h1M290 606h1M292 606h1M295 606h1M296 606h1M298 606h1M301 606h1M278 607h1M282 607h1M283 607h1M288 607h1M292 607h1M293 607h1M294 607h1M295 607h1M300 607h1M302 607h1M279 608h1M280 608h1M282 608h1M283 608h1M284 608h1M277 609h1M278 609h1M279 609h1M282 609h1M267 610h1M268 610h1M277 610h1M278 610h1M274 611h1M272 612h1" stroke="#323286" fill="none"/><path d="M298 563h1M301 563h1M285 564h1M286 564h1M287 564h1M288 564h1M289 564h1M296 564h1M301 564h1M305 564h1M307 564h1M281 565h1M283 565h1M284 565h1M285 565h1M287 565h1M289 565h1M290 565h1M294 565h1M295 565h1M296 565h1M297 565h1M301 565h1M304 565h1M305 565h1M306 565h1M307 565h1M281 566h1M282 566h1M283 566h1M284 566h1M285 566h1M286 566h1M287 566h1M288 566h1M289 566h1M290 566h1M294 566h1M295 566h1M296 566h1M298 566h1M299 566h1M301 566h1M303 566h1M304 566h1M305 566h1M306 566h1M307 566h1M308 566h1M309 566h1M277 567h1M279 567h1M280 567h1M282 567h1M285 567h1M286 567h1M287 567h1M290 567h1M291 567h1M294 567h1M295 567h1M297 567h1M298 567h1M299 567h1M300 567h1M304 567h1M305 567h1M306 567h1M307 567h1M308 567h1M310 567h1M273 568h1M274 568h1M275 568h1M276 568h1M277 568h1M279 568h1M280 568h1M281 568h1M283 568h1M284 568h1M285 568h1M286 568h1M289 568h1M290 568h1M293 568h1M296 568h1M299 568h1M302 568h1M303 568h1M304 568h1M306 568h1M307 568h1M308 568h1M309 568h1M310 568h1M275 569h1M277 569h1M278 569h1M279 569h1M281 569h1M283 569h1M286 569h1M287 569h1M290 569h1M291 569h1M293 569h1M299 569h1M304 569h1M305 569h1M307 569h1M308 569h1M309 569h1M310 569h1M311 569h1M276 570h1M278 570h1M279 570h1M280 570h1M281 570h1M282 570h1M284 570h1M286 570h1M290 570h1M292 570h1M297 570h1M298 570h1M302 570h1M303 570h1M304 570h1M305 570h1M306 570h1M308 570h1M311 570h1M312 570h1M314 570h1M276 571h1M278 571h1M280 571h1M281 571h1M282 571h1M285 571h1M286 571h1M287 571h1M288 571h1M291 571h1M293 571h1M294 571h1M297 571h1M300 571h1M303 571h1M304 571h1M305 571h1M306 571h1M307 571h1M308 571h1M309 571h1M310 571h1M312 571h1M271 572h1M277 572h1M278 572h1M279 572h1M280 572h1M281 572h1M282 572h1M284 572h1M289 572h1M291 572h1M296 572h1M299 572h1M300 572h1M301 572h1M302 572h1M304 572h1M305 572h1M306 572h1M307 572h1M308 572h1M309 572h1M310 572h1M312 572h1M313 572h1M276 573h1M277 573h1M278 573h1M280 573h1M282 573h1M283 573h1M284 573h1M285 573h1M289 573h1M290 573h1M291 573h1M292 573h1M294 573h1M296 573h1M298 573h1M299 573h1M300 573h1M301 573h1M302 573h1M304 573h1M305 573h1M306 573h1M308 573h1M309 573h1M310 573h1M311 573h1M312 573h1M279 574h1M283 574h1M284 574h1M285 574h1M287 574h1M288 574h1M289 574h1M290 574h1M291 574h1M292 574h1M293 574h1M294 574h1M295 574h1M296 574h1M297 574h1M298 574h1M299 574h1M301 574h1M304 574h1M305 574h1M306 574h1M307 574h1M309 574h1M280 575h1M284 575h1M286 575h1M288 575h1M289 575h1M290 575h1M291 575h1M293 575h1M295 575h1M296 575h1M297 575h1M298 575h1M299 575h1M301 575h1M303 575h1M304 575h1M306 575h1M307 575h1M285 576h1M288 576h1M290 576h1M291 576h1M292 576h1M298 576h1M299 576h1M303 576h1M311 576h1M273 598h1M271 599h1M269 600h1M272 600h1M273 600h1M274 600h1M276 600h1M277 600h1M281 600h1M283 600h1M268 601h1M269 601h1M270 601h1M276 601h1M277 601h1M278 601h1M279 601h1M283 601h1M276 602h1M277 602h1M278 602h1M279 602h1M280 602h1M282 602h1M284 602h1M301 602h1M277 603h1M278 603h1M279 603h1M281 603h1M282 603h1M283 603h1M285 603h1M287 603h1M293 603h1M296 603h1M301 603h1M304 603h1M279 604h1M280 604h1M281 604h1M283 604h1M287 604h1M288 604h1M293 604h1M267 605h1M277 605h1M278 605h1M279 605h1M281 605h1M282 605h1M288 605h1M289 605h1M291 605h1M292 605h1M303 605h1M278 606h1M279 606h1M280 606h1M281 606h1M284 606h1M285 606h1M267 607h1M277 607h1M267 608h1M277 608h1M278 608h1M269 610h1M274 610h1M275 610h1M270 611h1M271 611h1M272 611h1" stroke="#3a5a98" fill="none"/><path d="M298 565h1M291 566h1M292 566h1M293 566h1M297 566h1M281 567h1M283 567h1M284 567h1M288 567h1M289 567h1M292 567h1M293 567h1M301 567h1M288 568h1M291 568h1M292 568h1M294 568h1M295 568h1M297 568h1M298 568h1M300 568h1M301 568h1M305 568h1M280 569h1M284 569h1M285 569h1M288 569h1M289 569h1M292 569h1M294 569h1M295 569h1M296 569h1M297 569h1M298 569h1M300 569h1M301 569h1M303 569h1M277 570h1M283 570h1M285 570h1M287 570h1M288 570h1M289 570h1M291 570h1M293 570h1M294 570h1M295 570h1M296 570h1M299 570h1M300 570h1M301 570h1M283 571h1M284 571h1M289 571h1M292 571h1M296 571h1M299 571h1M301 571h1M302 571h1M285 572h1M286 572h1M287 572h1M288 572h1M292 572h1M293 572h1M294 572h1M295 572h1M297 572h1M298 572h1M286 573h1M287 573h1M288 573h1M293 573h1M295 573h1M286 574h1M302 574h1M271 600h1M271 601h1M272 601h1M273 601h1M274 601h1M269 602h1M272 602h1M274 602h1M275 602h1M268 603h1M275 603h1M276 603h1M267 604h1M268 604h1M275 604h1M276 604h1M277 604h1M268 605h1M276 605h1M267 606h1M268 606h1M276 606h1M277 606h1M268 607h1M276 607h1M268 608h1M274 608h1M275 608h1M268 609h1M269 609h1M275 609h1M270 610h1M271 610h1M272 610h1M273 610h1" stroke="#5c9a58" fill="none"/><path d="M270 602h1M271 602h1M269 603h1M274 603h1M274 604h1M275 605h1M275 606h1M269 607h1M274 607h1M275 607h1M269 608h1M270 608h1M270 609h1M272 609h1M273 609h1M274 609h1" stroke="#c4b646" fill="none"/><path d="M270 603h1M271 603h1M272 603h1M273 603h1M269 604h1M273 604h1M269 605h1M273 605h1M274 605h1M269 606h1M272 606h1M274 606h1M270 607h1M272 607h1M271 608h1M272 608h1M273 608h1M271 609h1" stroke="#d88c3c" fill="none"/><path d="M270 604h1M271 604h1M272 604h1M270 605h1M271 605h1M272 605h1M270 606h1M271 606h1M273 606h1M271 607h1M273 607h1" stroke="#cc3a2a" fill="none"/></g>
<text x="54.5" y="347" font-size="11" textLength="44.25" lengthAdjust="spacingAndGlyphs">Round #1</text>
<text x="54.5" y="526" font-size="11" textLength="44.75" lengthAdjust="spacingAndGlyphs">Round #2</text>
<text x="90.9" y="360.9" font-size="9.4" text-anchor="middle" textLength="38.25" lengthAdjust="spacingAndGlyphs">Snai1 +/+</text>
<rect x="53.5" y="366.5" width="75.0" height="75.0" fill="none" stroke="#8e8e8e" stroke-width="1.2"/>
<path d="M52.1 385.7h1.4M52.1 382.7h1.4M52.1 378.9h1.4M52.1 376.4h1.4M52.1 402.8h1.4M52.1 399.8h1.4M52.1 396.0h1.4M52.1 393.5h1.4M51.9 368.7h1.6M51.9 365.7h1.6M90.2 441.5v1.4M93.6 441.5v1.4M97.8 441.5v1.4M100.6 441.5v1.4M108.8 441.5v1.4M111.9 441.5v1.4M115.8 441.5v1.4M118.4 441.5v1.4" stroke="#555" stroke-width="0.6" fill="none"/>
<rect x="51.7" y="431.2" width="1.8" height="2.2" fill="#111"/>
<rect x="63.00000000000001" y="441.5" width="5" height="1.6" fill="#111"/>
<text x="48.75" y="376.40000000000003" font-size="8.8" text-anchor="end">10<tspan dy="-3.6" font-size="6.8">5</tspan></text>
<line x1="50.7" y1="373.8" x2="53.5" y2="373.8" stroke="#000" stroke-width="1"/>
<text x="48.75" y="393.40000000000003" font-size="8.8" text-anchor="end">10<tspan dy="-3.6" font-size="6.8">4</tspan></text>
<line x1="50.7" y1="390.8" x2="53.5" y2="390.8" stroke="#000" stroke-width="1"/>
<text x="48.75" y="410.6" font-size="8.8" text-anchor="end">10<tspan dy="-3.6" font-size="6.8">3</tspan></text>
<line x1="50.7" y1="408" x2="53.5" y2="408" stroke="#000" stroke-width="1"/>
<text x="48.75" y="434.59999999999997" font-size="8.8" text-anchor="end">0</text>
<line x1="50.7" y1="431.7" x2="53.5" y2="431.7" stroke="#000" stroke-width="1"/>
<text x="66.4" y="452.9" font-size="8.8" text-anchor="middle">0</text>
<text x="84.5" y="452.9" font-size="8.8" text-anchor="middle">10<tspan dy="-3.6" font-size="6.8">3</tspan></text>
<text x="103.5" y="452.9" font-size="8.8" text-anchor="middle">10<tspan dy="-3.6" font-size="6.8">4</tspan></text>
<text x="121.1" y="452.9" font-size="8.8" text-anchor="middle">10<tspan dy="-3.6" font-size="6.8">5</tspan></text>
<rect x="63.5" y="371.5" width="35.0" height="37.0" fill="none" stroke="#8a8a8a" stroke-width="1.1"/>
<rect x="98.5" y="370.5" width="30.0" height="50.0" fill="none" stroke="#8a8a8a" stroke-width="1.1"/>
<line x1="98.5" y1="370.5" x2="98.5" y2="420.5" stroke="#3a3a3a" stroke-width="1.2"/>
<text x="68.5" y="404.3" font-size="8.4" fill="#fff" stroke="#fff" stroke-width="2" stroke-opacity="0.6" fill-opacity="0.6">9%</text>
<text x="68.5" y="404.3" font-size="8.4" fill="#000">9%</text>
<text x="112.1" y="417.8" font-size="8.4" fill="#fff" stroke="#fff" stroke-width="2" stroke-opacity="0.6" fill-opacity="0.6">61%</text>
<text x="112.1" y="417.8" font-size="8.4" fill="#000">61%</text>
<text x="190.6" y="360.9" font-size="9.4" text-anchor="middle" textLength="41.25" lengthAdjust="spacingAndGlyphs">Snai1 tg/+</text>
<rect x="153.5" y="366.5" width="76.0" height="75.0" fill="none" stroke="#8e8e8e" stroke-width="1.2"/>
<path d="M152.1 385.7h1.4M152.1 382.7h1.4M152.1 378.9h1.4M152.1 376.4h1.4M152.1 402.8h1.4M152.1 399.8h1.4M152.1 396.0h1.4M152.1 393.5h1.4M151.9 368.7h1.6M151.9 365.7h1.6M190.4 441.5v1.4M193.8 441.5v1.4M198.0 441.5v1.4M200.8 441.5v1.4M209.0 441.5v1.4M212.1 441.5v1.4M216.0 441.5v1.4M218.6 441.5v1.4" stroke="#555" stroke-width="0.6" fill="none"/>
<rect x="151.7" y="431.2" width="1.8" height="2.2" fill="#111"/>
<rect x="163.2" y="441.5" width="5" height="1.6" fill="#111"/>
<text x="147.3" y="376.40000000000003" font-size="8.8" text-anchor="end">10<tspan dy="-3.6" font-size="6.8">5</tspan></text>
<line x1="150.7" y1="373.8" x2="153.5" y2="373.8" stroke="#000" stroke-width="1"/>
<text x="147.3" y="393.40000000000003" font-size="8.8" text-anchor="end">10<tspan dy="-3.6" font-size="6.8">4</tspan></text>
<line x1="150.7" y1="390.8" x2="153.5" y2="390.8" stroke="#000" stroke-width="1"/>
<text x="147.3" y="410.6" font-size="8.8" text-anchor="end">10<tspan dy="-3.6" font-size="6.8">3</tspan></text>
<line x1="150.7" y1="408" x2="153.5" y2="408" stroke="#000" stroke-width="1"/>
<text x="147.3" y="434.59999999999997" font-size="8.8" text-anchor="end">0</text>
<line x1="150.7" y1="431.7" x2="153.5" y2="431.7" stroke="#000" stroke-width="1"/>
<text x="166.6" y="452.9" font-size="8.8" text-anchor="middle">0</text>
<text x="184.7" y="452.9" font-size="8.8" text-anchor="middle">10<tspan dy="-3.6" font-size="6.8">3</tspan></text>
<text x="203.7" y="452.9" font-size="8.8" text-anchor="middle">10<tspan dy="-3.6" font-size="6.8">4</tspan></text>
<text x="221.29999999999998" y="452.9" font-size="8.8" text-anchor="middle">10<tspan dy="-3.6" font-size="6.8">5</tspan></text>
<rect x="163.5" y="371.5" width="35.0" height="37.0" fill="none" stroke="#8a8a8a" stroke-width="1.1"/>
<rect x="198.5" y="370.5" width="31.0" height="50.0" fill="none" stroke="#8a8a8a" stroke-width="1.1"/>
<line x1="198.5" y1="370.5" x2="198.5" y2="420.5" stroke="#3a3a3a" stroke-width="1.2"/>
<text x="165" y="405.5" font-size="8.4" fill="#fff" stroke="#fff" stroke-width="2" stroke-opacity="0.6" fill-opacity="0.6">20%</text>
<text x="165" y="405.5" font-size="8.4" fill="#000">20%</text>
<text x="212" y="418" font-size="8.4" fill="#fff" stroke="#fff" stroke-width="2" stroke-opacity="0.6" fill-opacity="0.6">40%</text>
<text x="212" y="418" font-size="8.4" fill="#000">40%</text>
<text x="290.9" y="360.9" font-size="9.4" text-anchor="middle" textLength="43.25" lengthAdjust="spacingAndGlyphs">Snai1 tg/tg</text>
<rect x="252.5" y="366.5" width="76.0" height="75.0" fill="none" stroke="#8e8e8e" stroke-width="1.2"/>
<path d="M251.1 385.7h1.4M251.1 382.7h1.4M251.1 378.9h1.4M251.1 376.4h1.4M251.1 402.8h1.4M251.1 399.8h1.4M251.1 396.0h1.4M251.1 393.5h1.4M250.9 368.7h1.6M250.9 365.7h1.6M289.4 441.5v1.4M292.8 441.5v1.4M297.0 441.5v1.4M299.8 441.5v1.4M308.0 441.5v1.4M311.1 441.5v1.4M315.0 441.5v1.4M317.6 441.5v1.4" stroke="#555" stroke-width="0.6" fill="none"/>
<rect x="250.7" y="431.2" width="1.8" height="2.2" fill="#111"/>
<rect x="262.2" y="441.5" width="5" height="1.6" fill="#111"/>
<text x="246.3" y="376.40000000000003" font-size="8.8" text-anchor="end">10<tspan dy="-3.6" font-size="6.8">5</tspan></text>
<line x1="249.7" y1="373.8" x2="252.5" y2="373.8" stroke="#000" stroke-width="1"/>
<text x="246.3" y="393.40000000000003" font-size="8.8" text-anchor="end">10<tspan dy="-3.6" font-size="6.8">4</tspan></text>
<line x1="249.7" y1="390.8" x2="252.5" y2="390.8" stroke="#000" stroke-width="1"/>
<text x="246.3" y="410.6" font-size="8.8" text-anchor="end">10<tspan dy="-3.6" font-size="6.8">3</tspan></text>
<line x1="249.7" y1="408" x2="252.5" y2="408" stroke="#000" stroke-width="1"/>
<text x="246.3" y="434.59999999999997" font-size="8.8" text-anchor="end">0</text>
<line x1="249.7" y1="431.7" x2="252.5" y2="431.7" stroke="#000" stroke-width="1"/>
<text x="265.59999999999997" y="452.9" font-size="8.8" text-anchor="middle">0</text>
<text x="283.7" y="452.9" font-size="8.8" text-anchor="middle">10<tspan dy="-3.6" font-size="6.8">3</tspan></text>
<text x="302.7" y="452.9" font-size="8.8" text-anchor="middle">10<tspan dy="-3.6" font-size="6.8">4</tspan></text>
<text x="320.29999999999995" y="452.9" font-size="8.8" text-anchor="middle">10<tspan dy="-3.6" font-size="6.8">5</tspan></text>
<rect x="262.5" y="371.5" width="35.0" height="37.0" fill="none" stroke="#8a8a8a" stroke-width="1.1"/>
<rect x="297.5" y="370.5" width="31.0" height="50.0" fill="none" stroke="#8a8a8a" stroke-width="1.1"/>
<line x1="297.5" y1="370.5" x2="297.5" y2="420.5" stroke="#3a3a3a" stroke-width="1.2"/>
<text x="265.5" y="406" font-size="8.4" fill="#fff" stroke="#fff" stroke-width="2" stroke-opacity="0.6" fill-opacity="0.6">38%</text>
<text x="265.5" y="406" font-size="8.4" fill="#000">38%</text>
<text x="310.75" y="418.5" font-size="8.4" fill="#fff" stroke="#fff" stroke-width="2" stroke-opacity="0.6" fill-opacity="0.6">33%</text>
<text x="310.75" y="418.5" font-size="8.4" fill="#000">33%</text>
<text x="90.9" y="540.4" font-size="9.4" text-anchor="middle" textLength="35.75" lengthAdjust="spacingAndGlyphs">Snail +/+</text>
<rect x="54.5" y="545.5" width="73.0" height="73.0" fill="none" stroke="#8e8e8e" stroke-width="1.2"/>
<path d="M53.1 563.7h1.4M53.1 560.7h1.4M53.1 557.0h1.4M53.1 554.5h1.4M53.1 580.7h1.4M53.1 577.7h1.4M53.1 573.9h1.4M53.1 571.4h1.4M52.9 546.8h1.6M52.9 543.8h1.6M90.2 618.5v1.4M93.5 618.5v1.4M97.6 618.5v1.4M100.4 618.5v1.4M108.3 618.5v1.4M111.2 618.5v1.4M114.9 618.5v1.4M117.3 618.5v1.4" stroke="#555" stroke-width="0.6" fill="none"/>
<rect x="52.7" y="609.1" width="1.8" height="2.2" fill="#111"/>
<rect x="68.3" y="618.5" width="5" height="1.6" fill="#111"/>
<text x="48.75" y="554.5" font-size="8.8" text-anchor="end">10<tspan dy="-3.6" font-size="6.8">5</tspan></text>
<line x1="51.7" y1="551.9" x2="54.5" y2="551.9" stroke="#000" stroke-width="1"/>
<text x="48.75" y="571.4" font-size="8.8" text-anchor="end">10<tspan dy="-3.6" font-size="6.8">4</tspan></text>
<line x1="51.7" y1="568.8" x2="54.5" y2="568.8" stroke="#000" stroke-width="1"/>
<text x="48.75" y="588.4" font-size="8.8" text-anchor="end">10<tspan dy="-3.6" font-size="6.8">3</tspan></text>
<line x1="51.7" y1="585.8" x2="54.5" y2="585.8" stroke="#000" stroke-width="1"/>
<text x="48.75" y="612.5" font-size="8.8" text-anchor="end">0</text>
<line x1="51.7" y1="609.6" x2="54.5" y2="609.6" stroke="#000" stroke-width="1"/>
<text x="71.7" y="629.5" font-size="8.8" text-anchor="middle">0</text>
<text x="84.5" y="629.5" font-size="8.8" text-anchor="middle">10<tspan dy="-3.6" font-size="6.8">3</tspan></text>
<text x="103.3" y="629.5" font-size="8.8" text-anchor="middle">10<tspan dy="-3.6" font-size="6.8">4</tspan></text>
<text x="119.9" y="629.5" font-size="8.8" text-anchor="middle">10<tspan dy="-3.6" font-size="6.8">5</tspan></text>
<rect x="70.5" y="557.5" width="29.0" height="26.0" fill="none" stroke="#8a8a8a" stroke-width="1.1"/>
<rect x="99.5" y="557.5" width="28.0" height="40.0" fill="none" stroke="#8a8a8a" stroke-width="1.1"/>
<line x1="99.5" y1="557.5" x2="99.5" y2="597.5" stroke="#3a3a3a" stroke-width="1.2"/>
<text x="72.7" y="583.4" font-size="8.4" fill="#fff" stroke="#fff" stroke-width="2" stroke-opacity="0.6" fill-opacity="0.6">5%</text>
<text x="72.7" y="583.4" font-size="8.4" fill="#000">5%</text>
<text x="111.2" y="596.5" font-size="8.4" fill="#fff" stroke="#fff" stroke-width="2" stroke-opacity="0.6" fill-opacity="0.6">22%</text>
<text x="111.2" y="596.5" font-size="8.4" fill="#000">22%</text>
<text x="190.4" y="540.4" font-size="9.4" text-anchor="middle" textLength="38.25" lengthAdjust="spacingAndGlyphs">Snail tg/+</text>
<rect x="153.5" y="545.5" width="74.0" height="73.0" fill="none" stroke="#8e8e8e" stroke-width="1.2"/>
<path d="M152.1 563.7h1.4M152.1 560.7h1.4M152.1 557.0h1.4M152.1 554.5h1.4M152.1 580.7h1.4M152.1 577.7h1.4M152.1 573.9h1.4M152.1 571.4h1.4M151.9 546.8h1.6M151.9 543.8h1.6M189.5 618.5v1.4M192.8 618.5v1.4M196.9 618.5v1.4M199.7 618.5v1.4M207.6 618.5v1.4M210.5 618.5v1.4M214.2 618.5v1.4M216.6 618.5v1.4" stroke="#555" stroke-width="0.6" fill="none"/>
<rect x="151.7" y="609.1" width="1.8" height="2.2" fill="#111"/>
<rect x="167.6" y="618.5" width="5" height="1.6" fill="#111"/>
<text x="148" y="554.5" font-size="8.8" text-anchor="end">10<tspan dy="-3.6" font-size="6.8">5</tspan></text>
<line x1="150.7" y1="551.9" x2="153.5" y2="551.9" stroke="#000" stroke-width="1"/>
<text x="148" y="571.4" font-size="8.8" text-anchor="end">10<tspan dy="-3.6" font-size="6.8">4</tspan></text>
<line x1="150.7" y1="568.8" x2="153.5" y2="568.8" stroke="#000" stroke-width="1"/>
<text x="148" y="588.4" font-size="8.8" text-anchor="end">10<tspan dy="-3.6" font-size="6.8">3</tspan></text>
<line x1="150.7" y1="585.8" x2="153.5" y2="585.8" stroke="#000" stroke-width="1"/>
<text x="148" y="612.5" font-size="8.8" text-anchor="end">0</text>
<line x1="150.7" y1="609.6" x2="153.5" y2="609.6" stroke="#000" stroke-width="1"/>
<text x="171.0" y="629.5" font-size="8.8" text-anchor="middle">0</text>
<text x="183.8" y="629.5" font-size="8.8" text-anchor="middle">10<tspan dy="-3.6" font-size="6.8">3</tspan></text>
<text x="202.60000000000002" y="629.5" font-size="8.8" text-anchor="middle">10<tspan dy="-3.6" font-size="6.8">4</tspan></text>
<text x="219.20000000000002" y="629.5" font-size="8.8" text-anchor="middle">10<tspan dy="-3.6" font-size="6.8">5</tspan></text>
<rect x="169.5" y="557.5" width="30.0" height="26.0" fill="none" stroke="#8a8a8a" stroke-width="1.1"/>
<rect x="199.5" y="557.5" width="28.0" height="40.0" fill="none" stroke="#8a8a8a" stroke-width="1.1"/>
<line x1="199.5" y1="557.5" x2="199.5" y2="597.5" stroke="#3a3a3a" stroke-width="1.2"/>
<text x="172" y="581.75" font-size="8.4" fill="#fff" stroke="#fff" stroke-width="2" stroke-opacity="0.6" fill-opacity="0.6">13%</text>
<text x="172" y="581.75" font-size="8.4" fill="#000">13%</text>
<text x="211.25" y="595" font-size="8.4" fill="#fff" stroke="#fff" stroke-width="2" stroke-opacity="0.6" fill-opacity="0.6">12%</text>
<text x="211.25" y="595" font-size="8.4" fill="#000">12%</text>
<text x="290.9" y="540.4" font-size="9.4" text-anchor="middle" textLength="40.75" lengthAdjust="spacingAndGlyphs">Snail tg/tg</text>
<rect x="253.5" y="545.5" width="74.0" height="73.0" fill="none" stroke="#8e8e8e" stroke-width="1.2"/>
<path d="M252.1 563.7h1.4M252.1 560.7h1.4M252.1 557.0h1.4M252.1 554.5h1.4M252.1 580.7h1.4M252.1 577.7h1.4M252.1 573.9h1.4M252.1 571.4h1.4M251.9 546.8h1.6M251.9 543.8h1.6M289.5 618.5v1.4M292.8 618.5v1.4M296.9 618.5v1.4M299.7 618.5v1.4M307.6 618.5v1.4M310.5 618.5v1.4M314.2 618.5v1.4M316.6 618.5v1.4" stroke="#555" stroke-width="0.6" fill="none"/>
<rect x="251.7" y="609.1" width="1.8" height="2.2" fill="#111"/>
<rect x="267.6" y="618.5" width="5" height="1.6" fill="#111"/>
<text x="248" y="554.5" font-size="8.8" text-anchor="end">10<tspan dy="-3.6" font-size="6.8">5</tspan></text>
<line x1="250.7" y1="551.9" x2="253.5" y2="551.9" stroke="#000" stroke-width="1"/>
<text x="248" y="571.4" font-size="8.8" text-anchor="end">10<tspan dy="-3.6" font-size="6.8">4</tspan></text>
<line x1="250.7" y1="568.8" x2="253.5" y2="568.8" stroke="#000" stroke-width="1"/>
<text x="248" y="588.4" font-size="8.8" text-anchor="end">10<tspan dy="-3.6" font-size="6.8">3</tspan></text>
<line x1="250.7" y1="585.8" x2="253.5" y2="585.8" stroke="#000" stroke-width="1"/>
<text x="248" y="612.5" font-size="8.8" text-anchor="end">0</text>
<line x1="250.7" y1="609.6" x2="253.5" y2="609.6" stroke="#000" stroke-width="1"/>
<text x="271.0" y="629.5" font-size="8.8" text-anchor="middle">0</text>
<text x="283.8" y="629.5" font-size="8.8" text-anchor="middle">10<tspan dy="-3.6" font-size="6.8">3</tspan></text>
<text x="302.6" y="629.5" font-size="8.8" text-anchor="middle">10<tspan dy="-3.6" font-size="6.8">4</tspan></text>
<text x="319.20000000000005" y="629.5" font-size="8.8" text-anchor="middle">10<tspan dy="-3.6" font-size="6.8">5</tspan></text>
<rect x="269.5" y="557.5" width="30.0" height="26.0" fill="none" stroke="#8a8a8a" stroke-width="1.1"/>
<rect x="299.5" y="557.5" width="27.0" height="40.0" fill="none" stroke="#8a8a8a" stroke-width="1.1"/>
<line x1="299.5" y1="557.5" x2="299.5" y2="597.5" stroke="#3a3a3a" stroke-width="1.2"/>
<text x="272.5" y="582.5" font-size="8.4" fill="#fff" stroke="#fff" stroke-width="2" stroke-opacity="0.6" fill-opacity="0.6">25%</text>
<text x="272.5" y="582.5" font-size="8.4" fill="#000">25%</text>
<text x="311.25" y="595.5" font-size="8.4" fill="#fff" stroke="#fff" stroke-width="2" stroke-opacity="0.6" fill-opacity="0.6">17%</text>
<text x="311.25" y="595.5" font-size="8.4" fill="#000">17%</text>
<line x1="26.3" y1="412" x2="26.3" y2="371.8" stroke="#000" stroke-width="1"/>
<path d="M23.900000000000002,372.8 L26.3,367.8 L28.7,372.8 Z" fill="#000"/>
<text transform="translate(30.2 441) rotate(-90)" font-size="10.5" textLength="24.3" lengthAdjust="spacingAndGlyphs">CD11b</text>
<line x1="71" y1="464.3" x2="322.5" y2="464.3" stroke="#000" stroke-width="1"/>
<path d="M321.5,461.90000000000003 L326.5,464.3 L321.5,466.7 Z" fill="#000"/>
<text x="54.2" y="468.6" font-size="10.5" textLength="12.2" lengthAdjust="spacingAndGlyphs">Gr1</text>
<line x1="26.3" y1="588.5" x2="26.3" y2="549.2" stroke="#000" stroke-width="1"/>
<path d="M23.900000000000002,550.2 L26.3,545.2 L28.7,550.2 Z" fill="#000"/>
<text transform="translate(30.2 618) rotate(-90)" font-size="10.5" textLength="24.3" lengthAdjust="spacingAndGlyphs">CD11b</text>
<line x1="54.7" y1="642.6" x2="326" y2="642.6" stroke="#000" stroke-width="1"/>
<path d="M325,640.2 L330,642.6 L325,645.0 Z" fill="#000"/>
<text x="37.4" y="646.9" font-size="10.5" textLength="12.8" lengthAdjust="spacingAndGlyphs">Gr1</text>
<path d="M0 0H520V691H0Z M1.2 1.2V689.8H518.8V1.2Z" fill="#000" fill-rule="evenodd"/>
</svg></body></html>
